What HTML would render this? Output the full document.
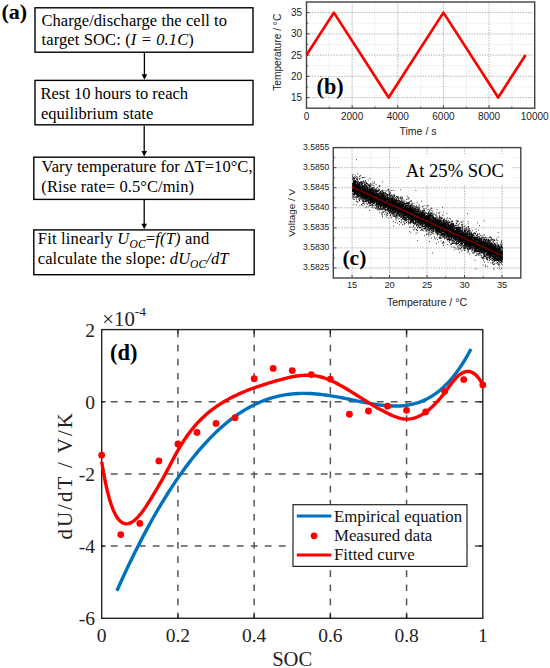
<!DOCTYPE html>
<html><head><meta charset="utf-8"><style>
html,body{margin:0;padding:0;background:#fff;}
svg{display:block;}
</style></head><body>
<svg width="550" height="668" viewBox="0 0 550 668">
<rect width="550" height="668" fill="#fff"/>
<text x="1.5" y="19" font-family="'Liberation Serif', serif" font-weight="bold" font-size="22">(a)</text>
<rect x="35" y="7.8" width="218.00" height="44.40" fill="none" stroke="#000" stroke-width="1.4"/>
<rect x="35" y="80.4" width="218.00" height="44.40" fill="none" stroke="#000" stroke-width="1.4"/>
<rect x="33.8" y="157.2" width="220.40" height="42.20" fill="none" stroke="#000" stroke-width="1.4"/>
<rect x="33.8" y="229.9" width="220.40" height="44.80" fill="none" stroke="#000" stroke-width="1.4"/>
<line x1="144.4" y1="52.5" x2="144.4" y2="75.2" stroke="#000" stroke-width="1.3"/>
<path d="M141.6,74.2 L147.20000000000002,74.2 L144.4,79.7 Z" fill="#000"/>
<line x1="144.2" y1="125.5" x2="144.2" y2="152.0" stroke="#000" stroke-width="1.3"/>
<path d="M141.39999999999998,151.0 L147.0,151.0 L144.2,156.5 Z" fill="#000"/>
<line x1="144.2" y1="200.1" x2="144.2" y2="224.7" stroke="#000" stroke-width="1.3"/>
<path d="M141.39999999999998,223.7 L147.0,223.7 L144.2,229.2 Z" fill="#000"/>
<text x="41.5" y="25.7" font-family="'Liberation Serif', serif" font-size="16.5" textLength="185.5" lengthAdjust="spacing">Charge/discharge the cell to</text>
<text x="41.5" y="44.7" font-family="'Liberation Serif', serif" font-size="16.5" textLength="152.3" lengthAdjust="spacing">target SOC: (<tspan font-style="italic">I = 0.1C</tspan>)</text>
<text x="40.5" y="99.0" font-family="'Liberation Serif', serif" font-size="16.5">Rest 10 hours to reach</text>
<text x="41" y="118.8" font-family="'Liberation Serif', serif" font-size="16.5">equilibrium</text>
<text x="123" y="118.8" font-family="'Liberation Serif', serif" font-size="16.5">state</text>
<text x="41.5" y="171.7" font-family="'Liberation Serif', serif" font-size="16.5" textLength="211" lengthAdjust="spacing">Vary temperature for ΔT=10°C,</text>
<text x="41.3" y="191.8" font-family="'Liberation Serif', serif" font-size="16.5" textLength="152.8" lengthAdjust="spacing">(Rise rate= 0.5°C/min)</text>
<text x="37.8" y="244.4" font-family="'Liberation Serif', serif" font-size="16.5" textLength="171.5" lengthAdjust="spacing">Fit linearly <tspan font-style="italic">U</tspan><tspan font-style="italic" font-size="11.5" dy="3.8">OC</tspan><tspan dy="-3.8">=</tspan><tspan font-style="italic">f(T)</tspan> and</text>
<text x="37.8" y="264.2" font-family="'Liberation Serif', serif" font-size="16.5" textLength="190.6" lengthAdjust="spacing">calculate the slope: <tspan font-style="italic">dU</tspan><tspan font-style="italic" font-size="11.5" dy="3.8">OC</tspan><tspan font-style="italic" dy="-3.8">/dT</tspan></text>
<line x1="329.32" y1="2.0" x2="329.32" y2="108.2" stroke="#e2e2e2" stroke-width="0.9" stroke-dasharray="1.4 1.3"/>
<line x1="352.14" y1="2.0" x2="352.14" y2="108.2" stroke="#a8a8a8" stroke-width="0.9" stroke-dasharray="1.4 1.3"/>
<line x1="374.96" y1="2.0" x2="374.96" y2="108.2" stroke="#e2e2e2" stroke-width="0.9" stroke-dasharray="1.4 1.3"/>
<line x1="397.78" y1="2.0" x2="397.78" y2="108.2" stroke="#a8a8a8" stroke-width="0.9" stroke-dasharray="1.4 1.3"/>
<line x1="420.60" y1="2.0" x2="420.60" y2="108.2" stroke="#e2e2e2" stroke-width="0.9" stroke-dasharray="1.4 1.3"/>
<line x1="443.42" y1="2.0" x2="443.42" y2="108.2" stroke="#a8a8a8" stroke-width="0.9" stroke-dasharray="1.4 1.3"/>
<line x1="466.24" y1="2.0" x2="466.24" y2="108.2" stroke="#e2e2e2" stroke-width="0.9" stroke-dasharray="1.4 1.3"/>
<line x1="489.06" y1="2.0" x2="489.06" y2="108.2" stroke="#a8a8a8" stroke-width="0.9" stroke-dasharray="1.4 1.3"/>
<line x1="511.88" y1="2.0" x2="511.88" y2="108.2" stroke="#e2e2e2" stroke-width="0.9" stroke-dasharray="1.4 1.3"/>
<line x1="306.5" y1="97.58" x2="534.7" y2="97.58" stroke="#a8a8a8" stroke-width="0.9" stroke-dasharray="1.4 1.3"/>
<line x1="306.5" y1="86.96" x2="534.7" y2="86.96" stroke="#e2e2e2" stroke-width="0.9" stroke-dasharray="1.4 1.3"/>
<line x1="306.5" y1="76.34" x2="534.7" y2="76.34" stroke="#a8a8a8" stroke-width="0.9" stroke-dasharray="1.4 1.3"/>
<line x1="306.5" y1="65.72" x2="534.7" y2="65.72" stroke="#e2e2e2" stroke-width="0.9" stroke-dasharray="1.4 1.3"/>
<line x1="306.5" y1="55.10" x2="534.7" y2="55.10" stroke="#a8a8a8" stroke-width="0.9" stroke-dasharray="1.4 1.3"/>
<line x1="306.5" y1="44.48" x2="534.7" y2="44.48" stroke="#e2e2e2" stroke-width="0.9" stroke-dasharray="1.4 1.3"/>
<line x1="306.5" y1="33.86" x2="534.7" y2="33.86" stroke="#a8a8a8" stroke-width="0.9" stroke-dasharray="1.4 1.3"/>
<line x1="306.5" y1="23.24" x2="534.7" y2="23.24" stroke="#e2e2e2" stroke-width="0.9" stroke-dasharray="1.4 1.3"/>
<line x1="306.5" y1="12.62" x2="534.7" y2="12.62" stroke="#a8a8a8" stroke-width="0.9" stroke-dasharray="1.4 1.3"/>
<line x1="329.32" y1="108.2" x2="329.32" y2="106.60000000000001" stroke="#444" stroke-width="1"/>
<line x1="352.14" y1="108.2" x2="352.14" y2="105.2" stroke="#444" stroke-width="1"/>
<line x1="374.96" y1="108.2" x2="374.96" y2="106.60000000000001" stroke="#444" stroke-width="1"/>
<line x1="397.78" y1="108.2" x2="397.78" y2="105.2" stroke="#444" stroke-width="1"/>
<line x1="420.60" y1="108.2" x2="420.60" y2="106.60000000000001" stroke="#444" stroke-width="1"/>
<line x1="443.42" y1="108.2" x2="443.42" y2="105.2" stroke="#444" stroke-width="1"/>
<line x1="466.24" y1="108.2" x2="466.24" y2="106.60000000000001" stroke="#444" stroke-width="1"/>
<line x1="489.06" y1="108.2" x2="489.06" y2="105.2" stroke="#444" stroke-width="1"/>
<line x1="511.88" y1="108.2" x2="511.88" y2="106.60000000000001" stroke="#444" stroke-width="1"/>
<line x1="306.5" y1="97.58" x2="309.5" y2="97.58" stroke="#444" stroke-width="1"/>
<line x1="306.5" y1="86.96" x2="308.1" y2="86.96" stroke="#444" stroke-width="1"/>
<line x1="306.5" y1="76.34" x2="309.5" y2="76.34" stroke="#444" stroke-width="1"/>
<line x1="306.5" y1="65.72" x2="308.1" y2="65.72" stroke="#444" stroke-width="1"/>
<line x1="306.5" y1="55.10" x2="309.5" y2="55.10" stroke="#444" stroke-width="1"/>
<line x1="306.5" y1="44.48" x2="308.1" y2="44.48" stroke="#444" stroke-width="1"/>
<line x1="306.5" y1="33.86" x2="309.5" y2="33.86" stroke="#444" stroke-width="1"/>
<line x1="306.5" y1="23.24" x2="308.1" y2="23.24" stroke="#444" stroke-width="1"/>
<line x1="306.5" y1="12.62" x2="309.5" y2="12.62" stroke="#444" stroke-width="1"/>
<rect x="306.5" y="2.0" width="228.20" height="106.20" fill="none" stroke="#444" stroke-width="1.4"/>
<polyline points="306.50,55.10 333.88,12.62 388.65,97.58 443.42,12.62 498.19,97.58 525.57,55.10" fill="none" stroke="#f00" stroke-width="2.7" stroke-linejoin="round"/>
<text x="306.50" y="119.5" font-family="'Liberation Sans', sans-serif" font-size="10" text-anchor="middle" fill="#222">0</text>
<text x="352.14" y="119.5" font-family="'Liberation Sans', sans-serif" font-size="10" text-anchor="middle" fill="#222">2000</text>
<text x="397.78" y="119.5" font-family="'Liberation Sans', sans-serif" font-size="10" text-anchor="middle" fill="#222">4000</text>
<text x="443.42" y="119.5" font-family="'Liberation Sans', sans-serif" font-size="10" text-anchor="middle" fill="#222">6000</text>
<text x="489.06" y="119.5" font-family="'Liberation Sans', sans-serif" font-size="10" text-anchor="middle" fill="#222">8000</text>
<text x="534.70" y="119.5" font-family="'Liberation Sans', sans-serif" font-size="10" text-anchor="middle" fill="#222">10000</text>
<text x="302" y="101.18" font-family="'Liberation Sans', sans-serif" font-size="10" text-anchor="end" fill="#222">15</text>
<text x="302" y="79.94" font-family="'Liberation Sans', sans-serif" font-size="10" text-anchor="end" fill="#222">20</text>
<text x="302" y="58.70" font-family="'Liberation Sans', sans-serif" font-size="10" text-anchor="end" fill="#222">25</text>
<text x="302" y="37.46" font-family="'Liberation Sans', sans-serif" font-size="10" text-anchor="end" fill="#222">30</text>
<text x="302" y="16.22" font-family="'Liberation Sans', sans-serif" font-size="10" text-anchor="end" fill="#222">35</text>
<text x="418" y="135" font-family="'Liberation Sans', sans-serif" font-size="10.5" text-anchor="middle" fill="#222">Time / s</text>
<text transform="translate(280.8,52.3) rotate(-90)" x="0" y="0" font-family="'Liberation Sans', sans-serif" font-size="10.2" text-anchor="middle" fill="#222">Temperature / °C</text>
<text x="316.5" y="94" font-family="'Liberation Serif', serif" font-weight="bold" font-size="22.2">(b)</text>
<line x1="352.05" y1="147.6" x2="352.05" y2="278.0" stroke="#a8a8a8" stroke-width="0.9" stroke-dasharray="1.4 1.3"/>
<line x1="370.80" y1="147.6" x2="370.80" y2="278.0" stroke="#e2e2e2" stroke-width="0.9" stroke-dasharray="1.4 1.3"/>
<line x1="389.55" y1="147.6" x2="389.55" y2="278.0" stroke="#a8a8a8" stroke-width="0.9" stroke-dasharray="1.4 1.3"/>
<line x1="408.30" y1="147.6" x2="408.30" y2="278.0" stroke="#e2e2e2" stroke-width="0.9" stroke-dasharray="1.4 1.3"/>
<line x1="427.05" y1="147.6" x2="427.05" y2="278.0" stroke="#a8a8a8" stroke-width="0.9" stroke-dasharray="1.4 1.3"/>
<line x1="445.80" y1="147.6" x2="445.80" y2="278.0" stroke="#e2e2e2" stroke-width="0.9" stroke-dasharray="1.4 1.3"/>
<line x1="464.55" y1="147.6" x2="464.55" y2="278.0" stroke="#a8a8a8" stroke-width="0.9" stroke-dasharray="1.4 1.3"/>
<line x1="483.30" y1="147.6" x2="483.30" y2="278.0" stroke="#e2e2e2" stroke-width="0.9" stroke-dasharray="1.4 1.3"/>
<line x1="502.05" y1="147.6" x2="502.05" y2="278.0" stroke="#a8a8a8" stroke-width="0.9" stroke-dasharray="1.4 1.3"/>
<line x1="333.3" y1="267.97" x2="520.8" y2="267.97" stroke="#a8a8a8" stroke-width="0.9" stroke-dasharray="1.4 1.3"/>
<line x1="333.3" y1="257.94" x2="520.8" y2="257.94" stroke="#e2e2e2" stroke-width="0.9" stroke-dasharray="1.4 1.3"/>
<line x1="333.3" y1="247.91" x2="520.8" y2="247.91" stroke="#a8a8a8" stroke-width="0.9" stroke-dasharray="1.4 1.3"/>
<line x1="333.3" y1="237.88" x2="520.8" y2="237.88" stroke="#e2e2e2" stroke-width="0.9" stroke-dasharray="1.4 1.3"/>
<line x1="333.3" y1="227.85" x2="520.8" y2="227.85" stroke="#a8a8a8" stroke-width="0.9" stroke-dasharray="1.4 1.3"/>
<line x1="333.3" y1="217.82" x2="520.8" y2="217.82" stroke="#e2e2e2" stroke-width="0.9" stroke-dasharray="1.4 1.3"/>
<line x1="333.3" y1="207.78" x2="520.8" y2="207.78" stroke="#a8a8a8" stroke-width="0.9" stroke-dasharray="1.4 1.3"/>
<line x1="333.3" y1="197.75" x2="520.8" y2="197.75" stroke="#e2e2e2" stroke-width="0.9" stroke-dasharray="1.4 1.3"/>
<line x1="333.3" y1="187.72" x2="520.8" y2="187.72" stroke="#a8a8a8" stroke-width="0.9" stroke-dasharray="1.4 1.3"/>
<line x1="333.3" y1="177.69" x2="520.8" y2="177.69" stroke="#e2e2e2" stroke-width="0.9" stroke-dasharray="1.4 1.3"/>
<line x1="333.3" y1="167.66" x2="520.8" y2="167.66" stroke="#a8a8a8" stroke-width="0.9" stroke-dasharray="1.4 1.3"/>
<line x1="333.3" y1="157.63" x2="520.8" y2="157.63" stroke="#e2e2e2" stroke-width="0.9" stroke-dasharray="1.4 1.3"/>
<line x1="352.05" y1="278.0" x2="352.05" y2="275.0" stroke="#444" stroke-width="1"/>
<line x1="370.80" y1="278.0" x2="370.80" y2="276.4" stroke="#444" stroke-width="1"/>
<line x1="389.55" y1="278.0" x2="389.55" y2="275.0" stroke="#444" stroke-width="1"/>
<line x1="408.30" y1="278.0" x2="408.30" y2="276.4" stroke="#444" stroke-width="1"/>
<line x1="427.05" y1="278.0" x2="427.05" y2="275.0" stroke="#444" stroke-width="1"/>
<line x1="445.80" y1="278.0" x2="445.80" y2="276.4" stroke="#444" stroke-width="1"/>
<line x1="464.55" y1="278.0" x2="464.55" y2="275.0" stroke="#444" stroke-width="1"/>
<line x1="483.30" y1="278.0" x2="483.30" y2="276.4" stroke="#444" stroke-width="1"/>
<line x1="502.05" y1="278.0" x2="502.05" y2="275.0" stroke="#444" stroke-width="1"/>
<line x1="333.3" y1="267.97" x2="336.3" y2="267.97" stroke="#444" stroke-width="1"/>
<line x1="333.3" y1="257.94" x2="334.90000000000003" y2="257.94" stroke="#444" stroke-width="1"/>
<line x1="333.3" y1="247.91" x2="336.3" y2="247.91" stroke="#444" stroke-width="1"/>
<line x1="333.3" y1="237.88" x2="334.90000000000003" y2="237.88" stroke="#444" stroke-width="1"/>
<line x1="333.3" y1="227.85" x2="336.3" y2="227.85" stroke="#444" stroke-width="1"/>
<line x1="333.3" y1="217.82" x2="334.90000000000003" y2="217.82" stroke="#444" stroke-width="1"/>
<line x1="333.3" y1="207.78" x2="336.3" y2="207.78" stroke="#444" stroke-width="1"/>
<line x1="333.3" y1="197.75" x2="334.90000000000003" y2="197.75" stroke="#444" stroke-width="1"/>
<line x1="333.3" y1="187.72" x2="336.3" y2="187.72" stroke="#444" stroke-width="1"/>
<line x1="333.3" y1="177.69" x2="334.90000000000003" y2="177.69" stroke="#444" stroke-width="1"/>
<line x1="333.3" y1="167.66" x2="336.3" y2="167.66" stroke="#444" stroke-width="1"/>
<line x1="333.3" y1="157.63" x2="334.90000000000003" y2="157.63" stroke="#444" stroke-width="1"/>
<rect x="399.5" y="154" width="112.5" height="30.5" fill="#fff"/>
<clipPath id="cc"><rect x="334.0" y="148.29999999999998" width="186.10" height="129.00"/></clipPath>
<path clip-path="url(#cc)" d="M445.8 228.5h.8M486.6 246.7h.8M468.4 231.1h.8M385.8 206.4h.8M397.1 205.5h.8M483.1 243.3h.8M352.8 186.7h.8M475.2 244.2h.8M471.6 246.4h.8M422.2 221.7h.8M397.5 204.1h.8M393.8 198.7h.8M390.3 207.4h.8M418.8 215.0h.8M427.7 220.0h.8M435.1 219.8h.8M501.4 253.8h.8M470.9 239.0h.8M445.4 225.0h.8M500.4 260.3h.8M384.3 201.3h.8M376.1 206.3h.8M443.9 238.4h.8M358.6 193.8h.8M357.4 196.7h.8M429.3 219.6h.8M422.0 213.9h.8M489.6 251.2h.8M446.4 230.6h.8M429.2 223.2h.8M426.6 206.2h.8M389.2 203.1h.8M353.8 185.8h.8M380.9 202.2h.8M455.9 238.1h.8M382.1 203.0h.8M407.5 214.7h.8M352.6 178.4h.8M476.6 236.6h.8M375.2 198.5h.8M392.2 198.5h.8M484.1 252.9h.8M428.5 225.1h.8M479.1 242.5h.8M448.0 228.3h.8M463.3 238.4h.8M365.8 183.1h.8M433.2 223.5h.8M428.2 220.2h.8M482.8 249.3h.8M406.2 203.5h.8M441.8 223.6h.8M360.9 188.8h.8M410.2 221.3h.8M400.5 207.2h.8M374.6 199.3h.8M474.5 240.9h.8M409.0 208.4h.8M498.9 257.5h.8M440.5 226.2h.8M442.8 224.0h.8M447.7 229.7h.8M453.5 234.8h.8M374.7 189.9h.8M418.1 220.2h.8M388.0 209.3h.8M412.4 209.6h.8M366.6 192.9h.8M497.2 259.0h.8M384.3 201.5h.8M452.8 239.1h.8M397.1 223.3h.8M483.2 240.9h.8M451.4 226.5h.8M371.8 202.9h.8M478.8 248.2h.8M493.8 250.6h.8M487.6 250.6h.8M437.5 230.0h.8M373.9 199.2h.8M380.9 201.1h.8M491.2 253.1h.8M434.9 223.6h.8M379.1 200.3h.8M484.7 251.1h.8M448.3 230.7h.8M437.5 233.9h.8M408.5 205.6h.8M413.7 229.3h.8M388.0 203.6h.8M357.8 187.7h.8M483.5 244.9h.8M422.2 217.6h.8M434.2 218.3h.8M400.4 214.3h.8M464.7 238.7h.8M355.8 187.8h.8M407.9 214.7h.8M356.6 191.7h.8M370.5 189.0h.8M497.1 256.6h.8M450.7 234.2h.8M416.3 205.4h.8M430.6 223.7h.8M483.0 245.9h.8M403.7 211.4h.8M440.6 225.5h.8M454.6 233.0h.8M405.4 208.9h.8M429.9 215.8h.8M466.8 243.4h.8M488.4 241.2h.8M374.7 199.3h.8M492.1 247.6h.8M352.8 186.4h.8M465.0 239.9h.8M473.6 251.8h.8M372.6 184.0h.8M414.9 219.2h.8M474.3 246.5h.8M354.2 182.7h.8M446.3 229.6h.8M471.0 232.1h.8M429.0 216.8h.8M460.9 233.2h.8M386.0 201.1h.8M381.8 201.6h.8M406.5 218.0h.8M379.0 198.3h.8M404.0 209.8h.8M494.3 254.1h.8M438.0 224.9h.8M403.1 217.2h.8M392.8 201.1h.8M494.9 246.0h.8M418.7 223.5h.8M499.1 253.4h.8M429.4 210.8h.8M430.2 220.6h.8M486.5 253.3h.8M463.5 242.5h.8M439.1 222.6h.8M416.0 207.3h.8M483.8 252.3h.8M413.8 214.9h.8M490.5 253.8h.8M362.4 192.9h.8M416.5 214.8h.8M430.0 222.7h.8M494.7 255.3h.8M389.7 194.0h.8M473.0 242.9h.8M453.5 234.1h.8M459.6 230.7h.8M446.5 230.0h.8M497.8 254.5h.8M402.0 205.1h.8M411.8 219.1h.8M382.5 197.2h.8M359.7 185.4h.8M384.0 198.3h.8M489.4 250.5h.8M478.1 244.5h.8M368.9 202.7h.8M442.6 228.9h.8M423.9 218.3h.8M441.3 222.4h.8M450.9 231.4h.8M398.0 209.7h.8M496.3 256.8h.8M421.9 219.0h.8M446.3 229.3h.8M447.3 224.6h.8M379.6 199.4h.8M361.3 193.5h.8M413.8 215.6h.8M466.7 241.6h.8M474.3 243.9h.8M461.5 247.4h.8M369.0 202.2h.8M489.1 255.2h.8M472.4 239.6h.8M483.7 247.4h.8M430.5 221.2h.8M489.4 244.1h.8M359.0 195.0h.8M356.6 183.5h.8M355.1 186.4h.8M390.0 207.6h.8M389.3 196.8h.8M380.2 206.5h.8M437.1 231.1h.8M357.9 190.5h.8M440.6 225.4h.8M377.0 199.1h.8M453.7 243.5h.8M355.2 189.7h.8M398.6 208.5h.8M492.8 239.1h.8M432.8 217.2h.8M473.8 241.9h.8M450.8 237.2h.8M443.7 227.1h.8M380.7 205.5h.8M438.2 225.3h.8M358.0 187.8h.8M472.3 243.7h.8M496.1 251.5h.8M480.2 247.0h.8M359.7 193.0h.8M402.8 202.8h.8M399.8 205.9h.8M369.0 196.0h.8M446.0 233.5h.8M471.7 240.7h.8M399.1 205.7h.8M481.5 242.0h.8M471.6 234.5h.8M371.4 193.5h.8M467.1 244.8h.8M484.4 237.8h.8M381.6 194.9h.8M438.1 222.3h.8M447.9 226.5h.8M443.5 235.7h.8M366.5 195.2h.8M451.2 234.6h.8M446.8 224.6h.8M475.6 229.4h.8M472.6 243.5h.8M401.1 202.1h.8M460.4 245.8h.8M482.1 248.2h.8M486.0 239.2h.8M376.3 204.2h.8M356.1 186.5h.8M449.7 232.6h.8M384.3 199.2h.8M436.6 226.8h.8M493.8 255.6h.8M408.9 211.9h.8M390.0 210.5h.8M420.5 215.7h.8M450.6 233.5h.8M367.2 189.4h.8M409.1 215.1h.8M372.1 199.2h.8M451.4 230.4h.8M476.6 238.0h.8M408.6 222.6h.8M407.8 211.8h.8M433.0 220.9h.8M384.3 208.4h.8M389.2 208.0h.8M401.5 206.4h.8M420.7 222.2h.8M364.3 195.5h.8M465.0 230.4h.8M438.9 231.1h.8M397.0 211.5h.8M363.7 203.2h.8M466.5 244.4h.8M371.7 201.7h.8M372.0 187.9h.8M371.7 190.1h.8M364.2 198.4h.8M488.0 239.7h.8M392.4 201.7h.8M398.0 208.8h.8M477.0 240.2h.8M445.0 227.6h.8M380.1 203.3h.8M417.3 225.1h.8M484.6 251.8h.8M408.4 212.7h.8M458.7 237.3h.8M366.6 197.0h.8M461.1 232.2h.8M468.5 245.2h.8M475.9 239.3h.8M453.2 235.4h.8M407.7 211.8h.8M361.7 196.6h.8M429.9 222.5h.8M465.7 242.6h.8M380.7 208.3h.8M392.0 205.2h.8M432.5 223.9h.8M464.3 234.3h.8M486.5 247.1h.8M370.9 200.3h.8M379.7 202.4h.8M472.0 243.8h.8M448.7 236.4h.8M460.2 230.2h.8M501.6 248.1h.8M492.9 247.7h.8M478.5 243.3h.8M468.6 237.4h.8M411.3 211.7h.8M448.2 239.1h.8M379.7 203.7h.8M466.0 233.4h.8M465.7 233.3h.8M460.2 241.1h.8M418.8 218.9h.8M408.8 214.7h.8M415.0 218.3h.8M357.1 193.6h.8M478.7 254.0h.8M433.4 223.4h.8M410.2 211.1h.8M434.3 225.5h.8M460.3 228.3h.8M409.3 210.3h.8M476.6 247.2h.8M490.0 247.2h.8M410.2 220.6h.8M372.7 191.3h.8M466.1 237.8h.8M501.0 255.9h.8M374.2 194.3h.8M459.0 228.9h.8M475.8 245.7h.8M490.1 254.8h.8M370.6 185.3h.8M365.8 193.1h.8M500.2 247.6h.8M369.6 198.1h.8M378.6 197.2h.8M438.3 229.4h.8M419.0 214.5h.8M464.6 239.7h.8M380.6 203.2h.8M489.2 242.2h.8M384.6 200.2h.8M467.4 249.3h.8M362.2 192.7h.8M423.1 223.8h.8M356.9 194.9h.8M399.1 211.2h.8M398.9 210.6h.8M460.0 236.1h.8M420.3 221.9h.8M360.6 199.7h.8M501.4 257.8h.8M485.4 243.7h.8M489.5 256.3h.8M389.0 200.9h.8M411.2 211.8h.8M386.1 204.6h.8M370.8 194.0h.8M357.0 192.7h.8M427.6 223.4h.8M370.5 200.2h.8M378.5 196.8h.8M481.1 239.4h.8M424.7 223.4h.8M379.6 193.8h.8M452.5 243.1h.8M391.9 209.4h.8M431.1 227.9h.8M394.5 198.1h.8M429.5 225.2h.8M446.3 226.3h.8M432.5 233.5h.8M411.4 213.5h.8M470.7 238.5h.8M483.1 247.0h.8M379.0 212.3h.8M372.5 195.4h.8M369.0 190.8h.8M499.0 247.8h.8M493.3 249.6h.8M386.7 210.8h.8M497.5 254.5h.8M383.2 196.8h.8M428.0 225.6h.8M426.7 218.3h.8M489.3 248.2h.8M358.1 189.3h.8M399.4 204.9h.8M442.0 231.5h.8M362.0 177.7h.8M387.5 202.4h.8M421.8 217.2h.8M484.2 250.9h.8M466.2 238.8h.8M476.4 245.1h.8M466.2 246.1h.8M458.2 242.8h.8M479.5 243.8h.8M454.3 234.1h.8M462.4 250.0h.8M397.3 217.9h.8M377.2 199.9h.8M465.5 239.2h.8M376.9 195.4h.8M490.0 256.0h.8M441.5 225.0h.8M401.5 211.0h.8M492.5 253.6h.8M375.3 198.2h.8M429.2 217.5h.8M365.8 190.5h.8M496.9 248.9h.8M438.4 229.7h.8M472.6 243.4h.8M394.3 211.9h.8M472.3 244.6h.8M457.5 237.1h.8M448.6 233.3h.8M494.6 248.7h.8M417.1 214.6h.8M414.3 211.7h.8M455.9 233.8h.8M477.3 239.1h.8M402.3 209.4h.8M452.5 228.2h.8M383.4 198.8h.8M434.8 221.2h.8M467.4 240.0h.8M361.8 197.4h.8M461.2 243.8h.8M354.4 178.6h.8M495.8 250.8h.8M422.4 216.9h.8M413.4 215.8h.8M460.1 238.6h.8M430.5 209.0h.8M461.7 242.5h.8M364.8 193.0h.8M436.5 225.8h.8M435.8 230.7h.8M491.9 257.0h.8M358.0 193.0h.8M420.0 219.6h.8M446.7 232.6h.8M434.7 220.8h.8M363.2 197.7h.8M441.0 225.7h.8M385.4 195.1h.8M381.4 196.0h.8M483.9 252.7h.8M381.7 214.7h.8M420.2 214.0h.8M464.6 236.0h.8M458.1 239.1h.8M435.1 218.7h.8M473.1 244.2h.8M421.9 218.4h.8M445.1 234.5h.8M474.9 241.6h.8M453.8 235.5h.8M448.3 233.4h.8M413.0 209.6h.8M435.8 224.2h.8M411.5 221.3h.8M463.7 234.7h.8M409.1 209.0h.8M422.0 222.9h.8M465.4 240.6h.8M427.6 221.2h.8M402.8 211.3h.8M476.1 243.1h.8M409.2 209.9h.8M478.8 247.2h.8M469.8 230.8h.8M419.1 221.0h.8M459.0 238.4h.8M357.2 179.8h.8M410.5 211.3h.8M481.1 245.8h.8M439.0 227.6h.8M435.7 230.4h.8M451.8 227.0h.8M453.7 232.6h.8M439.6 231.0h.8M415.1 213.8h.8M379.6 192.9h.8M395.9 203.7h.8M396.0 196.4h.8M416.7 210.9h.8M501.9 253.3h.8M404.9 211.3h.8M419.2 215.0h.8M407.8 206.6h.8M439.3 222.7h.8M494.2 246.9h.8M485.4 246.8h.8M408.6 209.1h.8M392.1 199.4h.8M484.7 248.4h.8M426.1 227.0h.8M454.9 225.6h.8M363.0 193.2h.8M482.0 248.5h.8M399.0 207.3h.8M426.2 222.0h.8M381.8 208.7h.8M415.1 216.6h.8M476.3 250.6h.8M476.2 242.7h.8M423.1 219.9h.8M467.2 234.1h.8M420.8 218.9h.8M408.1 210.7h.8M433.9 225.8h.8M382.3 202.6h.8M399.5 215.4h.8M458.0 230.6h.8M467.6 239.0h.8M360.6 193.6h.8M462.0 236.2h.8M474.7 245.0h.8M418.8 221.0h.8M361.4 190.0h.8M454.5 227.9h.8M389.0 205.1h.8M448.6 237.9h.8M408.5 215.7h.8M447.6 222.0h.8M390.8 208.5h.8M423.5 213.9h.8M430.8 210.7h.8M446.7 226.7h.8M382.5 201.4h.8M496.4 260.5h.8M395.4 208.7h.8M398.0 197.7h.8M390.5 205.1h.8M362.2 188.8h.8M415.5 217.6h.8M467.8 240.5h.8M458.5 234.1h.8M381.4 198.1h.8M372.6 185.6h.8M400.3 209.0h.8M467.3 240.5h.8M425.3 223.6h.8M490.5 239.6h.8M450.5 239.7h.8M445.2 226.3h.8M467.2 248.5h.8M464.6 231.6h.8M403.6 206.4h.8M390.6 206.0h.8M417.7 222.5h.8M425.4 220.3h.8M373.3 196.5h.8M418.2 211.8h.8M448.0 234.4h.8M372.4 196.7h.8M372.8 196.6h.8M378.1 200.2h.8M394.5 209.4h.8M496.3 261.1h.8M355.9 196.6h.8M379.6 202.8h.8M376.8 199.3h.8M423.2 214.6h.8M354.3 176.8h.8M420.8 210.1h.8M376.5 196.2h.8M392.5 196.4h.8M470.9 241.8h.8M379.7 202.1h.8M444.6 228.4h.8M413.0 219.9h.8M414.7 217.5h.8M474.6 244.2h.8M376.2 190.9h.8M490.6 253.1h.8M486.1 244.4h.8M452.3 234.7h.8M359.5 196.2h.8M451.5 231.3h.8M442.1 227.3h.8M467.9 245.4h.8M384.1 205.7h.8M495.1 256.1h.8M485.0 243.1h.8M369.2 192.5h.8M399.3 207.4h.8M356.9 186.8h.8M476.7 246.2h.8M489.3 247.4h.8M500.5 257.7h.8M443.8 235.3h.8M451.9 236.0h.8M453.8 232.4h.8M437.6 225.6h.8M494.9 247.2h.8M443.2 236.7h.8M402.4 211.0h.8M429.0 220.2h.8M354.8 192.8h.8M460.7 235.4h.8M456.1 236.5h.8M415.2 221.2h.8M479.8 239.9h.8M465.4 245.4h.8M402.6 205.2h.8M363.7 194.2h.8M371.9 200.5h.8M379.7 203.8h.8M397.6 211.3h.8M419.2 221.7h.8M491.2 249.3h.8M393.8 215.0h.8M486.8 242.6h.8M454.1 229.6h.8M480.1 238.8h.8M412.5 219.3h.8M352.5 198.3h.8M470.1 243.9h.8M388.9 204.5h.8M373.4 195.2h.8M472.0 244.2h.8M455.0 234.4h.8M383.9 200.7h.8M392.2 212.7h.8M492.9 242.6h.8M392.3 210.7h.8M457.4 233.8h.8M371.5 190.6h.8M474.3 246.6h.8M369.7 194.9h.8M429.5 214.4h.8M357.3 190.6h.8M434.6 219.6h.8M479.0 243.6h.8M364.7 191.6h.8M393.2 202.2h.8M466.8 240.4h.8M443.3 229.6h.8M399.0 203.7h.8M446.4 228.8h.8M420.3 215.7h.8M481.4 249.2h.8M396.0 206.9h.8M465.7 233.0h.8M447.4 226.1h.8M463.1 236.0h.8M408.8 215.3h.8M460.8 239.5h.8M456.8 232.7h.8M410.2 206.6h.8M356.0 188.5h.8M496.5 246.6h.8M459.1 237.3h.8M382.8 195.1h.8M461.7 241.8h.8M393.9 205.1h.8M422.4 224.2h.8M481.0 242.7h.8M419.3 214.8h.8M395.3 211.2h.8M397.9 211.4h.8M363.6 194.3h.8M385.0 209.1h.8M392.7 209.9h.8M378.0 207.0h.8M361.5 187.4h.8M421.9 212.1h.8M384.2 203.7h.8M462.9 238.9h.8M490.4 249.1h.8M393.0 208.1h.8M437.9 227.4h.8M428.1 217.6h.8M363.3 190.9h.8M370.8 195.8h.8M484.8 250.3h.8M423.2 212.3h.8M472.7 245.0h.8M362.0 190.8h.8M441.3 232.6h.8M481.8 249.1h.8M482.1 245.9h.8M352.9 189.1h.8M430.3 220.1h.8M407.4 211.8h.8M466.1 245.6h.8M363.0 203.0h.8M391.8 200.2h.8M473.9 245.4h.8M422.5 212.0h.8M420.0 217.9h.8M497.3 257.0h.8M400.0 206.1h.8M358.3 191.0h.8M410.9 213.7h.8M375.1 201.8h.8M364.3 189.4h.8M437.2 220.5h.8M495.1 254.8h.8M439.0 218.0h.8M449.1 234.0h.8M400.6 207.9h.8M437.7 233.9h.8M464.9 247.7h.8M440.4 217.2h.8M472.5 235.1h.8M434.6 219.1h.8M381.8 196.3h.8M439.5 225.7h.8M425.7 218.5h.8M376.9 197.9h.8M444.9 227.9h.8M474.6 247.3h.8M372.3 196.9h.8M433.8 229.7h.8M462.1 238.9h.8M412.5 212.7h.8M392.6 209.1h.8M407.9 213.7h.8M433.3 226.1h.8M455.0 233.9h.8M435.9 220.8h.8M368.1 193.1h.8M474.7 241.1h.8M490.6 257.2h.8M367.2 195.6h.8M389.5 200.1h.8M378.1 202.9h.8M479.4 247.2h.8M488.6 254.0h.8M358.7 183.5h.8M401.9 211.9h.8M380.9 203.6h.8M422.5 216.1h.8M490.3 244.8h.8M362.6 189.3h.8M377.7 193.9h.8M425.1 219.3h.8M430.7 223.4h.8M463.9 240.1h.8M417.7 219.3h.8M373.2 199.4h.8M405.1 209.4h.8M499.4 254.8h.8M464.7 238.0h.8M369.5 191.9h.8M473.3 242.6h.8M398.7 214.8h.8M469.3 244.3h.8M354.0 178.4h.8M482.7 265.0h.8M376.4 197.5h.8M420.4 223.9h.8M451.3 238.5h.8M428.2 226.9h.8M376.9 194.0h.8M372.9 197.9h.8M394.7 201.6h.8M359.9 190.9h.8M384.5 211.4h.8M371.6 193.1h.8M421.8 215.9h.8M405.5 210.8h.8M440.1 232.1h.8M394.2 208.4h.8M357.1 194.9h.8M401.7 210.9h.8M465.3 238.3h.8M390.4 197.3h.8M412.7 207.9h.8M465.3 235.4h.8M413.1 210.2h.8M485.1 246.7h.8M489.8 236.6h.8M398.6 200.9h.8M462.4 224.7h.8M390.0 202.4h.8M373.0 194.5h.8M417.7 211.9h.8M442.4 227.3h.8M492.4 249.6h.8M373.9 201.7h.8M458.9 231.3h.8M423.4 218.9h.8M371.8 192.1h.8M497.9 254.7h.8M456.4 243.2h.8M371.4 193.3h.8M487.9 243.4h.8M367.5 200.1h.8M365.9 197.9h.8M401.8 211.1h.8M492.7 252.5h.8M357.0 197.4h.8M489.8 241.5h.8M443.8 224.0h.8M362.1 194.5h.8M437.3 234.6h.8M420.9 216.7h.8M436.6 216.1h.8M462.6 233.5h.8M453.8 227.9h.8M501.6 259.9h.8M375.6 196.5h.8M474.0 249.9h.8M413.7 205.6h.8M469.5 230.2h.8M485.8 258.2h.8M500.8 263.9h.8M392.0 202.9h.8M420.0 217.3h.8M493.5 253.1h.8M493.9 248.8h.8M408.0 202.8h.8M493.1 249.7h.8M412.9 223.5h.8M408.3 213.4h.8M465.5 245.1h.8M422.7 223.1h.8M419.3 216.1h.8M410.0 214.2h.8M417.0 221.8h.8M373.0 196.7h.8M361.2 195.1h.8M465.1 236.1h.8M436.7 226.8h.8M452.8 231.2h.8M472.4 243.3h.8M386.6 199.1h.8M387.1 203.6h.8M393.7 206.1h.8M397.6 210.5h.8M466.2 238.5h.8M408.2 221.2h.8M400.5 196.3h.8M447.5 233.9h.8M380.0 199.3h.8M368.0 196.6h.8M456.6 237.1h.8M465.5 236.9h.8M396.5 209.8h.8M447.5 232.7h.8M357.2 195.9h.8M412.7 219.2h.8M438.7 232.3h.8M390.1 195.7h.8M404.3 217.3h.8M443.5 234.0h.8M440.5 226.5h.8M375.2 190.7h.8M458.0 243.6h.8M364.1 199.9h.8M497.5 252.9h.8M382.4 199.2h.8M390.1 211.2h.8M382.1 209.4h.8M500.8 241.5h.8M395.0 203.1h.8M442.8 228.7h.8M500.6 251.4h.8M494.6 252.7h.8M358.4 190.1h.8M430.2 219.8h.8M442.2 228.8h.8M457.4 234.1h.8M402.4 214.4h.8M401.2 212.4h.8M352.7 185.0h.8M357.3 190.6h.8M434.6 228.4h.8M363.4 189.1h.8M382.4 209.8h.8M402.0 209.9h.8M362.6 195.5h.8M356.7 184.8h.8M491.1 238.6h.8M417.3 220.8h.8M382.8 208.5h.8M458.3 239.4h.8M353.5 192.2h.8M388.8 209.9h.8M496.2 258.6h.8M486.7 259.4h.8M447.4 244.5h.8M366.0 186.3h.8M399.8 205.3h.8M356.2 178.8h.8M384.9 196.8h.8M355.9 191.7h.8M371.0 197.4h.8M447.0 236.1h.8M367.1 188.0h.8M375.4 192.9h.8M487.5 251.2h.8M402.4 211.6h.8M402.0 209.7h.8M365.0 192.0h.8M471.4 237.6h.8M453.5 233.1h.8M434.1 222.7h.8M444.7 236.7h.8M367.1 195.4h.8M391.1 213.5h.8M439.6 218.5h.8M494.9 245.7h.8M474.6 239.7h.8M448.2 225.7h.8M429.9 213.0h.8M354.3 183.6h.8M485.7 255.8h.8M362.1 192.6h.8M371.4 207.2h.8M456.0 233.1h.8M473.9 248.8h.8M470.0 241.1h.8M419.9 216.2h.8M378.6 203.7h.8M357.3 190.9h.8M479.8 244.1h.8M498.7 254.9h.8M388.7 204.7h.8M482.0 258.1h.8M412.4 216.8h.8M398.8 204.6h.8M427.8 220.5h.8M353.3 194.8h.8M418.5 218.8h.8M382.0 199.5h.8M458.9 240.7h.8M427.4 218.3h.8M482.4 250.6h.8M486.5 250.2h.8M399.6 209.3h.8M394.1 195.6h.8M492.9 253.1h.8M427.6 224.4h.8M366.5 190.3h.8M358.9 192.5h.8M500.6 254.1h.8M438.9 237.7h.8M360.2 189.4h.8M428.7 222.3h.8M427.7 227.9h.8M417.4 218.1h.8M494.7 253.5h.8M494.4 253.1h.8M370.8 202.0h.8M374.8 205.3h.8M413.2 217.8h.8M477.2 251.7h.8M445.6 227.5h.8M461.5 233.0h.8M438.5 229.7h.8M383.6 209.3h.8M474.7 245.1h.8M354.2 193.2h.8M456.8 234.2h.8M381.2 199.6h.8M422.7 221.5h.8M498.3 253.7h.8M432.9 219.1h.8M360.6 182.8h.8M416.4 219.0h.8M451.1 228.9h.8M360.6 192.1h.8M389.9 209.5h.8M354.8 182.2h.8M433.1 222.3h.8M409.3 212.6h.8M427.6 220.0h.8M396.4 208.2h.8M450.6 237.2h.8M378.0 190.4h.8M488.0 245.0h.8M496.1 251.7h.8M426.0 216.3h.8M421.9 212.9h.8M481.0 247.1h.8M395.5 204.2h.8M472.5 243.8h.8M395.1 203.7h.8M460.0 237.7h.8M402.2 198.3h.8M442.4 230.2h.8M490.9 248.2h.8M360.2 188.6h.8M473.1 244.1h.8M433.3 219.8h.8M408.9 213.5h.8M404.6 213.1h.8M362.5 191.9h.8M390.8 208.5h.8M445.5 224.1h.8M366.7 190.8h.8M452.5 228.3h.8M496.4 259.6h.8M499.2 253.1h.8M485.4 251.8h.8M473.0 242.0h.8M378.7 193.2h.8M497.6 252.4h.8M382.5 201.9h.8M482.4 241.4h.8M483.7 242.5h.8M445.3 220.9h.8M430.2 231.8h.8M382.1 199.3h.8M430.0 224.8h.8M395.6 211.3h.8M370.9 195.2h.8M371.3 201.5h.8M472.2 252.8h.8M490.4 254.8h.8M373.3 198.1h.8M354.0 179.0h.8M391.6 208.7h.8M372.2 202.0h.8M380.3 209.6h.8M439.5 228.8h.8M415.4 217.2h.8M416.4 215.9h.8M382.9 208.2h.8M451.7 236.4h.8M395.5 217.9h.8M411.9 213.7h.8M421.6 226.5h.8M487.7 262.4h.8M389.0 198.4h.8M459.8 234.0h.8M398.5 206.7h.8M486.2 246.8h.8M411.2 219.1h.8M427.8 216.6h.8M483.6 252.4h.8M453.0 224.1h.8M366.2 192.5h.8M372.6 205.4h.8M500.7 250.9h.8M356.4 179.6h.8M397.2 209.0h.8M495.9 247.8h.8M354.3 189.2h.8M376.3 201.2h.8M384.1 214.2h.8M365.0 187.1h.8M422.8 221.6h.8M440.9 225.9h.8M399.8 214.4h.8M368.3 202.5h.8M473.7 237.4h.8M472.7 235.2h.8M436.4 227.6h.8M372.7 202.6h.8M433.3 223.3h.8M446.5 226.5h.8M416.3 218.7h.8M481.6 247.3h.8M410.6 219.7h.8M428.7 215.4h.8M369.2 197.9h.8M436.6 226.5h.8M467.0 231.6h.8M461.7 238.4h.8M390.6 212.2h.8M500.8 259.6h.8M460.0 238.2h.8M415.6 207.6h.8M414.3 214.5h.8M468.9 241.6h.8M378.4 195.1h.8M448.0 224.7h.8M459.9 240.1h.8M429.5 215.6h.8M483.0 242.8h.8M422.3 217.1h.8M421.8 230.4h.8M394.8 205.7h.8M490.0 243.4h.8M399.5 210.1h.8M456.3 223.6h.8M413.5 214.8h.8M492.4 256.2h.8M494.2 249.2h.8M356.6 187.7h.8M501.2 251.3h.8M442.8 229.6h.8M363.1 185.8h.8M426.6 223.9h.8M359.5 189.8h.8M434.4 229.1h.8M379.9 203.7h.8M407.2 211.3h.8M397.8 211.1h.8M442.4 230.5h.8M475.4 244.5h.8M492.5 250.1h.8M401.4 205.9h.8M437.5 222.4h.8M352.9 182.5h.8M407.9 211.6h.8M496.2 255.6h.8M369.9 202.9h.8M482.5 248.4h.8M449.9 235.7h.8M396.1 216.0h.8M468.8 232.4h.8M395.4 215.8h.8M486.3 246.7h.8M364.5 190.0h.8M369.9 196.3h.8M464.6 225.9h.8M419.4 217.7h.8M374.2 200.9h.8M429.1 213.7h.8M396.6 211.3h.8M434.4 231.7h.8M463.6 243.0h.8M480.6 248.9h.8M360.9 190.9h.8M440.9 226.0h.8M499.6 261.9h.8M421.0 216.9h.8M467.5 226.7h.8M366.6 197.2h.8M483.1 247.6h.8M439.4 223.6h.8M485.3 242.1h.8M470.1 244.3h.8M482.4 251.4h.8M360.6 195.9h.8M459.4 230.8h.8M381.6 196.1h.8M391.9 215.8h.8M400.8 219.8h.8M440.7 233.6h.8M446.2 237.4h.8M491.8 248.9h.8M354.0 186.8h.8M381.1 190.7h.8M406.4 208.0h.8M474.8 242.6h.8M434.5 219.0h.8M428.8 226.5h.8M466.1 246.0h.8M450.3 231.8h.8M395.5 202.3h.8M365.1 200.9h.8M421.4 214.4h.8M484.1 243.2h.8M441.8 230.5h.8M360.0 189.9h.8M418.1 219.3h.8M409.7 213.0h.8M439.4 223.0h.8M440.1 231.2h.8M494.7 247.2h.8M402.8 206.0h.8M413.3 210.6h.8M444.1 238.8h.8M485.0 256.9h.8M458.0 232.1h.8M422.7 222.2h.8M474.2 246.3h.8M424.8 224.1h.8M496.6 259.7h.8M394.4 207.8h.8M371.2 199.3h.8M476.6 247.2h.8M396.6 205.1h.8M479.2 251.0h.8M443.5 223.3h.8M428.4 232.8h.8M365.1 180.7h.8M470.0 247.6h.8M361.9 188.7h.8M496.8 248.8h.8M483.6 247.2h.8M397.5 204.2h.8M371.2 196.3h.8M484.9 256.4h.8M424.0 218.3h.8M370.8 190.0h.8M426.8 223.9h.8M389.1 212.3h.8M413.2 218.0h.8M448.1 229.4h.8M489.4 248.4h.8M472.2 236.6h.8M376.2 195.3h.8M423.7 217.3h.8M425.8 230.6h.8M500.5 244.0h.8M365.1 192.8h.8M428.7 217.8h.8M489.2 251.5h.8M411.9 215.1h.8M391.3 197.1h.8M435.4 217.4h.8M400.1 201.5h.8M491.1 247.6h.8M364.8 183.1h.8M383.1 203.1h.8M364.6 190.2h.8M458.8 238.1h.8M396.0 200.8h.8M487.1 248.6h.8M486.1 243.5h.8M492.5 242.8h.8M390.5 214.8h.8M352.1 176.4h.8M410.2 212.0h.8M496.4 254.6h.8M466.6 248.8h.8M361.0 192.6h.8M457.4 246.5h.8M489.6 249.5h.8M497.2 254.2h.8M459.4 227.1h.8M481.5 247.8h.8M478.3 239.5h.8M405.8 205.8h.8M366.9 183.6h.8M461.2 238.1h.8M372.6 192.6h.8M409.7 220.8h.8M501.4 260.8h.8M436.0 226.7h.8M430.3 222.9h.8M494.2 258.0h.8M394.7 208.5h.8M502.0 252.1h.8M488.8 251.8h.8M406.6 212.7h.8M401.1 213.8h.8M371.0 188.8h.8M489.4 241.0h.8M379.9 198.7h.8M353.4 188.1h.8M485.6 239.8h.8M441.8 225.6h.8M452.8 236.4h.8M462.0 243.9h.8M358.4 192.8h.8M365.8 182.4h.8M427.0 224.2h.8M359.6 176.1h.8M427.7 221.6h.8M462.5 238.5h.8M450.7 225.5h.8M444.5 230.5h.8M359.0 188.3h.8M387.5 208.3h.8M486.7 254.7h.8M370.5 199.0h.8M432.0 222.4h.8M359.6 193.7h.8M492.9 261.1h.8M377.8 196.4h.8M413.6 215.9h.8M434.1 225.8h.8M459.8 239.3h.8M492.7 262.4h.8M462.5 229.6h.8M404.2 213.1h.8M363.4 189.5h.8M458.2 228.6h.8M497.9 248.1h.8M354.6 187.1h.8M468.3 240.0h.8M378.5 197.5h.8M421.0 214.0h.8M430.4 219.9h.8M444.2 231.3h.8M500.5 252.6h.8M455.2 232.2h.8M410.9 210.4h.8M459.3 235.0h.8M422.1 212.2h.8M414.0 214.3h.8M406.9 207.6h.8M426.1 220.6h.8M394.2 209.1h.8M388.4 208.2h.8M374.3 197.9h.8M418.1 214.5h.8M396.0 200.8h.8M477.6 244.8h.8M479.2 247.7h.8M403.6 213.0h.8M444.9 223.0h.8M487.4 248.3h.8M405.9 214.0h.8M435.3 221.3h.8M418.6 223.9h.8M449.6 231.0h.8M496.0 253.0h.8M372.8 197.1h.8M496.9 258.9h.8M451.9 227.8h.8M471.4 233.2h.8M447.3 237.0h.8M482.6 246.0h.8M401.0 206.1h.8M458.3 224.4h.8M391.7 207.1h.8M428.3 226.5h.8M454.3 233.7h.8M382.2 190.8h.8M361.2 190.8h.8M470.7 239.9h.8M473.4 233.7h.8M451.9 243.1h.8M400.3 204.1h.8M450.8 227.6h.8M364.6 188.9h.8M451.4 239.2h.8M438.5 223.9h.8M444.6 229.1h.8M419.1 216.5h.8M385.8 206.3h.8M460.9 239.0h.8M421.7 223.1h.8M463.9 237.8h.8M406.7 213.0h.8M365.2 184.6h.8M433.4 221.0h.8M445.5 228.5h.8M490.3 248.1h.8M485.2 240.8h.8M360.6 189.5h.8M467.8 234.5h.8M391.3 205.0h.8M456.6 231.3h.8M409.0 217.6h.8M400.4 205.1h.8M425.3 227.2h.8M431.6 216.9h.8M456.2 242.0h.8M447.7 241.1h.8M453.8 230.8h.8M409.7 214.1h.8M453.7 232.8h.8M403.9 208.5h.8M443.2 228.7h.8M421.0 222.8h.8M436.5 224.5h.8M354.7 186.4h.8M426.9 218.7h.8M385.0 192.2h.8M409.9 217.0h.8M363.1 191.7h.8M450.6 229.2h.8M486.1 250.4h.8M405.2 217.2h.8M367.8 196.9h.8M445.1 224.2h.8M371.1 197.0h.8M485.8 251.2h.8M370.4 198.9h.8M406.3 209.5h.8M426.2 224.2h.8M369.7 178.6h.8M399.9 208.2h.8M393.3 205.6h.8M459.0 223.7h.8M500.0 262.6h.8M406.5 209.3h.8M470.7 233.2h.8M373.1 189.8h.8M439.0 228.6h.8M417.0 220.0h.8M395.3 209.1h.8M475.3 241.8h.8M464.0 237.2h.8M372.1 194.4h.8M395.9 204.0h.8M475.0 248.4h.8M500.9 260.6h.8M443.8 234.9h.8M482.8 253.4h.8M499.7 254.9h.8M463.1 236.2h.8M448.8 218.7h.8M385.2 199.5h.8M407.6 212.3h.8M445.6 222.7h.8M491.0 254.1h.8M397.3 206.0h.8M411.3 209.2h.8M355.4 198.0h.8M456.6 232.7h.8M418.6 219.1h.8M471.7 247.8h.8M387.1 203.7h.8M451.0 235.1h.8M453.0 229.7h.8M421.7 219.5h.8M380.3 197.1h.8M412.5 222.5h.8M463.8 233.2h.8M380.4 204.1h.8M365.6 200.8h.8M421.5 225.5h.8M387.2 206.1h.8M472.1 236.3h.8M474.6 239.5h.8M493.8 257.6h.8M478.0 244.1h.8M449.2 231.9h.8M380.1 207.5h.8M475.5 248.3h.8M461.3 246.9h.8M464.1 242.5h.8M456.7 247.9h.8M476.6 247.8h.8M396.7 212.0h.8M452.9 237.0h.8M429.6 226.5h.8M402.7 204.4h.8M401.1 211.1h.8M375.4 196.4h.8M425.8 216.9h.8M407.4 207.8h.8M415.3 212.5h.8M479.8 248.1h.8M454.3 239.1h.8M454.1 237.4h.8M499.7 256.8h.8M384.7 201.8h.8M428.2 222.2h.8M365.9 187.9h.8M411.0 214.4h.8M494.6 243.3h.8M364.9 187.7h.8M465.7 241.3h.8M481.9 242.1h.8M428.4 236.0h.8M471.7 234.9h.8M418.2 215.2h.8M405.1 209.2h.8M427.9 205.6h.8M381.3 212.8h.8M398.2 209.3h.8M397.9 208.6h.8M500.3 249.2h.8M402.3 210.9h.8M386.4 206.8h.8M493.0 246.0h.8M372.8 201.4h.8M496.9 249.5h.8M480.0 244.8h.8M449.1 225.8h.8M416.2 222.2h.8M381.6 194.3h.8M368.0 192.8h.8M367.6 184.3h.8M404.4 214.1h.8M413.1 208.2h.8M490.6 246.8h.8M432.5 219.8h.8M500.6 258.5h.8M460.2 233.6h.8M374.0 193.7h.8M435.1 229.0h.8M376.0 197.9h.8M357.9 193.4h.8M493.6 244.5h.8M402.7 209.3h.8M380.5 195.3h.8M367.3 192.5h.8M449.9 231.1h.8M421.2 217.5h.8M353.8 189.7h.8M459.3 230.0h.8M390.6 203.7h.8M469.1 239.4h.8M425.3 227.3h.8M432.4 222.1h.8M420.6 221.6h.8M453.4 235.8h.8M500.6 249.7h.8M471.7 247.0h.8M362.4 192.6h.8M426.3 217.8h.8M387.2 197.3h.8M367.4 196.5h.8M381.3 198.7h.8M389.3 202.5h.8M496.0 258.3h.8M463.8 248.6h.8M480.0 254.9h.8M456.9 231.9h.8M399.4 218.3h.8M410.7 220.4h.8M418.2 220.3h.8M396.1 209.0h.8M415.3 217.6h.8M467.7 240.0h.8M363.4 181.3h.8M393.5 209.7h.8M423.9 219.1h.8M453.5 237.1h.8M448.9 234.3h.8M460.8 241.0h.8M367.8 195.3h.8M379.2 202.0h.8M398.4 206.4h.8M394.3 205.2h.8M465.4 243.2h.8M501.0 245.6h.8M454.5 239.5h.8M357.0 187.4h.8M396.7 196.7h.8M472.5 245.5h.8M490.7 243.8h.8M441.3 220.8h.8M404.4 209.2h.8M405.3 220.4h.8M447.1 223.4h.8M481.7 245.8h.8M403.2 213.0h.8M380.7 193.7h.8M352.5 190.7h.8M372.7 191.1h.8M479.7 248.0h.8M445.7 227.1h.8M500.6 260.2h.8M362.5 193.6h.8M407.0 216.5h.8M471.4 245.0h.8M451.2 231.4h.8M362.1 192.3h.8M412.3 213.5h.8M447.7 224.4h.8M455.2 234.7h.8M419.8 227.1h.8M380.3 201.3h.8M496.9 252.8h.8M422.0 213.9h.8M459.7 231.1h.8M432.3 218.9h.8M364.2 193.6h.8M387.6 200.0h.8M361.5 198.3h.8M380.7 193.7h.8M382.1 198.5h.8M414.3 212.9h.8M400.3 210.9h.8M406.4 211.5h.8M474.6 251.9h.8M355.3 185.6h.8M367.6 200.6h.8M473.2 237.6h.8M432.1 215.1h.8M417.9 207.1h.8M392.1 205.5h.8M433.4 224.6h.8M385.3 201.2h.8M480.8 245.6h.8M475.7 244.0h.8M400.3 214.4h.8M355.7 194.0h.8M485.2 250.6h.8M396.9 208.8h.8M450.6 237.8h.8M480.8 251.5h.8M471.8 243.1h.8M481.4 242.5h.8M425.4 221.4h.8M478.4 241.4h.8M421.2 213.8h.8M391.6 201.2h.8M424.2 222.0h.8M402.4 211.9h.8M467.1 248.7h.8M476.8 247.3h.8M373.2 194.3h.8M376.7 203.6h.8M409.6 206.6h.8M421.5 211.7h.8M495.5 254.3h.8M493.3 247.0h.8M497.1 260.7h.8M461.5 237.0h.8M453.6 235.2h.8M392.6 205.4h.8M407.9 213.4h.8M352.5 191.3h.8M477.0 234.4h.8M393.5 204.4h.8M363.9 191.0h.8M399.4 205.2h.8M400.5 208.2h.8M460.6 237.7h.8M352.9 190.0h.8M386.6 210.8h.8M486.5 241.1h.8M480.3 250.1h.8M446.4 238.3h.8M435.9 229.2h.8M385.4 210.1h.8M483.3 237.2h.8M466.2 237.3h.8M429.0 215.2h.8M376.2 190.8h.8M384.4 198.9h.8M408.9 210.1h.8M401.7 213.2h.8M361.2 191.5h.8M413.0 217.8h.8M419.4 217.5h.8M395.1 210.1h.8M409.7 207.1h.8M401.9 206.0h.8M408.6 213.3h.8M444.9 237.6h.8M426.6 217.7h.8M381.7 196.1h.8M471.3 241.8h.8M429.0 228.3h.8M420.8 216.2h.8M459.1 230.7h.8M464.9 247.9h.8M479.4 242.4h.8M473.7 251.5h.8M452.4 232.4h.8M460.2 227.8h.8M375.6 197.3h.8M456.9 232.5h.8M390.2 206.0h.8M390.7 204.6h.8M370.1 183.6h.8M411.6 207.6h.8M355.0 189.8h.8M450.6 233.9h.8M464.3 238.2h.8M468.4 229.4h.8M371.4 194.7h.8M448.2 225.4h.8M477.8 246.2h.8M357.4 195.6h.8M381.1 193.7h.8M392.2 205.7h.8M421.3 222.5h.8M377.9 202.1h.8M432.9 227.2h.8M403.6 213.5h.8M450.3 239.4h.8M431.7 217.5h.8M455.0 232.1h.8M389.0 199.0h.8M458.1 237.1h.8M462.2 235.6h.8M460.3 235.6h.8M362.3 185.9h.8M494.0 247.8h.8M438.6 224.7h.8M392.9 208.8h.8M417.2 222.6h.8M429.7 226.4h.8M429.7 225.6h.8M389.2 206.6h.8M391.8 211.2h.8M406.6 203.7h.8M469.2 239.2h.8M417.7 226.8h.8M357.8 194.9h.8M419.9 224.5h.8M382.3 199.6h.8M353.9 182.5h.8M498.6 258.8h.8M396.1 204.0h.8M432.7 225.2h.8M405.8 205.9h.8M360.1 183.9h.8M487.2 247.2h.8M492.4 247.6h.8M380.0 199.7h.8M414.7 217.4h.8M408.1 218.2h.8M377.1 196.8h.8M451.3 232.7h.8M469.3 242.5h.8M466.0 239.4h.8M453.3 234.2h.8M354.7 193.2h.8M386.5 205.3h.8M429.2 216.6h.8M457.5 236.3h.8M410.0 206.6h.8M419.4 223.4h.8M478.2 251.2h.8M355.6 187.9h.8M392.3 201.6h.8M395.5 210.0h.8M501.0 252.0h.8M386.2 198.0h.8M359.1 184.9h.8M414.5 216.0h.8M449.5 231.7h.8M375.1 205.5h.8M478.0 242.5h.8M381.5 199.0h.8M457.7 228.3h.8M376.3 204.2h.8M484.3 251.5h.8M382.2 205.6h.8M461.8 232.7h.8M477.9 250.8h.8M390.3 209.7h.8M366.0 183.2h.8M440.0 223.9h.8M426.9 227.6h.8M423.9 220.1h.8M469.3 236.4h.8M421.5 216.0h.8M426.6 231.4h.8M425.1 224.2h.8M420.2 214.1h.8M412.9 214.8h.8M376.2 194.0h.8M396.3 205.2h.8M391.8 207.4h.8M389.3 196.9h.8M469.5 243.1h.8M369.2 192.6h.8M382.9 204.1h.8M431.0 224.2h.8M398.9 209.6h.8M388.1 206.6h.8M408.1 211.4h.8M427.4 215.0h.8M453.2 224.1h.8M497.9 246.6h.8M479.9 246.3h.8M416.5 209.3h.8M419.8 215.9h.8M414.4 206.7h.8M387.9 209.4h.8M494.8 245.0h.8M362.3 203.9h.8M382.8 195.4h.8M451.3 234.6h.8M440.5 222.9h.8M393.8 207.4h.8M492.6 260.3h.8M413.5 219.7h.8M441.5 229.0h.8M365.7 193.0h.8M485.7 258.9h.8M367.5 199.8h.8M411.2 217.5h.8M484.9 248.7h.8M493.8 250.7h.8M487.6 252.9h.8M476.2 251.1h.8M387.0 201.5h.8M356.8 190.7h.8M419.8 213.6h.8M361.5 193.8h.8M496.1 249.7h.8M353.3 191.8h.8M400.9 208.0h.8M382.5 200.4h.8M354.1 185.7h.8M426.9 225.7h.8M363.5 192.7h.8M487.0 252.8h.8M455.2 234.9h.8M407.6 209.3h.8M478.3 230.2h.8M471.6 241.4h.8M401.0 205.8h.8M479.1 244.5h.8M491.5 245.2h.8M445.0 227.2h.8M404.8 206.0h.8M487.1 247.0h.8M493.5 240.0h.8M404.1 204.1h.8M365.0 201.1h.8M482.2 245.0h.8M451.8 232.1h.8M386.8 213.5h.8M437.1 230.0h.8M398.3 210.3h.8M489.9 253.5h.8M403.4 209.8h.8M381.5 209.1h.8M358.5 186.3h.8M403.4 206.7h.8M500.5 253.1h.8M384.8 205.9h.8M420.8 218.3h.8M497.9 255.9h.8M353.1 181.8h.8M396.3 204.7h.8M475.2 233.6h.8M366.4 183.6h.8M491.3 243.6h.8M477.2 246.9h.8M373.5 197.5h.8M440.9 232.6h.8M435.4 222.5h.8M456.1 234.8h.8M398.1 204.9h.8M409.7 206.0h.8M388.2 203.7h.8M395.8 205.1h.8M378.4 194.6h.8M487.7 249.2h.8M485.2 250.4h.8M406.1 209.9h.8M456.0 232.0h.8M425.6 216.8h.8M394.2 202.1h.8M404.5 214.1h.8M496.8 251.0h.8M403.3 204.4h.8M438.8 228.8h.8M493.8 250.0h.8M396.7 210.3h.8M473.4 241.6h.8M369.2 186.3h.8M462.0 236.4h.8M473.1 246.9h.8M477.7 242.7h.8M498.3 252.7h.8M458.7 230.3h.8M498.6 260.6h.8M393.8 210.4h.8M430.3 223.0h.8M384.2 209.1h.8M364.6 187.1h.8M417.9 226.8h.8M460.0 240.3h.8M468.8 241.5h.8M354.6 191.2h.8M493.4 247.7h.8M389.1 200.9h.8M395.9 202.5h.8M476.9 241.1h.8M486.2 258.0h.8M462.5 236.0h.8M402.0 218.6h.8M421.5 221.1h.8M477.2 246.0h.8M405.6 214.0h.8M472.8 239.8h.8M469.4 244.4h.8M422.4 210.7h.8M486.5 245.5h.8M409.7 207.6h.8M464.5 234.7h.8M448.0 226.5h.8M401.7 209.8h.8M431.8 213.9h.8M443.0 233.5h.8M432.6 221.5h.8M368.7 194.5h.8M500.8 256.0h.8M497.0 251.7h.8M357.7 193.1h.8M493.7 247.5h.8M431.8 226.1h.8M370.9 195.0h.8M475.1 239.6h.8M417.0 221.6h.8M459.0 244.5h.8M476.1 246.4h.8M432.8 224.9h.8M359.5 178.3h.8M475.4 244.4h.8M456.2 229.5h.8M488.6 245.2h.8M392.6 195.2h.8M469.8 240.2h.8M483.0 243.6h.8M405.3 212.2h.8M413.6 219.2h.8M402.1 214.6h.8M352.9 191.1h.8M386.8 195.9h.8M401.8 208.2h.8M368.3 195.1h.8M466.9 239.3h.8M416.1 218.9h.8M437.3 226.0h.8M394.7 206.6h.8M406.1 208.5h.8M465.1 234.2h.8M422.5 227.0h.8M441.5 226.7h.8M415.5 209.2h.8M435.6 230.0h.8M486.7 249.7h.8M392.2 204.4h.8M429.9 217.2h.8M455.1 231.1h.8M365.1 193.9h.8M496.4 250.5h.8M426.9 216.1h.8M388.9 201.8h.8M466.1 230.1h.8M474.4 240.8h.8M446.6 213.7h.8M489.5 253.5h.8M365.4 193.6h.8M431.2 224.1h.8M463.5 234.8h.8M489.6 248.1h.8M448.3 222.6h.8M442.4 215.0h.8M410.3 206.3h.8M437.8 229.8h.8M435.3 227.0h.8M487.8 245.7h.8M476.1 243.2h.8M462.6 234.4h.8M490.6 249.0h.8M362.0 194.4h.8M467.5 231.4h.8M421.6 213.2h.8M464.8 245.9h.8M396.5 210.1h.8M422.2 218.8h.8M475.7 240.2h.8M357.3 189.6h.8M395.7 213.4h.8M425.3 216.4h.8M479.8 246.3h.8M392.6 197.3h.8M475.5 241.9h.8M388.7 198.8h.8M397.5 203.6h.8M435.1 220.6h.8M450.1 234.1h.8M484.1 242.3h.8M484.0 246.2h.8M389.6 210.0h.8M463.9 239.9h.8M447.3 226.4h.8M410.0 211.1h.8M468.5 236.8h.8M486.7 253.8h.8M423.9 216.2h.8M489.5 250.0h.8M371.2 200.7h.8M377.0 194.2h.8M466.7 242.9h.8M397.9 213.5h.8M439.9 223.3h.8M426.6 216.6h.8M373.9 200.0h.8M465.2 233.5h.8M463.3 232.9h.8M373.8 199.3h.8M391.0 195.0h.8M472.1 242.0h.8M488.9 248.3h.8M482.6 258.0h.8M427.3 218.2h.8M407.2 215.0h.8M418.8 215.2h.8M378.5 207.1h.8M426.4 215.3h.8M386.7 195.6h.8M376.3 188.8h.8M409.1 227.1h.8M361.6 188.4h.8M422.6 217.4h.8M456.5 249.1h.8M449.8 235.0h.8M498.3 254.1h.8M484.9 240.7h.8M447.1 234.3h.8M486.7 247.4h.8M418.7 217.5h.8M471.9 239.8h.8M394.7 208.2h.8M431.1 218.6h.8M499.0 249.3h.8M441.9 234.4h.8M428.1 216.1h.8M470.1 244.4h.8M398.9 209.5h.8M476.7 238.4h.8M354.8 187.5h.8M387.8 200.3h.8M378.6 195.1h.8M390.7 201.5h.8M493.9 254.2h.8M355.6 192.9h.8M396.9 203.9h.8M438.2 222.5h.8M457.5 233.2h.8M468.1 240.7h.8M409.5 208.9h.8M385.1 201.9h.8M479.9 251.8h.8M370.4 193.7h.8M361.8 185.9h.8M386.8 198.9h.8M425.9 224.8h.8M493.4 254.9h.8M461.4 235.1h.8M436.6 227.5h.8M430.2 222.8h.8M456.1 229.7h.8M446.0 227.8h.8M402.5 201.0h.8M366.0 191.6h.8M382.2 192.2h.8M469.5 235.2h.8M447.2 217.9h.8M471.6 241.2h.8M358.7 190.1h.8M487.2 242.1h.8M409.4 215.3h.8M491.0 252.4h.8M441.2 226.2h.8M434.1 222.3h.8M474.8 249.4h.8M445.9 228.3h.8M453.2 234.3h.8M375.7 197.5h.8M442.7 227.2h.8M405.5 211.9h.8M363.4 186.6h.8M372.0 193.3h.8M424.0 220.3h.8M391.4 204.2h.8M466.8 234.0h.8M370.4 191.1h.8M354.1 181.4h.8M501.6 255.6h.8M399.0 207.3h.8M428.5 211.8h.8M383.6 201.1h.8M383.4 192.7h.8M412.4 210.0h.8M470.5 242.7h.8M357.9 195.8h.8M477.6 240.9h.8M500.6 257.8h.8M435.9 228.2h.8M406.1 219.4h.8M387.1 196.8h.8M379.5 198.5h.8M400.6 208.5h.8M479.8 243.0h.8M352.5 185.5h.8M469.9 239.9h.8M452.2 229.7h.8M354.9 189.0h.8M362.5 203.5h.8M462.3 233.3h.8M453.0 223.5h.8M399.1 207.8h.8M481.2 243.2h.8M383.6 207.5h.8M416.1 229.5h.8M369.3 187.2h.8M448.9 228.7h.8M365.1 200.2h.8M379.0 200.7h.8M467.0 236.0h.8M427.1 226.5h.8M451.3 229.2h.8M462.1 226.6h.8M443.0 221.4h.8M381.7 200.1h.8M456.8 232.8h.8M369.4 198.9h.8M392.5 196.2h.8M419.3 218.8h.8M369.2 199.0h.8M367.9 200.1h.8M449.9 221.9h.8M463.3 236.9h.8M407.7 210.1h.8M410.5 215.2h.8M383.2 193.6h.8M430.3 214.5h.8M439.1 229.2h.8M492.1 249.5h.8M358.1 184.9h.8M488.4 250.4h.8M500.6 260.0h.8M404.0 214.8h.8M460.9 236.2h.8M475.8 246.7h.8M449.7 237.3h.8M395.4 207.4h.8M445.5 224.7h.8M483.6 243.3h.8M368.1 194.9h.8M424.0 210.2h.8M355.4 191.7h.8M478.8 244.8h.8M468.8 246.4h.8M359.0 185.9h.8M463.9 228.4h.8M455.8 241.9h.8M371.0 199.1h.8M430.8 213.9h.8M455.5 230.3h.8M402.4 208.9h.8M427.6 216.9h.8M498.4 261.0h.8M447.4 234.0h.8M427.3 227.2h.8M361.9 194.9h.8M370.2 196.6h.8M479.7 242.3h.8M463.4 232.6h.8M477.3 239.1h.8M438.8 213.3h.8M438.5 228.3h.8M431.6 222.9h.8M462.3 234.5h.8M401.6 213.1h.8M426.6 221.9h.8M422.5 216.7h.8M451.3 236.1h.8M384.5 199.0h.8M355.8 182.3h.8M365.3 197.9h.8M378.9 209.7h.8M480.6 244.9h.8M459.6 240.6h.8M464.5 237.1h.8M418.7 219.1h.8M367.5 192.1h.8M421.8 213.0h.8M481.5 241.8h.8M428.4 223.1h.8M446.8 235.4h.8M408.2 224.0h.8M374.6 207.2h.8M446.0 233.3h.8M424.8 219.3h.8M403.9 213.5h.8M390.8 207.1h.8M456.4 241.9h.8M399.7 216.3h.8M438.4 234.3h.8M391.0 217.8h.8M465.1 247.8h.8M408.3 209.1h.8M423.8 223.8h.8M491.2 247.7h.8M459.8 234.8h.8M462.5 233.6h.8M403.0 204.3h.8M478.1 248.1h.8M409.9 217.8h.8M500.3 256.7h.8M486.4 251.9h.8M450.9 228.8h.8M476.8 244.4h.8M433.7 224.1h.8M462.0 235.1h.8M370.8 197.6h.8M500.3 249.4h.8M472.1 250.5h.8M373.4 195.5h.8M388.4 201.1h.8M438.3 230.0h.8M466.5 242.5h.8M374.4 192.8h.8M496.1 263.1h.8M403.9 219.8h.8M501.3 261.6h.8M464.9 233.7h.8M424.9 224.4h.8M406.5 205.5h.8M366.5 187.0h.8M365.2 193.9h.8M446.5 227.5h.8M468.1 243.9h.8M488.2 251.1h.8M406.8 215.3h.8M492.7 248.4h.8M396.6 213.4h.8M493.0 252.0h.8M489.9 249.7h.8M375.3 195.1h.8M481.2 256.2h.8M457.6 243.8h.8M457.4 239.3h.8M478.1 245.7h.8M432.5 223.1h.8M428.1 220.8h.8M407.1 202.5h.8M481.8 243.2h.8M487.2 246.0h.8M376.1 200.3h.8M467.9 236.2h.8M393.4 202.6h.8M379.6 185.3h.8M381.6 201.0h.8M438.0 223.3h.8M394.0 198.9h.8M388.4 207.4h.8M366.8 204.1h.8M400.8 205.3h.8M468.2 236.6h.8M355.3 189.6h.8M424.4 222.2h.8M442.5 215.1h.8M359.5 192.6h.8M396.1 213.0h.8M488.0 251.5h.8M501.2 242.5h.8M479.6 248.3h.8M377.5 200.5h.8M466.7 238.0h.8M419.7 220.0h.8M377.6 198.1h.8M424.2 220.2h.8M490.5 255.4h.8M483.6 246.8h.8M410.8 219.4h.8M361.6 186.9h.8M487.1 253.2h.8M500.0 255.8h.8M428.8 230.8h.8M385.8 204.6h.8M433.6 230.3h.8M456.5 227.6h.8M424.4 220.7h.8M404.9 208.7h.8M389.2 212.4h.8M396.6 213.3h.8M359.5 191.2h.8M390.3 212.4h.8M495.0 247.0h.8M353.3 189.5h.8M461.2 236.2h.8M470.4 239.7h.8M412.8 215.5h.8M441.3 224.2h.8M385.2 205.4h.8M452.3 231.1h.8M458.2 229.9h.8M462.2 236.4h.8M425.8 220.2h.8M497.6 255.2h.8M482.0 246.2h.8M437.9 223.1h.8M454.4 235.0h.8M393.3 213.9h.8M493.6 251.0h.8M448.8 232.0h.8M486.3 246.2h.8M395.3 206.7h.8M499.4 247.0h.8M367.9 200.0h.8M431.6 228.0h.8M368.6 191.5h.8M380.5 205.0h.8M466.7 237.9h.8M362.0 191.7h.8M409.5 222.6h.8M380.8 197.0h.8M479.6 238.9h.8M364.4 191.7h.8M402.5 216.8h.8M480.5 242.1h.8M455.1 239.1h.8M457.5 235.9h.8M500.7 253.1h.8M355.6 192.4h.8M451.8 240.7h.8M463.8 238.8h.8M464.3 238.6h.8M459.2 240.1h.8M362.9 195.7h.8M364.6 189.3h.8M468.0 240.5h.8M443.8 231.3h.8M391.5 207.9h.8M353.4 186.9h.8M432.1 223.2h.8M365.6 194.1h.8M464.3 245.0h.8M403.2 212.2h.8M473.2 245.4h.8M366.4 193.3h.8M426.1 215.5h.8M367.0 189.4h.8M469.1 237.6h.8M436.0 225.0h.8M387.3 204.7h.8M496.5 251.6h.8M454.3 236.1h.8M402.5 211.8h.8M480.3 249.7h.8M409.0 213.4h.8M493.4 252.1h.8M396.6 198.8h.8M499.7 252.0h.8M361.4 193.1h.8M462.2 233.8h.8M395.8 209.3h.8M415.6 211.4h.8M447.5 227.1h.8M358.9 176.7h.8M385.6 207.5h.8M367.7 194.6h.8M463.0 238.4h.8M385.2 200.9h.8M426.8 217.9h.8M401.3 214.2h.8M387.5 206.7h.8M492.3 249.8h.8M428.2 217.4h.8M449.6 237.0h.8M457.7 245.5h.8M475.2 238.1h.8M391.5 201.2h.8M363.8 187.4h.8M422.1 223.7h.8M377.6 199.7h.8M355.1 187.4h.8M490.0 248.1h.8M446.0 230.6h.8M414.2 215.7h.8M372.5 191.7h.8M466.2 241.3h.8M432.0 226.2h.8M378.2 201.0h.8M499.4 256.9h.8M494.7 251.7h.8M491.1 251.7h.8M476.0 245.8h.8M431.8 217.0h.8M397.1 197.4h.8M449.8 233.4h.8M374.8 191.6h.8M444.6 232.0h.8M362.0 191.6h.8M354.1 188.5h.8M459.4 238.8h.8M403.5 212.4h.8M456.6 234.5h.8M469.0 247.2h.8M477.3 246.2h.8M444.4 228.2h.8M479.1 243.9h.8M450.9 230.9h.8M491.1 239.9h.8M486.6 245.5h.8M358.5 190.7h.8M392.2 206.0h.8M410.4 213.8h.8M389.9 202.4h.8M378.6 200.6h.8M483.1 240.1h.8M355.8 193.9h.8M379.3 196.7h.8M466.1 236.9h.8M385.5 207.7h.8M390.8 201.9h.8M497.2 250.9h.8M466.4 242.4h.8M419.3 207.2h.8M372.5 193.2h.8M392.4 207.1h.8M499.2 256.5h.8M470.7 244.8h.8M362.5 190.7h.8M458.1 235.3h.8M408.5 219.4h.8M460.0 241.3h.8M396.4 210.6h.8M371.6 197.9h.8M355.0 190.1h.8M396.4 210.4h.8M481.1 243.2h.8M485.7 243.9h.8M454.5 233.6h.8M464.2 248.5h.8M381.2 201.2h.8M405.2 208.8h.8M486.9 249.2h.8M500.0 253.5h.8M418.5 217.0h.8M468.4 247.2h.8M492.1 262.7h.8M501.6 252.7h.8M396.4 209.8h.8M450.2 230.1h.8M410.5 215.3h.8M421.8 219.8h.8M421.3 212.5h.8M393.8 211.7h.8M354.9 188.5h.8M467.0 244.7h.8M456.4 234.5h.8M478.1 242.6h.8M375.0 194.6h.8M387.6 202.7h.8M441.5 234.3h.8M492.5 250.3h.8M422.8 215.4h.8M382.2 196.3h.8M441.3 218.1h.8M495.7 250.2h.8M482.3 251.3h.8M486.9 251.2h.8M413.6 214.9h.8M391.4 200.3h.8M482.6 252.1h.8M470.3 237.0h.8M479.8 242.5h.8M410.7 217.9h.8M395.0 204.0h.8M388.1 207.1h.8M482.6 246.9h.8M490.0 251.6h.8M407.1 211.2h.8M483.2 252.5h.8M409.3 210.9h.8M419.2 227.8h.8M437.0 227.8h.8M385.2 204.9h.8M392.2 198.3h.8M392.0 202.9h.8M391.1 204.0h.8M429.4 226.6h.8M367.1 193.8h.8M469.1 243.5h.8M378.3 188.9h.8M418.6 204.3h.8M448.3 230.8h.8M372.8 207.8h.8M413.4 210.4h.8M436.5 229.4h.8M434.6 217.5h.8M485.9 250.8h.8M469.8 236.0h.8M370.2 194.5h.8M477.0 238.9h.8M434.5 224.7h.8M453.8 247.2h.8M376.0 201.4h.8M422.8 226.6h.8M457.0 230.8h.8M471.7 239.4h.8M472.9 242.4h.8M384.6 199.9h.8M477.0 243.3h.8M437.3 228.7h.8M452.4 224.0h.8M479.8 244.4h.8M412.9 215.8h.8M490.0 256.9h.8M484.2 250.4h.8M473.2 242.5h.8M409.0 214.0h.8M431.3 225.5h.8M378.0 199.2h.8M466.0 244.3h.8M485.7 248.2h.8M376.2 205.2h.8M463.8 242.1h.8M456.2 238.1h.8M357.5 185.6h.8M489.6 247.8h.8M423.9 219.6h.8M392.4 210.8h.8M356.6 191.0h.8M469.3 237.1h.8M402.7 204.5h.8M429.1 229.1h.8M381.3 202.4h.8M443.1 228.3h.8M411.6 212.8h.8M473.0 242.4h.8M452.0 229.8h.8M460.3 243.2h.8M389.7 197.2h.8M361.6 196.7h.8M484.0 247.2h.8M492.4 248.9h.8M448.6 225.9h.8M490.3 246.2h.8M458.0 231.5h.8M442.9 222.8h.8M414.9 216.5h.8M405.4 208.0h.8M425.5 213.6h.8M385.4 205.8h.8M416.2 222.8h.8M428.2 226.5h.8M356.7 182.7h.8M411.1 208.4h.8M394.7 208.2h.8M447.2 229.4h.8M473.8 240.6h.8M444.2 224.4h.8M451.6 241.2h.8M444.1 231.7h.8M390.5 205.8h.8M408.5 211.4h.8M478.7 244.6h.8M494.0 246.4h.8M379.2 198.1h.8M353.6 199.6h.8M496.3 238.9h.8M481.0 242.2h.8M443.2 224.7h.8M474.6 242.1h.8M441.2 225.9h.8M487.8 239.7h.8M388.6 195.4h.8M418.7 217.1h.8M452.6 238.7h.8M384.4 201.1h.8M459.3 237.4h.8M391.4 201.1h.8M458.6 241.6h.8M472.7 243.1h.8M415.7 214.9h.8M500.6 257.1h.8M446.8 225.5h.8M465.5 244.1h.8M355.1 194.1h.8M369.0 196.4h.8M458.8 232.0h.8M493.5 253.1h.8M446.3 232.8h.8M489.0 245.9h.8M360.9 190.0h.8M485.8 250.6h.8M483.6 246.6h.8M446.4 231.3h.8M416.5 213.7h.8M457.8 234.7h.8M388.6 207.4h.8M452.2 235.0h.8M456.2 236.5h.8M433.0 222.3h.8M391.1 203.1h.8M352.4 191.0h.8M381.4 201.3h.8M477.1 242.8h.8M383.9 196.5h.8M363.2 191.0h.8M389.0 191.3h.8M429.9 222.5h.8M440.0 223.8h.8M483.6 248.7h.8M480.3 250.2h.8M497.4 253.0h.8M484.7 245.5h.8M419.6 216.4h.8M373.3 196.1h.8M495.4 254.1h.8M386.4 206.5h.8M445.4 231.1h.8M391.7 203.0h.8M474.6 238.6h.8M382.2 216.0h.8M415.2 213.1h.8M385.0 197.1h.8M481.1 240.2h.8M445.0 227.7h.8M446.7 227.2h.8M399.2 210.6h.8M378.5 199.5h.8M480.7 243.4h.8M466.7 244.5h.8M462.2 241.0h.8M501.6 254.5h.8M436.0 231.6h.8M378.8 199.0h.8M443.5 235.7h.8M395.1 205.8h.8M429.0 222.1h.8M420.9 221.1h.8M436.6 230.0h.8M490.3 252.6h.8M473.6 252.9h.8M414.3 217.3h.8M474.6 242.5h.8M481.1 240.5h.8M468.1 242.5h.8M434.8 225.6h.8M487.0 242.3h.8M425.8 212.8h.8M367.9 196.5h.8M392.9 221.6h.8M450.7 226.7h.8M408.9 210.6h.8M415.5 220.6h.8M412.4 219.0h.8M380.9 197.5h.8M366.1 182.7h.8M359.4 191.2h.8M452.9 225.9h.8M400.7 200.5h.8M420.6 224.1h.8M492.3 253.9h.8M446.0 223.0h.8M473.6 238.1h.8M466.4 236.8h.8M495.1 252.5h.8M362.1 188.7h.8M409.7 216.3h.8M494.5 240.6h.8M421.7 224.7h.8M494.2 260.3h.8M379.8 199.0h.8M361.1 184.5h.8M486.4 250.7h.8M413.7 215.5h.8M428.3 226.6h.8M492.5 251.6h.8M385.0 206.8h.8M497.3 258.1h.8M411.5 221.0h.8M389.2 206.5h.8M387.1 194.4h.8M429.8 222.9h.8M422.1 218.2h.8M485.0 237.5h.8M359.7 193.4h.8M358.6 194.6h.8M375.0 195.1h.8M442.9 234.3h.8M469.3 239.1h.8M424.0 214.6h.8M444.1 234.1h.8M448.4 233.5h.8M354.9 180.5h.8M389.0 208.8h.8M501.7 258.6h.8M401.7 208.6h.8M494.0 253.4h.8M425.9 224.7h.8M385.4 194.9h.8M352.4 189.9h.8M384.7 200.4h.8M400.3 211.0h.8M417.9 218.2h.8M419.1 224.1h.8M434.3 220.3h.8M423.2 221.5h.8M357.0 183.4h.8M392.1 210.7h.8M496.4 255.3h.8M356.2 159.7h.8M462.2 236.9h.8M423.5 222.7h.8M458.1 236.1h.8M401.9 215.8h.8M407.6 212.2h.8M429.6 234.7h.8M488.5 248.6h.8M401.3 203.3h.8M364.9 188.8h.8M357.8 185.7h.8M484.3 249.4h.8M399.1 206.3h.8M370.0 197.1h.8M441.5 228.4h.8M478.8 245.4h.8M442.0 243.7h.8M374.8 193.1h.8M412.9 212.7h.8M392.0 201.4h.8M354.5 192.6h.8M496.9 250.1h.8M420.9 216.3h.8M372.3 206.6h.8M484.8 255.9h.8M499.8 254.4h.8M474.5 246.1h.8M390.1 204.5h.8M380.6 203.1h.8M430.8 216.1h.8M439.6 235.9h.8M483.8 253.6h.8M497.1 257.9h.8M488.6 255.8h.8M403.4 213.2h.8M439.9 227.3h.8M370.6 201.7h.8M429.9 220.9h.8M362.7 185.8h.8M368.7 189.6h.8M370.3 186.1h.8M397.3 202.4h.8M398.5 208.4h.8M457.8 227.1h.8M363.5 188.9h.8M368.7 185.9h.8M450.5 232.9h.8M453.0 242.9h.8M458.6 241.1h.8M460.1 229.1h.8M451.5 229.9h.8M434.9 225.9h.8M463.3 233.2h.8M364.3 197.9h.8M383.8 204.8h.8M463.3 233.3h.8M380.9 199.9h.8M431.7 222.9h.8M391.1 198.3h.8M416.7 211.5h.8M477.2 247.9h.8M451.1 231.4h.8M418.8 225.4h.8M393.1 205.8h.8M472.8 240.4h.8M450.6 240.1h.8M418.0 209.9h.8M482.4 237.3h.8M455.9 232.2h.8M499.1 249.9h.8M451.7 225.6h.8M487.0 249.5h.8M434.6 219.9h.8M458.6 233.9h.8M478.4 251.8h.8M365.6 197.3h.8M423.2 222.1h.8M442.9 223.5h.8M360.7 190.4h.8M470.4 236.5h.8M459.4 238.2h.8M492.5 257.1h.8M407.9 202.9h.8M422.4 206.5h.8M488.8 247.7h.8M413.8 216.1h.8M477.2 238.7h.8M415.3 221.0h.8M402.7 211.1h.8M393.6 212.6h.8M384.1 199.3h.8M416.8 215.4h.8M376.3 199.9h.8M476.2 246.7h.8M498.2 260.8h.8M366.7 197.4h.8M360.3 175.4h.8M352.6 188.8h.8M491.9 245.0h.8M363.1 196.0h.8M454.1 234.0h.8M397.6 209.9h.8M381.8 201.7h.8M389.0 200.2h.8M455.5 243.7h.8M354.7 184.7h.8M481.8 243.0h.8M437.2 225.9h.8M387.4 202.7h.8M383.3 202.2h.8M450.3 228.6h.8M446.4 229.8h.8M399.8 212.7h.8M402.2 209.1h.8M421.6 214.3h.8M488.6 247.7h.8M432.8 223.7h.8M478.1 243.6h.8M448.2 233.2h.8M436.4 227.6h.8M425.5 229.2h.8M454.1 234.5h.8M425.8 228.7h.8M460.9 238.5h.8M379.4 203.6h.8M400.4 189.9h.8M483.0 246.1h.8M411.3 213.4h.8M478.5 242.6h.8M492.7 248.0h.8M438.8 226.8h.8M367.3 197.7h.8M465.6 230.8h.8M451.9 232.3h.8M395.7 210.4h.8M481.5 245.3h.8M424.5 214.5h.8M360.6 197.4h.8M362.2 185.5h.8M386.3 214.8h.8M443.5 219.5h.8M474.3 239.8h.8M366.9 194.2h.8M355.4 182.7h.8M445.4 223.7h.8M413.5 216.6h.8M418.3 216.1h.8M475.2 245.6h.8M489.9 245.7h.8M497.1 259.7h.8M468.9 241.2h.8M352.5 196.9h.8M374.6 194.5h.8M440.1 237.4h.8M495.3 257.3h.8M364.3 191.3h.8M429.3 223.9h.8M411.5 216.1h.8M413.1 219.3h.8M392.3 207.5h.8M392.7 213.5h.8M387.8 201.8h.8M367.5 190.3h.8M435.2 221.4h.8M418.9 217.7h.8M459.0 230.2h.8M448.0 228.7h.8M495.0 247.9h.8M403.0 208.4h.8M484.4 247.3h.8M409.8 216.8h.8M451.2 244.3h.8M472.8 239.2h.8M411.6 214.7h.8M419.0 208.4h.8M446.7 239.3h.8M368.7 190.6h.8M431.8 227.7h.8M366.3 193.4h.8M385.8 206.4h.8M445.5 228.0h.8M497.9 253.7h.8M502.0 251.4h.8M391.2 204.1h.8M374.0 191.3h.8M429.8 216.6h.8M418.3 214.8h.8M409.0 213.5h.8M467.3 233.9h.8M458.5 236.1h.8M436.3 223.6h.8M445.3 231.0h.8M439.3 229.9h.8M453.6 247.1h.8M491.2 247.4h.8M494.1 257.1h.8M499.0 250.7h.8M481.0 237.6h.8M367.8 200.1h.8M419.8 213.9h.8M469.3 241.0h.8M396.2 205.0h.8M443.1 234.0h.8M360.3 190.5h.8M382.6 200.1h.8M412.1 207.8h.8M362.6 181.9h.8M415.7 214.6h.8M386.6 204.3h.8M481.3 235.8h.8M399.9 209.2h.8M409.2 213.3h.8M472.4 241.4h.8M436.0 223.1h.8M359.6 187.1h.8M384.7 204.4h.8M443.7 229.3h.8M382.0 191.9h.8M389.3 196.6h.8M445.5 227.6h.8M426.2 219.5h.8M392.4 206.4h.8M435.9 220.5h.8M447.1 232.7h.8M358.0 189.0h.8M393.1 207.7h.8M398.2 210.8h.8M483.9 247.0h.8M359.7 190.4h.8M404.1 207.5h.8M381.2 200.5h.8M456.3 234.2h.8M473.7 244.7h.8M360.7 193.8h.8M481.5 246.7h.8M456.4 231.4h.8M384.6 196.7h.8M489.4 248.8h.8M396.0 208.2h.8M470.3 241.1h.8M363.3 183.2h.8M420.5 213.9h.8M427.9 225.9h.8M486.5 248.6h.8M477.5 246.7h.8M434.0 226.0h.8M359.8 198.1h.8M416.5 216.2h.8M408.3 218.8h.8M501.4 257.8h.8M454.2 226.6h.8M412.8 210.1h.8M406.8 215.8h.8M467.2 244.2h.8M366.4 197.6h.8M474.6 251.5h.8M452.7 237.4h.8M417.3 217.9h.8M458.6 240.4h.8M411.7 210.7h.8M373.5 196.9h.8M414.6 217.9h.8M359.8 182.3h.8M365.1 189.6h.8M417.9 216.6h.8M475.8 235.0h.8M382.6 194.8h.8M427.2 224.4h.8M498.9 252.5h.8M476.2 245.6h.8M487.3 255.3h.8M453.3 224.4h.8M440.4 220.4h.8M439.3 232.6h.8M442.2 225.8h.8M421.8 226.3h.8M406.1 206.6h.8M387.9 203.5h.8M361.8 192.6h.8M407.4 206.4h.8M467.5 239.6h.8M435.0 225.9h.8M376.6 206.9h.8M474.2 244.1h.8M358.3 185.7h.8M491.7 250.7h.8M449.8 227.8h.8M435.5 222.1h.8M413.9 211.5h.8M475.8 248.1h.8M353.1 178.6h.8M354.4 188.7h.8M430.1 214.4h.8M396.6 210.0h.8M412.3 215.6h.8M432.5 224.9h.8M358.6 184.5h.8M499.5 256.2h.8M453.7 231.4h.8M366.9 200.8h.8M462.8 231.9h.8M432.0 253.0h.8M455.1 234.5h.8M462.7 246.1h.8M500.8 252.5h.8M369.8 199.4h.8M501.5 246.2h.8M423.6 220.4h.8M382.2 190.2h.8M408.1 209.4h.8M406.7 209.7h.8M486.4 250.5h.8M430.7 223.3h.8M362.1 189.3h.8M459.3 244.9h.8M426.7 216.4h.8M474.2 248.1h.8M359.0 182.5h.8M481.8 258.8h.8M486.0 246.0h.8M353.3 183.9h.8M423.6 218.2h.8M370.3 193.7h.8M431.5 224.9h.8M365.4 192.2h.8M485.1 242.1h.8M379.6 201.4h.8M452.3 230.3h.8M450.1 228.3h.8M400.2 209.9h.8M384.2 200.4h.8M489.3 248.6h.8M358.0 191.9h.8M390.2 193.0h.8M401.1 211.3h.8M439.7 219.0h.8M407.4 207.2h.8M368.8 203.9h.8M437.6 224.8h.8M460.7 231.7h.8M457.8 231.4h.8M425.5 224.6h.8M398.1 206.7h.8M353.6 193.1h.8M432.0 228.2h.8M446.3 231.1h.8M418.2 216.2h.8M495.9 253.0h.8M382.4 199.0h.8M474.2 237.8h.8M459.9 241.7h.8M486.9 253.9h.8M490.7 252.5h.8M387.6 194.9h.8M490.3 256.3h.8M412.5 221.9h.8M453.9 233.8h.8M495.0 246.7h.8M441.4 234.1h.8M439.5 228.0h.8M362.7 198.0h.8M441.5 221.0h.8M388.2 200.2h.8M410.3 212.2h.8M408.7 213.0h.8M498.1 254.7h.8M447.7 230.0h.8M460.8 239.6h.8M378.0 202.8h.8M397.7 212.9h.8M483.7 247.0h.8M370.1 198.8h.8M495.0 248.2h.8M416.2 226.0h.8M410.5 211.0h.8M429.2 219.7h.8M418.5 211.6h.8M422.6 220.3h.8M415.6 223.0h.8M457.3 239.3h.8M393.5 200.5h.8M377.0 199.7h.8M417.2 218.6h.8M365.3 195.7h.8M419.2 217.9h.8M426.2 221.8h.8M469.7 248.0h.8M368.4 197.1h.8M411.6 209.4h.8M469.1 233.6h.8M402.8 210.6h.8M477.5 246.7h.8M459.8 229.8h.8M358.3 190.6h.8M409.8 218.8h.8M467.0 240.0h.8M431.0 219.7h.8M453.0 225.7h.8M500.6 257.1h.8M453.3 230.7h.8M434.0 225.9h.8M479.0 239.6h.8M416.6 215.2h.8M353.6 186.4h.8M392.9 210.2h.8M441.3 229.2h.8M494.3 253.5h.8M443.1 245.4h.8M394.6 202.3h.8M501.0 255.1h.8M412.1 215.3h.8M386.2 204.2h.8M435.0 239.0h.8M403.7 209.4h.8M368.8 200.7h.8M459.0 235.2h.8M455.8 233.8h.8M497.9 253.5h.8M372.6 203.2h.8M488.6 250.0h.8M471.6 247.6h.8M390.0 202.6h.8M423.9 213.6h.8M446.6 226.0h.8M399.3 221.4h.8M368.2 196.8h.8M477.6 247.0h.8M376.8 196.5h.8M425.7 223.7h.8M417.7 219.4h.8M487.5 260.6h.8M435.9 229.2h.8M415.7 219.7h.8M498.6 256.4h.8M404.9 205.4h.8M461.0 243.1h.8M387.1 209.2h.8M465.6 236.0h.8M464.7 243.0h.8M476.3 244.5h.8M424.8 219.3h.8M385.4 202.1h.8M446.8 233.9h.8M488.6 245.0h.8M398.5 201.1h.8M355.1 193.0h.8M379.8 200.9h.8M492.0 246.5h.8M353.0 188.3h.8M360.1 195.3h.8M366.8 195.6h.8M485.8 244.2h.8M409.5 217.9h.8M455.8 233.2h.8M457.9 233.5h.8M417.2 219.7h.8M461.9 234.5h.8M421.2 229.7h.8M433.3 219.4h.8M398.1 203.6h.8M352.3 194.0h.8M441.0 223.4h.8M391.9 202.4h.8M393.3 201.2h.8M483.9 251.2h.8M406.3 207.5h.8M367.4 192.2h.8M446.6 235.6h.8M432.8 217.9h.8M360.7 194.5h.8M404.4 215.6h.8M443.7 227.0h.8M394.0 216.4h.8M500.0 255.0h.8M471.9 242.9h.8M427.7 220.2h.8M489.4 245.9h.8M357.3 189.4h.8M385.7 217.0h.8M489.3 256.9h.8M428.4 225.7h.8M377.6 194.6h.8M437.6 223.1h.8M461.6 236.4h.8M442.6 223.1h.8M358.9 182.3h.8M357.6 185.8h.8M413.1 221.7h.8M354.5 185.9h.8M364.7 193.3h.8M448.4 232.2h.8M417.8 215.3h.8M364.9 194.3h.8M483.5 239.4h.8M407.3 210.9h.8M484.5 247.4h.8M443.4 225.0h.8M445.2 225.7h.8M415.7 233.7h.8M452.8 230.0h.8M388.6 203.7h.8M390.7 203.9h.8M483.3 257.0h.8M382.6 207.7h.8M410.0 208.5h.8M463.8 239.5h.8M401.6 201.0h.8M406.9 203.6h.8M488.4 255.1h.8M383.0 199.6h.8M388.2 189.9h.8M485.1 251.4h.8M393.3 203.9h.8M401.6 210.6h.8M484.3 248.5h.8M400.2 210.2h.8M501.6 255.3h.8M475.2 239.6h.8M479.1 225.7h.8M385.9 200.0h.8M384.6 205.0h.8M464.9 236.0h.8M476.1 242.1h.8M385.7 205.9h.8M382.9 200.3h.8M388.6 207.0h.8M372.7 200.2h.8M415.2 210.3h.8M427.5 229.8h.8M446.3 227.3h.8M360.4 187.3h.8M380.9 195.8h.8M369.6 189.8h.8M392.6 201.1h.8M379.9 205.6h.8M492.5 248.6h.8M408.1 210.3h.8M372.9 199.8h.8M452.0 229.9h.8M498.0 250.1h.8M471.2 244.7h.8M449.3 240.6h.8M408.8 210.9h.8M412.5 218.0h.8M397.4 215.6h.8M473.0 243.9h.8M472.6 253.1h.8M425.5 222.0h.8M481.3 239.0h.8M449.9 244.9h.8M454.9 231.7h.8M392.4 209.6h.8M388.3 205.3h.8M386.2 206.7h.8M488.9 246.5h.8M472.1 241.8h.8M486.9 252.2h.8M475.5 269.0h.8M472.8 244.1h.8M417.5 211.4h.8M466.9 245.0h.8M377.0 196.3h.8M450.4 230.2h.8M358.5 199.1h.8M496.9 247.9h.8M484.0 247.4h.8M376.8 187.7h.8M467.4 231.4h.8M475.6 244.5h.8M358.4 190.4h.8M437.0 230.4h.8M415.1 222.1h.8M444.9 225.6h.8M485.0 248.8h.8M460.5 238.3h.8M383.7 202.1h.8M435.3 221.7h.8M436.3 221.0h.8M353.8 187.6h.8M371.8 196.8h.8M406.0 211.0h.8M378.8 189.3h.8M387.6 212.9h.8M453.5 238.7h.8M496.2 250.6h.8M420.8 217.6h.8M449.0 225.4h.8M466.3 232.9h.8M453.0 223.7h.8M450.6 235.7h.8M352.2 184.0h.8M482.5 247.6h.8M376.2 193.3h.8M379.1 198.3h.8M428.5 217.6h.8M440.1 230.6h.8M465.4 237.9h.8M396.0 209.3h.8M493.8 252.9h.8M446.3 232.1h.8M478.7 249.6h.8M423.6 214.3h.8M362.7 190.3h.8M353.9 182.5h.8M448.1 235.4h.8M416.0 225.3h.8M418.1 220.1h.8M400.9 209.9h.8M378.8 195.3h.8M423.1 214.3h.8M390.3 198.5h.8M486.0 240.8h.8M378.9 195.6h.8M497.2 247.3h.8M481.1 249.4h.8M409.6 209.9h.8M468.0 242.2h.8M439.2 230.4h.8M421.9 216.0h.8M473.8 241.5h.8M476.7 239.8h.8M382.3 204.0h.8M488.0 243.4h.8M356.9 187.3h.8M352.9 188.0h.8M424.6 223.6h.8M397.3 212.6h.8M415.5 190.4h.8M423.9 213.0h.8M422.3 225.6h.8M488.2 246.1h.8M489.8 251.0h.8M404.0 213.3h.8M395.2 208.8h.8M450.1 232.1h.8M381.8 196.1h.8M412.1 211.6h.8M459.7 236.1h.8M352.9 184.9h.8M467.8 248.2h.8M462.1 228.3h.8M410.1 218.1h.8M389.2 211.2h.8M433.1 218.5h.8M396.4 214.2h.8M475.2 239.6h.8M440.6 222.9h.8M398.1 206.7h.8M473.2 237.7h.8M443.2 224.1h.8M371.8 201.6h.8M414.2 216.1h.8M425.5 220.4h.8M493.8 252.0h.8M400.1 206.6h.8M419.3 212.8h.8M498.6 263.9h.8M416.0 214.1h.8M476.1 244.6h.8M366.6 189.6h.8M411.1 204.0h.8M379.6 199.0h.8M484.6 244.7h.8M434.9 229.0h.8M384.8 197.5h.8M365.9 191.5h.8M415.2 214.5h.8M366.5 189.1h.8M424.8 225.5h.8M461.4 234.2h.8M398.6 205.9h.8M377.2 190.8h.8M406.3 220.2h.8M377.0 198.6h.8M478.6 234.4h.8M366.5 195.3h.8M463.2 239.7h.8M402.1 201.3h.8M461.3 224.9h.8M467.7 221.6h.8M372.3 199.5h.8M465.5 241.5h.8M493.9 253.6h.8M437.1 229.7h.8M448.8 234.9h.8M400.4 208.1h.8M378.2 198.6h.8M463.7 235.6h.8M475.1 243.0h.8M383.0 206.7h.8M369.1 191.1h.8M404.9 209.8h.8M446.0 232.5h.8M406.8 213.2h.8M496.7 251.4h.8M470.8 240.8h.8M489.5 250.3h.8M442.0 207.2h.8M465.4 233.6h.8M494.7 253.6h.8M357.4 189.4h.8M438.3 231.5h.8M380.1 200.5h.8M471.3 239.1h.8M386.9 198.7h.8M463.3 236.9h.8M401.9 210.1h.8M449.8 234.9h.8M453.9 232.4h.8M488.4 254.3h.8M482.9 246.1h.8M417.7 216.8h.8M455.4 238.4h.8M379.4 197.8h.8M366.8 194.6h.8M459.2 233.0h.8M488.1 251.3h.8M464.0 235.8h.8M429.6 214.9h.8M446.5 229.2h.8M461.6 233.2h.8M437.4 228.9h.8M406.5 213.4h.8M479.7 242.7h.8M407.4 212.9h.8M487.6 254.2h.8M472.0 241.1h.8M471.0 251.0h.8M477.1 248.1h.8M500.1 254.2h.8M500.5 252.9h.8M427.3 229.1h.8M408.6 214.7h.8M462.0 225.1h.8M497.2 249.5h.8M446.6 229.3h.8M355.9 201.6h.8M357.8 193.8h.8M421.7 216.2h.8M470.2 239.8h.8M485.2 245.6h.8M408.3 208.1h.8M429.6 221.9h.8M429.0 241.5h.8M366.2 201.8h.8M352.2 175.1h.8M430.6 224.2h.8M427.7 224.5h.8M481.6 239.0h.8M379.3 196.5h.8M479.9 240.8h.8M392.7 208.4h.8M432.9 222.5h.8M458.1 232.0h.8M373.8 202.2h.8M494.0 252.8h.8M495.7 253.7h.8M497.5 254.8h.8M352.4 190.3h.8M448.6 236.9h.8M452.7 230.9h.8M484.0 246.1h.8M382.3 195.2h.8M370.7 195.7h.8M473.5 245.6h.8M391.3 211.7h.8M362.0 191.0h.8M365.8 194.6h.8M448.8 221.6h.8M432.4 212.8h.8M464.2 230.7h.8M473.1 246.5h.8M352.5 193.6h.8M492.0 252.0h.8M484.0 251.4h.8M492.0 244.2h.8M467.4 239.1h.8M409.6 215.1h.8M389.3 204.0h.8M488.9 243.6h.8M415.1 220.2h.8M425.2 218.1h.8M456.8 241.0h.8M455.3 235.1h.8M456.1 237.6h.8M445.6 228.2h.8M428.3 221.0h.8M467.1 233.9h.8M411.4 210.8h.8M391.4 207.7h.8M488.4 255.5h.8M478.9 248.8h.8M459.7 238.2h.8M377.3 199.5h.8M358.9 193.6h.8M490.4 245.1h.8M493.5 247.2h.8M392.9 206.9h.8M446.5 232.4h.8M354.8 189.3h.8M411.1 214.1h.8M457.6 235.3h.8M406.2 219.3h.8M473.1 244.3h.8M489.0 258.4h.8M372.6 196.1h.8M455.3 230.9h.8M408.5 217.7h.8M378.2 198.1h.8M404.4 213.7h.8M424.3 223.2h.8M486.4 239.1h.8M466.9 235.2h.8M352.8 185.0h.8M360.5 192.8h.8M501.1 253.1h.8M435.5 226.0h.8M443.6 226.6h.8M405.0 215.3h.8M476.8 244.3h.8M435.6 227.0h.8M440.9 234.2h.8M389.5 196.0h.8M468.6 236.3h.8M384.2 205.3h.8M372.6 203.2h.8M441.7 231.3h.8M476.9 248.0h.8M396.0 209.9h.8M397.4 214.8h.8M374.5 201.1h.8M442.5 228.0h.8M467.7 237.8h.8M370.9 204.9h.8M432.3 223.6h.8M433.0 225.0h.8M368.1 199.1h.8M431.6 224.8h.8M392.8 208.8h.8M381.9 197.3h.8M499.9 251.2h.8M365.6 194.5h.8M403.6 213.5h.8M444.8 220.9h.8M412.8 205.9h.8M354.7 186.3h.8M482.0 247.1h.8M387.9 198.6h.8M413.9 208.3h.8M488.3 251.7h.8M497.5 244.9h.8M489.3 250.4h.8M413.7 209.9h.8M463.7 240.4h.8M479.3 244.8h.8M381.6 202.6h.8M497.5 253.3h.8M367.3 189.0h.8M450.7 236.3h.8M387.9 204.7h.8M384.3 199.1h.8M372.6 198.5h.8M493.4 241.9h.8M371.3 202.7h.8M488.9 237.5h.8M376.9 201.4h.8M401.4 204.9h.8M383.8 193.7h.8M500.2 252.2h.8M366.0 200.0h.8M481.2 247.6h.8M397.1 207.2h.8M494.9 249.6h.8M464.6 233.7h.8M391.6 199.7h.8M428.5 214.9h.8M376.2 202.5h.8M413.1 210.1h.8M356.0 205.1h.8M454.3 233.0h.8M441.0 232.7h.8M392.8 214.0h.8M354.0 183.4h.8M492.9 251.5h.8M370.8 190.8h.8M401.2 216.9h.8M355.9 194.5h.8M409.5 213.7h.8M412.3 217.6h.8M432.1 223.2h.8M400.6 212.1h.8M389.5 205.7h.8M469.9 246.3h.8M393.9 199.9h.8M401.9 211.2h.8M425.7 226.2h.8M393.1 202.5h.8M461.0 234.5h.8M364.6 191.6h.8M400.5 208.0h.8M415.2 217.7h.8M390.8 205.2h.8M478.0 255.1h.8M405.2 218.6h.8M415.1 221.6h.8M422.4 217.7h.8M476.6 238.0h.8M384.9 202.7h.8M476.4 245.1h.8M494.3 246.6h.8M392.0 206.9h.8M377.4 195.4h.8M470.4 239.0h.8M399.0 214.7h.8M386.2 201.0h.8M363.8 191.3h.8M444.1 234.5h.8M492.6 256.1h.8M484.2 253.5h.8M440.4 220.7h.8M417.8 206.9h.8M498.5 250.5h.8M451.1 224.7h.8M495.5 259.0h.8M455.3 227.4h.8M456.6 225.3h.8M457.2 227.3h.8M370.9 200.0h.8M389.9 199.0h.8M361.9 192.0h.8M491.9 245.7h.8M501.2 258.2h.8M442.8 228.4h.8M375.4 200.3h.8M370.7 193.2h.8M419.0 218.0h.8M410.7 208.4h.8M381.4 196.4h.8M365.4 191.0h.8M449.2 231.5h.8M470.9 242.7h.8M361.5 191.2h.8M398.5 204.5h.8M397.1 206.9h.8M433.4 222.7h.8M442.7 242.5h.8M413.6 215.4h.8M481.9 249.5h.8M410.7 222.7h.8M397.6 205.0h.8M467.1 236.8h.8M478.3 249.3h.8M483.7 237.9h.8M377.4 204.1h.8M381.6 195.6h.8M421.4 217.4h.8M497.2 251.8h.8M445.1 224.0h.8M445.6 225.3h.8M401.1 209.2h.8M500.6 259.9h.8M379.4 205.3h.8M435.9 224.4h.8M453.3 225.6h.8M473.5 238.3h.8M474.1 242.9h.8M410.0 211.8h.8M392.7 202.2h.8M499.0 245.9h.8M435.0 228.5h.8M394.4 202.8h.8M372.8 195.1h.8M472.5 245.7h.8M479.3 250.0h.8M437.5 219.9h.8M409.6 211.7h.8M451.0 233.2h.8M499.1 253.7h.8M438.8 221.9h.8M470.1 240.4h.8M484.4 239.7h.8M465.6 240.1h.8M425.0 224.0h.8M378.8 199.7h.8M456.5 239.2h.8M476.8 245.6h.8M496.5 247.1h.8M374.9 189.1h.8M369.1 191.7h.8M447.5 229.6h.8M476.1 248.0h.8M363.5 197.0h.8M444.2 227.2h.8M392.0 204.4h.8M501.9 258.2h.8M406.3 213.8h.8M364.3 185.0h.8M469.5 235.8h.8M397.2 207.3h.8M414.9 214.6h.8M371.6 189.7h.8M401.7 207.9h.8M372.0 194.9h.8M390.7 212.1h.8M438.9 234.7h.8M396.9 216.6h.8M452.2 243.5h.8M487.2 248.8h.8M438.5 224.9h.8M356.4 193.1h.8M496.0 250.6h.8M381.7 198.3h.8M404.0 211.0h.8M431.0 230.1h.8M444.9 222.4h.8M403.4 203.8h.8M418.1 219.9h.8M446.1 220.6h.8M420.6 218.0h.8M394.6 210.1h.8M413.7 217.0h.8M409.8 222.2h.8M395.8 208.6h.8M442.2 235.8h.8M428.9 216.6h.8M413.8 213.6h.8M458.5 242.3h.8M473.9 239.9h.8M449.4 239.7h.8M403.2 209.6h.8M492.5 248.9h.8M367.7 193.7h.8M472.9 247.6h.8M415.2 216.3h.8M411.6 215.0h.8M478.5 244.5h.8M450.3 224.7h.8M498.1 245.6h.8M483.8 239.5h.8M369.5 197.9h.8M427.5 225.0h.8M467.2 239.5h.8M364.4 183.0h.8M433.4 234.0h.8M501.0 258.0h.8M387.9 194.7h.8M369.6 200.9h.8M395.5 210.3h.8M403.7 213.9h.8M394.9 204.2h.8M416.9 216.9h.8M477.1 245.6h.8M429.7 229.7h.8M440.4 224.4h.8M368.4 194.4h.8M361.8 194.6h.8M494.7 252.0h.8M404.1 212.8h.8M494.1 259.0h.8M402.4 217.4h.8M448.0 235.7h.8M451.3 236.5h.8M365.5 207.8h.8M362.7 194.7h.8M418.3 211.9h.8M371.1 197.2h.8M396.4 202.3h.8M381.4 214.2h.8M399.0 208.9h.8M420.4 211.5h.8M398.7 200.7h.8M402.4 212.3h.8M424.9 224.2h.8M454.5 231.9h.8M358.4 195.7h.8M501.7 257.1h.8M416.7 224.5h.8M490.5 249.9h.8M353.1 187.4h.8M360.7 183.0h.8M366.9 192.0h.8M489.0 252.7h.8M413.9 215.6h.8M479.0 251.2h.8M456.2 234.4h.8M365.2 194.0h.8M406.3 209.7h.8M401.8 205.2h.8M420.0 227.7h.8M465.1 237.1h.8M364.6 189.1h.8M491.0 254.3h.8M423.5 210.5h.8M406.9 215.5h.8M456.7 222.9h.8M393.5 202.1h.8M458.9 231.1h.8M414.4 214.2h.8M423.8 214.9h.8M380.4 204.9h.8M382.5 204.8h.8M481.3 255.5h.8M438.5 223.8h.8M415.4 219.3h.8M468.3 236.5h.8M488.9 246.6h.8M375.9 204.3h.8M501.7 252.0h.8M354.2 186.6h.8M444.1 228.1h.8M391.6 202.8h.8M389.9 204.3h.8M426.2 220.8h.8M442.7 223.3h.8M417.6 221.7h.8M459.1 241.7h.8M494.6 255.8h.8M377.4 193.5h.8M387.7 204.8h.8M443.5 219.5h.8M413.6 229.9h.8M399.4 212.0h.8M427.7 223.7h.8M456.6 233.4h.8M488.4 242.8h.8M493.2 252.4h.8M475.0 238.4h.8M404.0 206.7h.8M484.6 240.1h.8M458.5 248.0h.8M378.2 196.1h.8M495.0 250.9h.8M389.2 207.9h.8M454.4 236.0h.8M456.2 233.2h.8M488.3 249.1h.8M452.0 233.8h.8M499.5 260.0h.8M361.0 189.6h.8M357.7 192.7h.8M381.4 199.9h.8M438.3 229.2h.8M415.6 215.0h.8M364.4 189.0h.8M382.4 199.6h.8M438.9 223.5h.8M412.4 221.2h.8M466.6 237.1h.8M422.1 217.6h.8M483.7 250.2h.8M465.9 239.8h.8M426.2 234.4h.8M405.7 211.1h.8M384.1 203.6h.8M395.9 217.9h.8M405.3 208.9h.8M406.2 214.8h.8M378.9 197.9h.8M423.0 220.6h.8M368.8 192.3h.8M482.3 246.1h.8M434.6 226.1h.8M366.3 191.1h.8M401.2 205.4h.8M390.3 215.4h.8M375.5 197.5h.8M424.1 222.8h.8M379.5 204.9h.8M374.8 191.1h.8M457.4 230.5h.8M416.5 221.4h.8M452.9 238.4h.8M422.5 215.2h.8M427.6 224.5h.8M398.7 209.8h.8M416.0 225.7h.8M424.2 220.6h.8M403.4 205.0h.8M476.0 245.9h.8M389.0 204.4h.8M385.1 193.7h.8M403.7 206.3h.8M469.8 234.0h.8M479.2 242.1h.8M436.8 217.9h.8M406.2 219.7h.8M449.4 235.4h.8M476.0 251.6h.8M388.5 192.9h.8M452.2 231.9h.8M458.5 236.3h.8M410.6 217.4h.8M373.8 201.8h.8M443.2 242.1h.8M383.6 190.6h.8M407.3 212.6h.8M433.7 224.0h.8M496.5 259.8h.8M374.0 197.3h.8M363.1 190.2h.8M432.9 224.3h.8M493.5 248.7h.8M359.0 194.2h.8M448.4 229.5h.8M356.1 184.5h.8M434.7 222.1h.8M369.9 193.3h.8M450.9 232.7h.8M406.2 220.0h.8M450.2 229.2h.8M390.8 206.6h.8M363.3 177.6h.8M379.3 195.8h.8M393.1 213.5h.8M376.8 201.0h.8M381.8 196.8h.8M433.7 219.7h.8M417.7 218.8h.8M475.8 243.3h.8M426.7 218.5h.8M433.0 224.3h.8M458.6 239.4h.8M480.1 243.4h.8M439.8 226.3h.8M357.6 189.0h.8M420.9 213.1h.8M356.9 187.7h.8M442.8 236.9h.8M361.8 190.6h.8M433.0 214.6h.8M374.5 200.7h.8M480.4 246.9h.8M366.2 197.3h.8M451.0 230.5h.8M457.6 228.7h.8M393.3 203.7h.8M441.0 224.0h.8M401.5 213.3h.8M390.9 208.8h.8M391.0 211.9h.8M354.4 187.8h.8M453.0 238.5h.8M362.8 194.9h.8M381.6 202.5h.8M365.1 196.2h.8M472.7 238.1h.8M431.5 215.6h.8M422.2 229.3h.8M439.5 230.9h.8M473.3 241.2h.8M445.7 234.8h.8M429.0 224.8h.8M399.0 207.4h.8M429.6 215.7h.8M500.1 249.0h.8M437.5 227.5h.8M423.6 219.1h.8M485.3 249.6h.8M360.2 191.5h.8M361.5 196.9h.8M470.5 249.6h.8M493.4 253.4h.8M359.7 185.7h.8M355.7 191.4h.8M353.5 196.6h.8M438.6 227.5h.8M372.7 199.4h.8M436.3 224.1h.8M451.6 237.8h.8M354.4 183.6h.8M482.6 247.6h.8M389.9 201.5h.8M435.1 220.7h.8M405.1 220.6h.8M403.5 211.5h.8M412.6 207.3h.8M352.6 188.8h.8M416.4 211.3h.8M391.8 203.1h.8M405.7 213.9h.8M376.5 201.3h.8M402.3 204.9h.8M457.0 228.7h.8M499.6 247.5h.8M381.6 205.8h.8M482.1 242.4h.8M444.3 235.7h.8M367.2 194.5h.8M354.3 189.0h.8M484.7 244.6h.8M387.2 201.5h.8M368.0 188.2h.8M450.4 234.9h.8M458.0 231.4h.8M486.3 246.5h.8M427.1 221.3h.8M398.8 214.1h.8M399.8 198.9h.8M382.8 199.5h.8M447.3 226.7h.8M493.4 251.8h.8M364.8 184.4h.8M410.0 211.6h.8M404.8 208.9h.8M364.1 189.1h.8M441.3 218.6h.8M499.5 257.4h.8M393.6 196.3h.8M461.1 251.1h.8M487.1 244.1h.8M392.6 209.4h.8M489.9 240.3h.8M464.3 242.6h.8M448.9 226.1h.8M381.2 205.0h.8M393.7 211.4h.8M367.3 190.0h.8M486.4 244.2h.8M473.4 245.8h.8M365.0 181.3h.8M431.7 224.9h.8M384.0 194.0h.8M466.9 244.3h.8M438.0 230.9h.8M493.9 251.4h.8M461.1 241.7h.8M367.2 191.7h.8M408.0 222.8h.8M438.5 225.6h.8M488.8 252.2h.8M407.7 217.0h.8M380.2 198.8h.8M394.5 207.4h.8M389.3 206.1h.8M375.2 193.6h.8M403.6 209.1h.8M389.4 202.2h.8M428.6 215.6h.8M486.2 248.6h.8M495.2 248.4h.8M376.0 199.9h.8M437.5 223.1h.8M453.1 230.6h.8M374.9 200.0h.8M431.8 230.7h.8M382.1 200.5h.8M406.7 216.4h.8M400.6 206.5h.8M474.3 243.5h.8M387.2 204.4h.8M433.1 221.7h.8M439.9 223.6h.8M401.5 202.9h.8M491.5 253.6h.8M401.9 207.1h.8M401.0 205.9h.8M455.9 239.0h.8M425.2 219.8h.8M460.8 241.1h.8M375.0 198.5h.8M374.3 195.1h.8M462.5 245.6h.8M410.3 217.8h.8M480.6 249.6h.8M387.1 202.5h.8M388.1 206.9h.8M481.5 244.4h.8M406.3 215.9h.8M368.5 196.9h.8M385.1 199.1h.8M467.5 238.2h.8M391.9 204.4h.8M435.4 225.2h.8M477.2 239.4h.8M443.6 222.2h.8M465.0 240.4h.8M498.6 257.4h.8M396.9 212.4h.8M483.5 238.7h.8M434.7 229.0h.8M382.3 207.1h.8M371.8 194.7h.8M401.2 198.1h.8M372.7 202.3h.8M467.8 240.5h.8M435.7 232.0h.8M358.7 193.3h.8M483.8 239.4h.8M441.5 227.0h.8M418.5 218.6h.8M373.2 196.3h.8M422.5 217.8h.8M489.6 250.4h.8M439.7 232.7h.8M420.9 224.1h.8M443.3 241.9h.8M434.6 228.4h.8M445.6 224.0h.8M381.9 204.0h.8M374.4 190.9h.8M353.9 184.5h.8M476.8 245.0h.8M352.5 177.5h.8M390.5 209.0h.8M439.9 228.2h.8M427.0 225.3h.8M487.3 244.6h.8M384.0 203.3h.8M369.1 199.3h.8M376.1 199.5h.8M426.7 213.5h.8M395.7 220.1h.8M420.4 224.2h.8M455.2 238.7h.8M400.3 211.2h.8M451.8 227.7h.8M355.0 184.8h.8M434.0 222.1h.8M488.1 248.2h.8M492.2 239.6h.8M437.8 231.6h.8M499.5 281.3h.8M387.4 203.2h.8M396.7 206.4h.8M419.3 218.8h.8M428.4 225.9h.8M475.0 249.4h.8M419.2 218.9h.8M359.3 193.6h.8M457.0 237.2h.8M385.5 207.4h.8M484.4 241.1h.8M383.8 199.3h.8M396.4 198.4h.8M372.6 198.8h.8M397.4 207.4h.8M442.2 229.3h.8M392.1 205.2h.8M359.3 191.5h.8M440.0 227.9h.8M462.3 246.8h.8M368.4 195.7h.8M415.7 212.7h.8M362.3 200.9h.8M354.6 189.8h.8M408.2 209.9h.8M395.0 222.5h.8M483.3 247.4h.8M354.1 185.7h.8M449.0 222.9h.8M462.1 231.1h.8M414.6 217.7h.8M427.2 224.2h.8M389.1 199.0h.8M389.9 203.2h.8M360.0 193.2h.8M487.9 250.2h.8M356.4 187.4h.8M372.6 197.3h.8M460.7 237.8h.8M420.7 219.5h.8M428.8 229.2h.8M396.2 198.8h.8M376.2 192.1h.8M471.9 234.5h.8M370.6 196.1h.8M396.4 206.6h.8M464.8 235.8h.8M396.8 203.5h.8M494.8 244.3h.8M378.3 197.3h.8M431.2 227.9h.8M432.8 224.2h.8M427.1 222.6h.8M468.2 231.9h.8M359.0 187.5h.8M433.9 224.5h.8M470.5 234.4h.8M359.7 190.7h.8M434.0 227.9h.8M418.1 218.0h.8M412.7 216.4h.8M432.7 223.6h.8M445.8 225.8h.8M457.6 235.8h.8M486.8 248.9h.8M450.5 227.1h.8M501.9 254.1h.8M451.8 228.0h.8M392.4 204.4h.8M374.1 203.2h.8M362.7 200.5h.8M392.3 213.3h.8M369.9 189.7h.8M454.6 231.8h.8M455.5 236.5h.8M443.9 233.6h.8M409.5 211.5h.8M421.6 219.4h.8M391.0 203.2h.8M489.8 254.0h.8M354.4 193.3h.8M400.1 201.4h.8M438.0 230.8h.8M379.1 199.4h.8M480.2 239.1h.8M424.1 228.6h.8M407.6 209.0h.8M361.5 190.9h.8M394.2 206.9h.8M440.5 234.6h.8M394.2 211.9h.8M358.8 200.6h.8M439.0 238.4h.8M397.6 209.1h.8M479.0 240.7h.8M455.8 229.1h.8M460.3 235.0h.8M485.6 245.8h.8M473.6 239.1h.8M401.4 202.0h.8M437.4 223.6h.8M390.9 198.7h.8M382.3 202.1h.8M382.9 203.1h.8M368.7 194.1h.8M387.9 201.4h.8M385.8 199.8h.8M452.9 223.8h.8M389.8 200.2h.8M359.0 189.8h.8M415.3 206.4h.8M382.2 199.1h.8M455.5 232.5h.8M385.3 199.8h.8M435.6 226.7h.8M378.5 204.2h.8M424.4 219.4h.8M482.1 247.9h.8M397.5 211.8h.8M431.1 222.5h.8M417.8 218.0h.8M362.6 194.5h.8M355.2 196.8h.8M478.4 245.5h.8M403.1 201.9h.8M455.0 235.5h.8M414.0 210.1h.8M477.8 244.5h.8M381.3 195.3h.8M424.6 223.3h.8M434.3 226.7h.8M471.1 238.9h.8M356.5 195.7h.8M406.4 211.5h.8M423.3 218.1h.8M440.4 219.3h.8M373.3 199.9h.8M433.6 222.2h.8M456.1 237.6h.8M462.0 239.8h.8M385.7 215.1h.8M418.2 221.6h.8M396.7 201.9h.8M410.2 211.0h.8M406.5 211.1h.8M493.8 240.0h.8M354.1 185.2h.8M494.2 257.8h.8M357.0 190.1h.8M363.7 192.5h.8M383.0 193.4h.8M395.1 210.9h.8M480.7 243.7h.8M478.2 240.0h.8M492.2 254.9h.8M410.5 213.2h.8M354.4 197.6h.8M445.9 229.4h.8M486.9 259.1h.8M368.2 196.1h.8M476.2 235.5h.8M352.3 185.1h.8M461.9 236.9h.8M426.0 220.0h.8M488.3 238.9h.8M483.3 244.3h.8M359.0 185.1h.8M426.8 223.2h.8M388.4 205.6h.8M418.0 222.0h.8M362.0 192.3h.8M406.1 215.0h.8M413.3 213.4h.8M352.6 184.1h.8M423.2 220.0h.8M486.2 250.9h.8M361.2 204.8h.8M493.8 254.5h.8M425.4 219.0h.8M383.6 198.2h.8M497.4 268.1h.8M423.1 230.8h.8M417.6 216.1h.8M408.5 217.6h.8M484.3 248.4h.8M371.5 198.1h.8M383.6 198.5h.8M394.5 215.2h.8M361.4 193.9h.8M478.7 240.3h.8M425.3 219.4h.8M442.3 228.5h.8M484.9 245.5h.8M426.3 219.5h.8M393.5 210.1h.8M431.7 220.1h.8M427.1 218.0h.8M396.9 208.0h.8M386.8 198.3h.8M405.7 217.0h.8M462.3 233.7h.8M376.8 199.2h.8M501.5 259.7h.8M387.3 205.9h.8M392.9 200.0h.8M370.5 198.0h.8M410.8 215.4h.8M407.8 215.5h.8M454.3 237.4h.8M486.5 243.8h.8M389.2 193.4h.8M473.5 236.1h.8M398.3 205.6h.8M413.1 211.2h.8M371.3 197.3h.8M486.0 250.5h.8M408.0 218.1h.8M457.2 228.1h.8M356.0 190.3h.8M456.6 238.1h.8M386.0 205.5h.8M419.8 217.0h.8M453.1 235.7h.8M377.7 198.5h.8M431.1 222.3h.8M477.4 237.9h.8M376.6 204.0h.8M422.2 217.6h.8M379.7 202.8h.8M373.5 198.8h.8M425.5 212.8h.8M420.5 215.2h.8M448.6 232.9h.8M480.7 243.4h.8M458.0 235.5h.8M402.5 204.7h.8M425.0 222.6h.8M453.1 234.0h.8M477.9 245.4h.8M454.5 236.1h.8M427.4 222.1h.8M372.1 199.0h.8M482.3 245.9h.8M394.3 201.5h.8M412.8 217.6h.8M484.7 249.4h.8M383.2 199.4h.8M489.1 253.2h.8M386.4 198.5h.8M365.1 189.5h.8M429.1 233.0h.8M471.3 244.6h.8M412.4 219.6h.8M478.5 240.8h.8M411.5 209.6h.8M474.3 248.5h.8M369.0 197.9h.8M394.6 205.7h.8M370.4 197.0h.8M463.0 234.2h.8M422.5 214.4h.8M450.4 229.0h.8M387.8 198.0h.8M462.3 232.8h.8M501.0 255.3h.8M363.9 194.4h.8M399.9 212.3h.8M482.5 242.6h.8M479.8 241.1h.8M482.9 241.9h.8M386.0 204.0h.8M436.5 227.4h.8M365.0 191.5h.8M416.7 210.5h.8M438.5 224.7h.8M390.8 203.5h.8M415.4 219.7h.8M407.0 209.9h.8M364.7 190.1h.8M362.3 196.1h.8M469.2 232.1h.8M352.5 191.4h.8M500.0 250.1h.8M486.6 249.4h.8M500.1 248.3h.8M469.9 244.5h.8M352.4 195.4h.8M369.4 191.5h.8M399.9 209.6h.8M379.3 200.9h.8M361.1 186.8h.8M489.6 246.4h.8M488.6 248.5h.8M467.1 238.4h.8M390.0 196.1h.8M479.9 246.1h.8M474.9 241.2h.8M400.6 207.0h.8M371.2 191.0h.8M372.4 205.3h.8M413.4 214.3h.8M476.9 239.8h.8M363.5 191.1h.8M416.5 218.9h.8M405.2 214.3h.8M485.9 244.2h.8M375.0 198.8h.8M450.4 239.5h.8M400.5 205.8h.8M449.0 230.1h.8M475.4 241.5h.8M475.7 238.5h.8M478.9 238.6h.8M395.9 196.5h.8M393.4 206.6h.8M370.4 205.3h.8M390.4 203.0h.8M370.0 195.7h.8M469.7 234.4h.8M359.1 184.0h.8M380.8 197.8h.8M470.6 234.6h.8M467.3 239.9h.8M498.1 253.9h.8M409.6 217.2h.8M358.8 191.4h.8M473.3 241.3h.8M395.0 201.5h.8M468.0 243.4h.8M355.0 184.4h.8M357.3 178.2h.8M441.8 234.3h.8M454.7 235.0h.8M436.3 225.3h.8M431.9 218.6h.8M441.6 218.4h.8M371.7 190.0h.8M361.6 191.4h.8M404.5 214.9h.8M434.2 237.9h.8M389.4 204.1h.8M378.9 198.0h.8M419.0 221.7h.8M413.5 207.7h.8M392.4 208.7h.8M491.1 247.2h.8M493.5 250.5h.8M359.1 195.3h.8M424.1 219.5h.8M387.7 203.1h.8M402.5 210.8h.8M356.3 185.0h.8M364.1 194.6h.8M357.1 177.1h.8M370.9 190.1h.8M449.4 235.8h.8M363.8 204.1h.8M484.9 241.7h.8M472.4 240.7h.8M392.4 205.0h.8M455.8 238.9h.8M494.8 259.0h.8M369.5 203.7h.8M436.1 213.1h.8M421.9 211.2h.8M398.6 210.8h.8M395.2 197.7h.8M365.0 201.6h.8M449.1 227.9h.8M381.7 197.1h.8M415.5 220.0h.8M491.3 252.7h.8M404.3 215.7h.8M399.5 208.4h.8M491.9 244.6h.8M439.6 222.2h.8M437.6 224.0h.8M385.4 196.8h.8M448.2 239.4h.8M408.9 203.3h.8M433.6 224.4h.8M411.7 220.4h.8M364.2 194.3h.8M483.7 250.2h.8M455.8 233.9h.8M495.8 251.1h.8M398.0 219.1h.8M394.3 200.2h.8M372.4 188.0h.8M397.9 212.8h.8M400.8 202.2h.8M379.6 193.5h.8M391.7 200.2h.8M396.2 199.3h.8M480.7 252.4h.8M419.0 214.1h.8M475.0 248.0h.8M359.5 179.0h.8M380.3 204.5h.8M495.0 259.9h.8M359.6 185.0h.8M362.5 188.7h.8M429.7 222.3h.8M395.5 206.1h.8M381.2 197.3h.8M443.4 220.4h.8M443.4 232.1h.8M380.3 202.5h.8M432.9 226.7h.8M420.3 218.5h.8M479.0 244.9h.8M362.3 197.8h.8M387.0 201.4h.8M436.8 231.7h.8M357.1 190.7h.8M478.9 246.1h.8M497.3 254.5h.8M401.3 202.3h.8M468.3 232.2h.8M389.4 198.8h.8M494.3 244.4h.8M383.8 202.8h.8M352.9 180.6h.8M362.3 191.8h.8M420.8 217.3h.8M357.8 188.2h.8M499.1 260.6h.8M446.7 233.1h.8M437.4 226.7h.8M446.0 228.1h.8M414.8 216.2h.8M484.9 251.8h.8M459.0 241.4h.8M416.6 216.4h.8M394.7 212.1h.8M373.7 202.5h.8M399.3 209.0h.8M405.0 210.3h.8M364.1 196.4h.8M490.8 258.9h.8M390.7 203.2h.8M433.1 220.0h.8M362.0 193.4h.8M434.9 226.6h.8M449.0 242.4h.8M364.0 188.0h.8M498.4 257.5h.8M376.5 194.7h.8M391.5 207.8h.8M462.5 238.1h.8M402.6 210.9h.8M483.6 255.7h.8M387.8 190.0h.8M399.1 216.0h.8M455.9 233.9h.8M481.1 249.8h.8M484.6 248.7h.8M395.3 200.1h.8M431.7 232.3h.8M413.7 215.8h.8M453.5 230.9h.8M386.2 201.9h.8M477.9 242.6h.8M459.0 239.5h.8M378.3 206.8h.8M399.2 214.8h.8M402.5 212.0h.8M491.6 247.2h.8M420.5 217.8h.8M444.5 221.5h.8M491.7 250.3h.8M411.5 213.2h.8M494.0 250.9h.8M395.9 215.3h.8M354.0 185.0h.8M367.4 199.3h.8M455.9 244.8h.8M409.2 201.8h.8M477.1 250.1h.8M432.0 222.9h.8M454.9 232.6h.8M404.9 210.5h.8M440.1 227.2h.8M456.8 237.5h.8M408.6 203.2h.8M425.7 230.3h.8M478.6 249.7h.8M491.4 243.5h.8M404.6 208.3h.8M362.1 195.2h.8M478.4 249.0h.8M419.1 218.8h.8M497.4 240.7h.8M466.5 236.9h.8M407.3 217.1h.8M479.6 244.1h.8M434.2 227.5h.8M459.1 228.7h.8M484.8 246.2h.8M439.1 220.7h.8M494.2 251.1h.8M411.8 204.4h.8M408.9 210.9h.8M448.1 229.5h.8M412.8 219.6h.8M458.2 240.3h.8M431.7 229.5h.8M463.4 240.2h.8M475.9 231.6h.8M437.2 225.9h.8M489.2 253.3h.8M469.2 235.8h.8M480.6 248.3h.8M355.0 186.3h.8M354.4 188.4h.8M447.2 233.9h.8M402.0 203.1h.8M483.0 246.4h.8M410.8 208.6h.8M463.6 239.6h.8M389.0 210.7h.8M446.5 236.1h.8M487.1 251.2h.8M481.4 247.0h.8M407.0 211.8h.8M424.3 217.5h.8M432.4 229.6h.8M403.7 209.5h.8M424.6 226.0h.8M496.7 256.4h.8M484.0 234.9h.8M399.2 202.4h.8M454.6 235.6h.8M494.3 243.4h.8M406.4 204.9h.8M479.3 240.9h.8M471.7 234.6h.8M485.1 249.0h.8M364.7 193.3h.8M490.5 254.4h.8M499.2 251.4h.8M388.3 209.5h.8M447.0 232.8h.8M365.6 190.9h.8M442.4 230.7h.8M458.3 233.9h.8M463.9 229.3h.8M480.6 250.5h.8M396.1 200.3h.8M369.4 198.2h.8M474.6 247.5h.8M355.9 187.6h.8M387.0 198.0h.8M387.6 206.6h.8M468.3 243.6h.8M418.4 219.4h.8M477.7 247.9h.8M452.2 231.8h.8M478.5 248.2h.8M470.0 242.1h.8M484.1 245.6h.8M393.5 207.9h.8M405.4 205.8h.8M446.3 233.3h.8M439.5 230.6h.8M468.7 230.5h.8M473.3 235.1h.8M397.8 207.5h.8M370.2 191.2h.8M463.2 236.1h.8M455.1 236.5h.8M393.6 190.4h.8M360.6 189.4h.8M355.5 182.3h.8M389.3 212.8h.8M393.1 201.8h.8M383.2 200.3h.8M359.6 193.7h.8M377.6 200.7h.8M404.5 212.9h.8M365.9 199.6h.8M383.0 203.9h.8M417.8 213.2h.8M479.3 252.4h.8M482.8 248.5h.8M412.8 226.1h.8M370.9 192.9h.8M392.4 203.5h.8M453.3 233.5h.8M413.1 214.7h.8M437.6 231.4h.8M462.6 234.7h.8M450.9 236.5h.8M481.0 241.5h.8M364.9 191.8h.8M396.6 209.1h.8M357.2 182.1h.8M430.2 224.6h.8M444.3 224.2h.8M390.1 203.8h.8M360.4 190.7h.8M421.6 213.9h.8M377.2 196.3h.8M381.2 200.3h.8M409.2 213.7h.8M493.8 250.7h.8M406.1 211.2h.8M458.4 237.2h.8M407.9 197.7h.8M412.8 227.2h.8M373.1 197.1h.8M379.7 200.8h.8M467.6 233.9h.8M416.4 214.2h.8M394.8 201.0h.8M500.1 246.3h.8M483.8 247.7h.8M391.7 209.1h.8M417.2 212.8h.8M437.1 228.7h.8M377.0 199.5h.8M416.1 209.3h.8M394.7 203.7h.8M473.6 237.2h.8M366.2 199.9h.8M500.8 254.8h.8M387.4 197.7h.8M401.7 215.8h.8M363.4 191.1h.8M489.0 251.2h.8M476.3 254.8h.8M362.2 183.9h.8M431.3 226.6h.8M410.6 214.4h.8M443.0 220.4h.8M402.4 218.6h.8M495.5 250.3h.8M384.7 204.0h.8M475.1 243.0h.8M392.2 209.2h.8M449.5 224.9h.8M416.2 216.4h.8M430.9 221.2h.8M430.4 220.1h.8M445.9 230.3h.8M362.2 192.9h.8M361.0 192.3h.8M497.7 248.6h.8M390.0 202.1h.8M405.6 211.8h.8M388.0 208.6h.8M448.9 230.4h.8M499.6 251.8h.8M412.5 214.7h.8M400.2 202.0h.8M404.5 220.1h.8M356.1 176.8h.8M365.5 194.0h.8M359.3 195.7h.8M400.6 217.5h.8M499.7 250.3h.8M373.2 193.8h.8M434.4 225.6h.8M383.1 201.4h.8M357.6 188.6h.8M477.6 246.4h.8M371.1 190.1h.8M372.3 193.2h.8M474.6 243.5h.8M388.6 211.5h.8M381.9 193.9h.8M493.5 253.9h.8M381.2 205.2h.8M476.8 237.7h.8M398.1 205.5h.8M436.9 235.4h.8M398.7 216.2h.8M402.9 212.1h.8M491.9 256.9h.8M488.2 249.9h.8M378.3 186.3h.8M460.7 222.2h.8M373.0 196.7h.8M397.0 203.6h.8M362.7 187.5h.8M449.2 231.9h.8M461.0 243.8h.8M464.0 239.6h.8M468.2 240.9h.8M411.3 211.8h.8M378.6 195.6h.8M352.7 191.1h.8M418.1 209.0h.8M492.0 250.6h.8M419.4 216.6h.8M444.4 231.2h.8M489.6 246.4h.8M481.4 241.2h.8M463.0 240.3h.8M440.9 224.7h.8M386.8 204.9h.8M464.4 244.2h.8M414.7 217.1h.8M458.0 232.4h.8M385.6 199.5h.8M493.2 246.2h.8M376.7 201.4h.8M470.7 242.6h.8M485.6 247.6h.8M374.9 194.3h.8M481.8 248.5h.8M448.7 235.7h.8M442.6 235.8h.8M390.2 198.6h.8M401.3 204.2h.8M387.3 206.2h.8M418.3 210.0h.8M449.2 231.6h.8M461.4 234.7h.8M457.9 229.2h.8M404.1 213.0h.8M402.5 213.7h.8M466.6 247.6h.8M498.1 252.2h.8M385.3 199.9h.8M414.0 211.0h.8M393.5 202.9h.8M498.2 253.2h.8M354.5 182.4h.8M485.9 253.0h.8M467.2 213.8h.8M401.8 207.1h.8M454.1 234.1h.8M407.5 203.9h.8M447.6 228.4h.8M415.9 209.5h.8M489.3 245.3h.8M420.7 219.1h.8M473.9 233.2h.8M438.5 221.0h.8M407.9 212.3h.8M497.1 253.7h.8M381.4 205.3h.8M488.3 249.9h.8M499.2 255.3h.8M479.4 244.1h.8M443.6 230.8h.8M445.4 226.8h.8M491.3 250.9h.8M417.0 224.2h.8M475.7 245.9h.8M468.2 228.1h.8M480.9 251.9h.8M418.2 215.7h.8M449.9 227.2h.8M365.9 198.6h.8M362.9 201.5h.8M368.2 195.0h.8M462.4 222.8h.8M405.3 214.1h.8M488.3 247.8h.8M363.9 194.3h.8M377.9 194.5h.8M477.5 237.2h.8M414.8 216.3h.8M385.1 196.2h.8M469.2 245.7h.8M387.2 201.9h.8M498.1 259.8h.8M393.3 226.0h.8M480.8 248.7h.8M424.0 218.6h.8M492.3 256.4h.8M396.5 206.0h.8M490.8 249.7h.8M397.5 210.3h.8M419.3 221.5h.8M446.9 236.0h.8M435.2 226.8h.8M452.7 230.9h.8M456.4 235.2h.8M392.2 204.4h.8M353.4 181.3h.8M460.6 238.0h.8M442.1 226.6h.8M436.6 221.5h.8M426.4 218.3h.8M491.3 248.6h.8M396.6 206.8h.8M488.9 240.1h.8M377.2 198.7h.8M456.2 236.3h.8M493.3 248.5h.8M375.2 189.5h.8M467.6 232.8h.8M393.0 205.4h.8M360.9 186.8h.8M416.7 214.0h.8M456.9 234.4h.8M394.6 203.1h.8M494.6 249.0h.8M352.4 186.3h.8M392.2 196.8h.8M403.3 212.1h.8M407.7 205.5h.8M397.0 197.2h.8M355.3 178.0h.8M383.5 199.9h.8M391.3 205.6h.8M452.9 240.7h.8M408.6 213.0h.8M460.4 240.9h.8M418.4 224.7h.8M403.2 217.6h.8M375.9 193.7h.8M386.3 199.5h.8M487.3 257.5h.8M420.3 218.3h.8M399.1 206.7h.8M384.8 192.7h.8M483.5 242.3h.8M457.7 241.5h.8M456.2 229.0h.8M472.7 241.0h.8M388.2 206.7h.8M461.7 244.7h.8M362.8 193.3h.8M451.8 232.9h.8M400.4 209.5h.8M451.3 235.1h.8M386.0 203.4h.8M405.1 206.8h.8M452.6 237.2h.8M493.0 252.3h.8M403.2 208.0h.8M377.4 198.5h.8M370.7 191.2h.8M452.8 225.4h.8M486.2 249.9h.8M354.6 186.9h.8M403.8 224.7h.8M377.4 200.1h.8M495.2 249.1h.8M371.9 201.3h.8M362.3 185.1h.8M467.3 248.6h.8M501.9 248.8h.8M468.1 237.0h.8M369.2 199.6h.8M413.2 217.1h.8M430.1 223.8h.8M486.9 253.4h.8M465.1 245.2h.8M361.1 193.5h.8M420.0 213.3h.8M468.8 238.3h.8M433.5 217.6h.8M452.1 235.5h.8M497.2 254.9h.8M498.8 255.6h.8M477.6 243.6h.8M437.8 223.8h.8M398.2 199.4h.8M376.0 194.4h.8M377.2 197.5h.8M448.1 224.2h.8M468.0 243.6h.8M480.9 252.1h.8M489.2 246.3h.8M395.2 205.8h.8M402.2 209.2h.8M381.5 195.8h.8M433.6 227.1h.8M494.0 252.3h.8M465.7 230.9h.8M417.6 213.7h.8M375.9 193.0h.8M478.5 244.1h.8M486.5 247.1h.8M467.3 251.2h.8M395.9 201.0h.8M410.6 221.2h.8M439.6 227.1h.8M489.7 237.6h.8M388.5 205.1h.8M415.0 223.3h.8M361.1 183.2h.8M352.5 189.8h.8M388.6 204.3h.8M473.4 243.2h.8M453.4 229.7h.8M423.6 215.8h.8M413.5 215.6h.8M391.8 199.7h.8M467.0 243.8h.8M425.2 217.1h.8M362.6 194.7h.8M446.1 226.5h.8M501.0 258.2h.8M363.0 194.0h.8M501.6 248.2h.8M367.0 199.1h.8M398.2 213.7h.8M498.5 251.1h.8M497.9 254.9h.8M379.7 201.6h.8M460.1 237.0h.8M443.9 218.7h.8M411.8 219.2h.8M469.6 242.0h.8M447.2 229.6h.8M385.8 206.9h.8M425.6 217.8h.8M458.5 233.2h.8M445.3 233.9h.8M433.5 218.8h.8M462.7 243.0h.8M372.3 196.8h.8M358.5 188.2h.8M357.0 173.8h.8M445.1 237.9h.8M417.2 215.3h.8M477.4 251.6h.8M497.8 256.4h.8M368.8 189.3h.8M408.9 211.9h.8M415.0 222.6h.8M434.0 222.5h.8M488.5 253.6h.8M442.0 227.7h.8M397.8 215.0h.8M451.5 228.9h.8M401.4 221.1h.8M435.3 225.8h.8M366.8 187.5h.8M436.6 223.1h.8M423.8 221.4h.8M448.9 232.3h.8M437.1 227.8h.8M438.0 213.1h.8M462.6 237.7h.8M372.1 196.1h.8M464.8 242.0h.8M445.6 232.0h.8M455.3 231.2h.8M412.0 217.3h.8M364.8 196.6h.8M490.4 252.8h.8M476.1 245.4h.8M498.5 253.1h.8M421.1 220.8h.8M484.8 248.5h.8M482.8 250.3h.8M434.5 218.7h.8M487.1 248.3h.8M474.2 244.3h.8M367.5 192.6h.8M372.1 196.3h.8M413.2 222.4h.8M432.0 224.3h.8M449.9 223.7h.8M436.7 223.2h.8M483.5 241.4h.8M472.2 245.1h.8M367.4 201.1h.8M402.9 213.6h.8M485.2 241.3h.8M465.3 243.5h.8M354.4 191.8h.8M446.1 224.6h.8M371.0 196.8h.8M427.6 222.4h.8M501.2 253.3h.8M363.3 190.2h.8M475.6 244.9h.8M424.6 218.9h.8M498.9 257.5h.8M481.0 246.1h.8M361.8 188.2h.8M448.5 236.2h.8M481.1 247.0h.8M393.9 211.6h.8M457.8 231.7h.8M390.2 201.4h.8M382.8 196.5h.8M401.9 204.7h.8M396.0 202.1h.8M496.4 249.5h.8M387.3 206.8h.8M415.7 211.5h.8M424.9 224.6h.8M455.7 223.1h.8M497.5 252.1h.8M444.1 226.2h.8M481.1 251.9h.8M371.8 190.8h.8M451.3 226.6h.8M377.9 206.3h.8M482.7 249.4h.8M441.4 230.0h.8M372.5 199.4h.8M479.6 238.6h.8M430.8 212.5h.8M424.9 225.4h.8M364.2 187.4h.8M488.1 250.4h.8M429.1 215.6h.8M481.7 258.0h.8M363.3 194.2h.8M454.0 227.7h.8M408.4 216.3h.8M432.5 218.0h.8M445.7 232.2h.8M475.9 238.1h.8M490.5 247.5h.8M377.1 200.4h.8M481.0 249.6h.8M369.6 195.8h.8M353.7 182.1h.8M397.2 207.6h.8M394.8 209.7h.8M467.7 223.8h.8M436.1 233.0h.8M410.3 206.3h.8M470.6 238.6h.8M492.4 256.2h.8M448.2 231.0h.8M450.0 233.8h.8M481.3 253.2h.8M396.0 204.8h.8M501.4 260.8h.8M378.5 202.7h.8M358.8 184.1h.8M475.5 248.8h.8M378.2 196.0h.8M402.4 204.3h.8M429.0 217.4h.8M368.7 192.3h.8M415.6 217.1h.8M405.1 218.0h.8M364.9 192.1h.8M442.5 226.2h.8M419.7 220.4h.8M376.0 202.7h.8M470.3 236.8h.8M413.6 220.2h.8M355.9 186.6h.8M484.0 249.6h.8M413.4 223.2h.8M365.8 185.5h.8M395.4 203.8h.8M390.3 201.9h.8M358.6 196.8h.8M401.7 210.3h.8M377.4 197.2h.8M384.1 205.2h.8M453.2 225.3h.8M375.8 207.6h.8M355.3 185.1h.8M378.8 208.4h.8M396.4 214.8h.8M376.8 204.5h.8M441.6 225.3h.8M484.0 250.8h.8M476.6 247.3h.8M422.6 211.9h.8M469.9 248.1h.8M470.6 245.6h.8M447.3 235.4h.8M472.5 243.7h.8M408.8 214.9h.8M464.2 250.0h.8M430.5 226.1h.8M462.8 232.0h.8M462.9 240.1h.8M361.9 192.0h.8M477.1 247.9h.8M357.5 193.0h.8M416.2 216.9h.8M440.7 234.3h.8M475.6 245.1h.8M360.7 199.2h.8M452.8 231.7h.8M403.8 218.5h.8M358.2 186.9h.8M401.9 205.2h.8M448.1 239.1h.8M364.5 189.7h.8M479.3 247.5h.8M358.5 184.7h.8M387.9 206.3h.8M401.5 211.3h.8M361.7 193.2h.8M490.9 244.8h.8M497.0 263.0h.8M487.8 245.8h.8M381.9 200.6h.8M477.0 246.9h.8M402.7 211.7h.8M395.4 202.7h.8M455.5 230.8h.8M364.9 185.1h.8M352.9 190.9h.8M491.7 260.4h.8M405.1 214.4h.8M471.3 242.9h.8M415.9 218.7h.8M366.0 187.9h.8M423.2 209.0h.8M377.7 197.3h.8M364.2 198.1h.8M354.9 183.7h.8M412.2 218.0h.8M390.8 205.0h.8M402.5 206.4h.8M496.3 251.6h.8M476.4 244.6h.8M457.9 234.5h.8M388.7 200.5h.8M464.5 235.9h.8M456.7 225.3h.8M431.2 238.1h.8M387.9 207.6h.8M383.2 204.5h.8M415.0 216.4h.8M393.5 205.3h.8M484.8 244.0h.8M421.9 226.3h.8M453.7 235.0h.8M486.6 245.9h.8M445.2 230.3h.8M376.2 200.4h.8M400.0 208.0h.8M490.4 242.8h.8M359.0 200.7h.8M385.3 195.0h.8M444.8 228.5h.8M480.2 250.2h.8M475.1 240.6h.8M461.7 237.4h.8M457.4 229.8h.8M408.1 217.0h.8M361.3 187.0h.8M447.4 235.4h.8M362.9 190.9h.8M471.8 238.9h.8M371.7 196.8h.8M355.7 186.0h.8M501.9 258.9h.8M377.2 193.8h.8M439.3 229.8h.8M361.3 195.1h.8M499.2 255.3h.8M354.5 188.8h.8M455.2 228.3h.8M478.6 241.5h.8M396.5 208.4h.8M353.2 185.1h.8M357.6 186.6h.8M361.2 197.9h.8M465.2 240.5h.8M431.3 228.5h.8M486.5 249.6h.8M446.9 228.1h.8M441.2 222.8h.8M382.3 194.2h.8M385.6 199.0h.8M498.8 258.0h.8M494.9 250.1h.8M417.7 220.0h.8M471.3 239.4h.8M460.1 241.9h.8M393.7 200.0h.8M382.0 199.2h.8M464.4 240.2h.8M496.4 260.0h.8M499.6 253.6h.8M405.6 214.5h.8M361.9 190.7h.8M399.9 212.8h.8M362.5 194.8h.8M500.2 252.2h.8M398.1 201.4h.8M479.2 251.7h.8M389.0 205.3h.8M496.0 251.4h.8M425.4 221.7h.8M477.1 246.7h.8M441.9 218.1h.8M467.0 244.0h.8M363.0 180.9h.8M365.2 195.8h.8M405.6 212.4h.8M483.7 258.6h.8M488.4 245.5h.8M458.6 237.2h.8M441.9 233.1h.8M359.4 182.8h.8M491.3 252.4h.8M451.0 235.6h.8M444.4 233.7h.8M478.4 240.0h.8M387.5 203.5h.8M445.0 231.4h.8M454.5 240.6h.8M465.5 243.6h.8M366.3 192.2h.8M461.3 237.5h.8M487.5 259.0h.8M446.3 234.7h.8M377.5 198.0h.8M489.9 237.5h.8M367.4 198.0h.8M386.6 213.9h.8M480.3 242.4h.8M440.4 230.1h.8M402.4 216.8h.8M472.6 245.5h.8M449.2 232.9h.8M369.8 200.2h.8M386.9 209.6h.8M473.6 243.6h.8M473.7 242.6h.8M363.2 201.1h.8M430.3 218.4h.8M459.0 242.4h.8M400.9 203.0h.8M361.5 190.1h.8M414.6 216.9h.8M492.3 249.9h.8M461.6 240.4h.8M384.1 202.4h.8M478.8 237.4h.8M452.2 236.0h.8M395.6 203.4h.8M392.3 210.2h.8M378.6 199.5h.8M412.8 216.5h.8M406.1 217.9h.8M394.9 205.4h.8M483.1 257.7h.8M466.2 245.1h.8M426.0 223.2h.8M496.5 249.2h.8M453.1 230.2h.8M494.8 257.1h.8M475.8 244.6h.8M447.2 230.0h.8M456.1 242.5h.8M468.3 238.5h.8M465.6 232.9h.8M483.1 241.4h.8M403.0 213.6h.8M406.6 214.3h.8M389.1 208.9h.8M490.3 253.0h.8M487.6 250.6h.8M418.4 214.5h.8M412.2 214.5h.8M371.9 201.0h.8M498.3 250.4h.8M452.8 229.3h.8M496.6 249.2h.8M446.9 232.0h.8M429.1 223.2h.8M464.4 246.7h.8M485.1 247.6h.8M478.8 242.1h.8M403.9 201.8h.8M428.1 221.2h.8M493.8 253.6h.8M428.0 222.8h.8M472.4 239.5h.8M430.8 219.6h.8M476.9 248.7h.8M362.3 191.2h.8M352.2 184.3h.8M365.7 203.3h.8M417.4 210.7h.8M407.2 213.6h.8M495.9 249.0h.8M501.6 256.0h.8M372.2 197.8h.8M477.2 245.0h.8M428.4 220.9h.8M478.2 240.9h.8M407.4 214.0h.8M468.0 245.8h.8M352.7 191.1h.8M422.2 224.2h.8M402.0 206.5h.8M389.8 214.8h.8M397.1 200.7h.8M414.9 215.5h.8M426.4 221.8h.8M430.8 217.1h.8M462.2 239.5h.8M476.1 245.5h.8M496.3 249.6h.8M452.4 229.7h.8M390.6 209.8h.8M438.9 215.2h.8M417.8 214.7h.8M387.3 209.5h.8M401.9 197.3h.8M386.4 205.3h.8M432.9 223.3h.8M362.0 187.8h.8M433.5 213.2h.8M413.8 211.1h.8M353.0 178.1h.8M393.4 203.0h.8M497.7 257.1h.8M439.0 219.8h.8M361.8 177.7h.8M438.7 222.3h.8M457.6 221.1h.8M372.3 200.6h.8M412.5 218.3h.8M384.1 202.8h.8M433.4 222.6h.8M475.4 237.3h.8M388.0 203.3h.8M373.0 187.7h.8M372.9 192.6h.8M444.2 232.5h.8M362.5 194.9h.8M431.0 222.9h.8M473.6 245.3h.8M467.0 240.2h.8M452.6 229.4h.8M353.7 186.7h.8M416.8 212.1h.8M388.6 207.2h.8M429.3 226.6h.8M374.8 204.3h.8M372.3 205.0h.8M494.8 254.6h.8M484.1 247.2h.8M366.7 194.8h.8M476.2 243.9h.8M361.9 181.8h.8M402.9 215.6h.8M501.1 268.3h.8M493.1 254.0h.8M422.2 223.5h.8M457.3 228.7h.8M409.5 213.5h.8M479.4 239.3h.8M399.5 214.2h.8M383.0 192.2h.8M373.7 186.1h.8M446.7 234.5h.8M435.7 225.4h.8M487.5 249.6h.8M374.1 194.4h.8M472.7 248.5h.8M493.6 249.6h.8M464.1 234.8h.8M369.3 197.8h.8M375.1 208.5h.8M365.2 196.3h.8M402.1 211.8h.8M465.9 235.4h.8M373.8 200.0h.8M419.4 223.4h.8M358.7 187.1h.8M453.8 231.8h.8M366.8 190.3h.8M471.0 241.2h.8M444.0 224.0h.8M380.6 197.6h.8M456.8 243.5h.8M404.4 210.0h.8M430.6 219.2h.8M435.5 225.0h.8M392.8 198.6h.8M414.6 217.8h.8M470.0 237.6h.8M481.7 252.2h.8M479.3 245.2h.8M437.3 228.6h.8M482.9 251.7h.8M373.1 202.9h.8M499.6 253.4h.8M358.8 188.0h.8M486.9 251.8h.8M470.8 247.3h.8M410.6 218.0h.8M470.6 237.6h.8M495.7 258.5h.8M376.7 192.8h.8M449.5 239.6h.8M352.7 186.0h.8M451.7 229.4h.8M361.3 185.3h.8M452.2 234.9h.8M356.1 192.5h.8M412.6 221.5h.8M482.1 242.1h.8M398.0 208.6h.8M497.4 255.7h.8M422.7 221.3h.8M379.3 198.3h.8M492.5 251.1h.8M375.4 192.0h.8M441.2 238.1h.8M493.5 247.6h.8M493.1 254.1h.8M435.4 225.5h.8M383.9 203.1h.8M427.1 221.7h.8M395.9 203.4h.8M399.2 207.5h.8M399.7 215.7h.8M382.3 201.1h.8M357.9 190.1h.8M464.7 236.7h.8M354.0 187.7h.8M438.0 226.7h.8M407.1 207.2h.8M449.6 236.8h.8M439.1 216.3h.8M423.9 222.5h.8M468.7 245.3h.8M437.9 222.4h.8M486.8 243.4h.8M439.8 221.1h.8M483.5 240.1h.8M481.7 243.9h.8M458.1 235.1h.8M401.4 207.7h.8M425.0 220.3h.8M363.9 195.0h.8M460.8 229.0h.8M449.0 222.5h.8M474.8 243.0h.8M364.7 193.8h.8M371.3 198.1h.8M449.0 239.4h.8M461.9 240.4h.8M363.1 194.5h.8M356.7 189.1h.8M400.8 214.0h.8M403.0 219.4h.8M359.9 187.4h.8M366.7 185.3h.8M382.6 211.2h.8M354.2 188.6h.8M374.2 192.9h.8M355.9 194.3h.8M407.5 219.2h.8M464.3 238.1h.8M451.3 233.4h.8M442.7 231.4h.8M422.2 211.1h.8M380.2 192.6h.8M359.3 187.1h.8M379.9 199.9h.8M494.1 253.4h.8M474.1 238.5h.8M437.5 227.1h.8M444.0 221.8h.8M463.8 232.0h.8M475.3 246.2h.8M388.3 199.8h.8M472.4 234.3h.8M449.3 228.2h.8M393.8 210.5h.8M395.2 207.8h.8M377.8 200.2h.8M434.2 223.8h.8M497.3 253.1h.8M470.5 242.7h.8M377.0 194.1h.8M370.0 192.7h.8M394.3 208.8h.8M376.7 205.1h.8M373.4 194.7h.8M461.8 236.9h.8M399.2 206.3h.8M436.9 228.8h.8M399.3 206.9h.8M499.7 258.6h.8M440.9 222.1h.8M373.0 190.9h.8M468.6 244.5h.8M395.5 219.1h.8M420.3 220.2h.8M395.1 208.9h.8M425.5 219.3h.8M398.2 207.6h.8M400.1 206.3h.8M375.7 184.4h.8M496.1 255.2h.8M383.2 202.6h.8M394.5 203.9h.8M413.6 223.7h.8M369.7 190.9h.8M386.4 205.3h.8M413.2 221.5h.8M439.6 230.7h.8M432.5 221.0h.8M407.3 207.8h.8M453.5 227.0h.8M463.9 235.6h.8M391.8 208.2h.8M388.0 200.3h.8M445.9 229.8h.8M413.8 203.5h.8M476.6 253.4h.8M353.5 179.4h.8M433.3 220.0h.8M404.3 208.5h.8M383.9 201.5h.8M482.2 248.8h.8M384.6 206.0h.8M470.3 248.1h.8M480.2 235.3h.8M497.2 248.4h.8M369.5 191.2h.8M375.5 197.9h.8M364.7 201.5h.8M400.1 203.2h.8M488.1 248.1h.8M448.6 225.0h.8M375.3 201.9h.8M367.9 192.4h.8M464.5 239.0h.8M445.5 229.1h.8M352.4 190.4h.8M440.2 225.0h.8M380.5 208.2h.8M396.1 215.6h.8M367.2 187.5h.8M500.8 243.9h.8M420.6 222.0h.8M444.6 223.2h.8M382.7 205.1h.8M408.3 214.7h.8M449.1 222.3h.8M464.1 236.7h.8M488.1 241.3h.8M389.2 202.0h.8M388.0 198.0h.8M412.5 214.8h.8M398.3 200.6h.8M475.0 234.0h.8M407.7 208.6h.8M408.1 214.7h.8M427.4 222.6h.8M436.6 229.6h.8M405.0 207.7h.8M353.4 184.4h.8M462.4 240.1h.8M369.3 189.8h.8M480.2 247.7h.8M389.1 194.5h.8M390.4 199.9h.8M432.3 215.4h.8M488.2 252.0h.8M409.1 217.2h.8M424.1 228.1h.8M414.3 211.6h.8M368.9 185.2h.8M395.3 199.6h.8M489.6 248.5h.8M493.0 247.1h.8M390.3 209.9h.8M490.1 252.2h.8M354.4 186.5h.8M459.8 232.0h.8M355.9 194.2h.8M416.0 213.8h.8M414.0 218.6h.8M417.3 214.2h.8M493.2 251.9h.8M404.9 211.9h.8M354.8 185.4h.8M368.6 188.3h.8M464.4 238.8h.8M371.3 189.2h.8M360.9 195.1h.8M381.4 198.3h.8M498.7 258.7h.8M418.7 215.7h.8M374.3 200.8h.8M450.8 231.3h.8M408.7 209.2h.8M435.0 228.8h.8M501.4 263.0h.8M456.9 235.1h.8M432.3 225.7h.8M501.8 253.6h.8M427.9 225.3h.8M420.0 213.3h.8M479.6 246.0h.8M495.8 248.3h.8M460.0 239.9h.8M406.8 209.2h.8M412.4 208.3h.8M353.4 190.1h.8M388.0 204.1h.8M468.6 236.6h.8M425.4 217.3h.8M480.5 243.3h.8M452.6 232.8h.8M437.0 232.6h.8M472.9 241.6h.8M426.7 226.6h.8M452.1 231.7h.8M425.5 231.1h.8M404.9 203.6h.8M466.8 229.7h.8M362.7 189.1h.8M498.6 257.4h.8M496.2 253.7h.8M476.6 239.0h.8M422.2 215.2h.8M419.5 220.5h.8M412.4 208.2h.8M420.9 214.4h.8M385.3 199.0h.8M471.9 242.8h.8M484.2 246.8h.8M427.2 224.1h.8M480.0 244.0h.8M395.8 209.5h.8M481.0 239.7h.8M498.0 252.9h.8M452.6 231.3h.8M496.5 250.8h.8M461.0 234.6h.8M456.1 240.7h.8M423.0 212.7h.8M361.0 190.0h.8M370.8 197.6h.8M476.2 247.8h.8M379.3 202.1h.8M455.0 236.4h.8M376.1 197.3h.8M465.3 242.3h.8M495.4 251.4h.8M444.8 228.1h.8M357.9 192.3h.8M462.6 226.4h.8M423.4 219.6h.8M481.9 244.2h.8M374.4 196.1h.8M394.1 206.4h.8M489.9 246.2h.8M477.6 237.2h.8M488.4 249.1h.8M430.1 226.2h.8M453.2 230.1h.8M492.0 260.7h.8M451.0 230.9h.8M365.2 193.3h.8M375.3 195.5h.8M352.4 193.8h.8M368.8 196.1h.8M356.1 193.2h.8M409.8 215.4h.8M444.5 226.0h.8M481.2 246.5h.8M413.4 217.4h.8M376.2 191.9h.8M488.4 248.8h.8M489.6 259.1h.8M498.7 258.5h.8M355.6 186.2h.8M440.7 225.0h.8M446.6 228.7h.8M432.2 222.0h.8M380.2 203.7h.8M490.2 250.2h.8M432.5 229.1h.8M357.6 193.1h.8M404.0 214.7h.8M461.1 240.5h.8M382.5 202.2h.8M468.5 241.0h.8M383.5 204.9h.8M417.0 240.7h.8M395.9 208.9h.8M371.2 188.1h.8M484.6 242.6h.8M403.1 215.8h.8M464.8 234.1h.8M485.7 254.5h.8M394.5 199.3h.8M352.9 185.6h.8M430.8 227.5h.8M387.4 213.3h.8M483.1 248.6h.8M376.8 204.5h.8M460.3 231.1h.8M355.9 194.5h.8M392.7 206.5h.8M381.6 198.0h.8M479.9 245.3h.8M441.9 226.7h.8M451.0 233.3h.8M364.4 189.1h.8M398.3 212.5h.8M485.9 245.4h.8M444.0 234.7h.8M465.7 238.0h.8M427.3 226.7h.8M382.8 202.0h.8M489.1 246.8h.8M391.6 199.2h.8M377.6 207.1h.8M449.4 235.1h.8M365.0 197.5h.8M466.7 233.6h.8M458.9 239.9h.8M409.5 209.9h.8M429.3 224.7h.8M425.1 227.2h.8M363.3 191.5h.8M364.0 197.8h.8M404.9 207.7h.8M353.0 183.5h.8M379.9 193.4h.8M406.9 216.9h.8M446.1 222.5h.8M429.4 217.8h.8M378.1 207.4h.8M466.0 228.5h.8M471.2 233.5h.8M451.5 237.4h.8M455.2 232.6h.8M390.1 210.7h.8M477.8 245.1h.8M439.8 226.2h.8M378.7 196.2h.8M454.7 237.8h.8M446.2 230.1h.8M437.4 230.4h.8M422.7 217.5h.8M467.1 236.4h.8M461.6 236.7h.8M440.4 221.9h.8M362.1 188.0h.8M386.8 201.1h.8M498.9 248.6h.8M412.4 220.5h.8M447.0 230.6h.8M371.8 204.4h.8M437.8 226.3h.8M443.4 231.0h.8M466.4 235.3h.8M497.4 255.6h.8M420.5 221.3h.8M399.0 208.9h.8M376.0 198.6h.8M402.2 207.5h.8M418.6 221.6h.8M496.7 260.3h.8M428.7 229.6h.8M453.3 227.8h.8M462.1 243.3h.8M354.1 190.1h.8M387.0 208.2h.8M433.1 219.9h.8M360.6 193.6h.8M374.6 191.5h.8M464.9 242.0h.8M453.2 231.8h.8M372.8 192.9h.8M369.7 190.5h.8M478.5 250.5h.8M422.9 221.1h.8M399.5 209.0h.8M459.9 245.0h.8M452.4 229.5h.8M501.2 253.3h.8M367.6 191.6h.8M467.3 246.3h.8M421.1 217.7h.8M389.3 201.9h.8M426.8 216.2h.8M355.1 190.8h.8M370.7 192.3h.8M368.4 185.1h.8M455.9 236.5h.8M458.3 237.5h.8M388.6 205.2h.8M398.1 215.1h.8M467.9 241.7h.8M410.2 205.8h.8M404.3 215.3h.8M493.9 252.7h.8M433.7 218.6h.8M432.8 221.2h.8M443.6 227.7h.8M358.2 191.4h.8M411.9 214.9h.8M470.3 241.0h.8M449.7 228.3h.8M485.6 240.2h.8M398.6 203.8h.8M423.4 228.4h.8M387.3 199.1h.8M379.9 202.2h.8M365.7 193.1h.8M381.9 202.6h.8M376.6 195.1h.8M417.9 217.6h.8M413.7 212.2h.8M466.7 243.2h.8M468.8 239.4h.8M433.2 218.2h.8M450.5 226.7h.8M422.3 220.8h.8M398.6 207.5h.8M427.6 223.2h.8M446.7 230.8h.8M495.3 252.4h.8M474.5 237.2h.8M362.0 188.7h.8M448.1 223.9h.8M365.7 185.8h.8M445.4 235.6h.8M479.4 243.7h.8M456.9 237.0h.8M370.0 202.8h.8M415.6 221.1h.8M381.3 202.7h.8M451.2 224.3h.8M458.6 235.2h.8M462.6 238.3h.8M405.5 211.5h.8M441.7 231.5h.8M383.3 200.4h.8M491.5 251.1h.8M492.8 259.0h.8M356.6 191.5h.8M436.6 209.7h.8M459.8 233.2h.8M386.7 203.2h.8M357.0 186.0h.8M352.4 191.7h.8M458.1 249.2h.8M353.9 183.6h.8M410.0 221.0h.8M471.8 245.2h.8M359.9 192.4h.8M458.1 236.7h.8M416.7 202.7h.8M410.5 212.3h.8M424.6 215.3h.8M404.8 209.4h.8M481.3 241.2h.8M452.5 227.9h.8M410.2 216.3h.8M370.1 193.9h.8M427.7 223.3h.8M501.9 252.3h.8M485.8 249.7h.8M362.2 192.4h.8M405.5 203.3h.8M422.5 219.9h.8M412.9 222.1h.8M368.8 194.0h.8M380.0 198.3h.8M432.3 226.0h.8M460.2 236.0h.8M459.5 231.2h.8M452.9 235.4h.8M453.1 234.0h.8M353.3 190.8h.8M384.8 200.3h.8M402.5 210.6h.8M390.5 208.8h.8M410.3 214.2h.8M412.0 205.7h.8M403.0 218.2h.8M353.6 194.1h.8M481.8 244.6h.8M495.6 259.0h.8M444.4 219.9h.8M393.0 212.6h.8M419.6 223.9h.8M488.9 251.9h.8M442.0 222.9h.8M456.6 230.9h.8M457.1 232.2h.8M499.2 252.8h.8M450.3 225.7h.8M368.3 202.8h.8M427.9 220.2h.8M490.4 243.4h.8M371.5 200.8h.8M359.7 188.9h.8M359.6 184.6h.8M362.5 185.8h.8M376.6 198.7h.8M467.7 231.0h.8M442.0 225.6h.8M461.8 232.0h.8M435.5 230.1h.8M405.1 214.7h.8M470.0 244.4h.8M377.5 190.2h.8M406.0 222.5h.8M414.4 224.0h.8M454.1 229.8h.8M466.2 238.4h.8M437.1 239.6h.8M443.3 230.4h.8M394.2 196.0h.8M441.0 221.9h.8M478.6 253.7h.8M417.9 219.5h.8M464.8 233.4h.8M428.3 218.1h.8M429.0 226.3h.8M443.3 229.9h.8M373.0 203.4h.8M384.3 195.2h.8M378.4 200.9h.8M432.3 217.6h.8M452.4 229.0h.8M458.2 239.5h.8M383.3 201.8h.8M402.1 206.7h.8M373.9 194.8h.8M450.1 224.6h.8M415.1 210.4h.8M393.0 204.0h.8M385.8 199.0h.8M494.4 255.3h.8M424.3 222.7h.8M500.7 252.0h.8M400.2 207.3h.8M384.4 206.8h.8M459.4 236.3h.8M488.9 253.1h.8M376.6 200.6h.8M481.3 239.9h.8M440.2 231.5h.8M487.7 251.9h.8M494.0 249.1h.8M416.1 215.7h.8M493.2 264.3h.8M379.1 205.9h.8M418.6 217.4h.8M418.5 218.9h.8M388.8 207.4h.8M424.6 222.6h.8M464.9 239.8h.8M368.3 190.3h.8M424.2 211.0h.8M430.9 222.3h.8M381.5 193.3h.8M448.4 230.3h.8M390.0 211.0h.8M437.7 225.7h.8M437.8 220.0h.8M464.4 231.6h.8M492.3 255.0h.8M491.0 239.9h.8M427.4 224.6h.8M391.5 208.2h.8M388.4 205.8h.8M470.0 234.0h.8M466.1 237.0h.8M471.2 237.0h.8M477.1 254.3h.8M436.8 225.8h.8M486.7 248.8h.8M450.6 228.6h.8M446.8 232.2h.8M477.6 238.6h.8M449.9 234.7h.8M467.2 245.9h.8M491.5 258.2h.8M411.4 208.0h.8M464.7 234.7h.8M396.8 210.8h.8M425.0 215.0h.8M483.1 247.5h.8M498.1 254.1h.8M494.2 258.5h.8M465.7 241.3h.8M479.3 244.4h.8M484.7 246.4h.8M443.5 243.2h.8M388.6 198.8h.8M354.7 181.2h.8M466.2 242.7h.8M466.1 237.0h.8M461.7 244.0h.8M439.1 224.6h.8M450.7 227.9h.8M459.8 236.7h.8M431.8 222.4h.8M450.8 233.0h.8M385.7 197.2h.8M432.2 227.0h.8M446.3 232.0h.8M437.4 224.2h.8M390.6 204.5h.8M371.1 194.2h.8M450.2 232.6h.8M368.9 198.2h.8M471.2 238.1h.8M379.4 198.8h.8M467.8 227.4h.8M405.4 204.9h.8M487.2 250.2h.8M385.9 205.6h.8M375.7 199.6h.8M453.3 236.0h.8M468.1 249.0h.8M404.5 203.0h.8M422.8 217.1h.8M451.3 221.2h.8M396.3 209.5h.8M410.4 210.6h.8M437.0 224.2h.8M397.5 207.8h.8M373.9 192.1h.8M488.3 246.9h.8M370.4 195.4h.8M500.1 253.6h.8M478.7 255.0h.8M419.1 220.7h.8M481.2 249.1h.8M361.7 183.4h.8M436.4 222.5h.8M405.1 207.3h.8M397.2 204.4h.8M486.3 248.9h.8M357.8 181.6h.8M481.4 246.8h.8M363.9 189.5h.8M453.7 230.2h.8M394.9 200.8h.8M431.1 222.3h.8M490.8 248.4h.8M471.7 236.9h.8M366.9 186.3h.8M397.8 204.9h.8M425.3 212.3h.8M459.6 234.5h.8M352.9 177.3h.8M481.6 252.3h.8M478.3 240.0h.8M495.5 250.9h.8M382.4 200.0h.8M384.0 207.2h.8M477.0 238.8h.8M429.3 222.8h.8M388.8 208.1h.8M354.6 190.7h.8M384.5 202.6h.8M453.3 232.5h.8M462.0 241.1h.8M405.2 215.2h.8M489.7 247.7h.8M428.5 221.9h.8M429.7 213.0h.8M411.2 215.7h.8M412.5 210.8h.8M405.9 203.2h.8M475.7 244.1h.8M418.1 212.3h.8M386.8 201.1h.8M417.3 216.2h.8M490.9 242.7h.8M447.9 235.1h.8M367.8 196.6h.8M414.9 223.6h.8M422.0 219.2h.8M354.1 183.0h.8M496.3 253.8h.8M489.5 245.7h.8M367.3 197.1h.8M434.9 219.2h.8M398.9 208.6h.8M383.8 199.8h.8M393.2 197.9h.8M360.1 190.3h.8M455.3 231.2h.8M407.0 211.2h.8M457.0 231.4h.8M474.3 242.0h.8M438.0 231.5h.8M403.6 208.9h.8M373.1 194.0h.8M449.8 229.5h.8M453.3 234.0h.8M469.2 231.8h.8M372.7 199.4h.8M359.0 189.2h.8M483.9 246.0h.8M443.0 212.1h.8M366.2 198.6h.8M458.4 232.2h.8M360.5 187.4h.8M446.9 229.4h.8M435.3 232.1h.8M459.3 230.8h.8M366.2 192.0h.8M488.3 246.1h.8M493.1 245.7h.8M499.8 252.1h.8M466.9 234.7h.8M398.8 200.3h.8M498.8 264.6h.8M444.2 224.2h.8M459.8 237.9h.8M451.3 229.8h.8M383.0 199.8h.8M480.0 249.9h.8M449.1 235.2h.8M385.2 199.8h.8M408.7 213.4h.8M373.6 193.1h.8M417.0 218.1h.8M500.5 244.6h.8M409.6 214.2h.8M411.4 204.2h.8M472.5 245.3h.8M364.5 189.7h.8M370.0 189.7h.8M463.9 243.9h.8M371.6 200.1h.8M443.8 226.7h.8M474.6 237.4h.8M436.5 219.0h.8M364.1 189.6h.8M383.0 196.0h.8M433.1 229.1h.8M495.2 254.1h.8M450.1 224.9h.8M456.6 237.0h.8M441.4 228.6h.8M400.9 217.0h.8M443.2 229.2h.8M353.5 199.4h.8M414.2 213.4h.8M473.8 235.6h.8M382.7 199.2h.8M449.3 230.4h.8M460.1 237.9h.8M375.5 194.9h.8M480.7 250.6h.8M388.6 205.5h.8M496.5 242.8h.8M403.7 216.3h.8M443.8 231.2h.8M494.3 258.2h.8M475.0 237.3h.8M424.9 221.1h.8M381.2 205.9h.8M444.3 234.7h.8M440.2 221.9h.8M361.6 188.0h.8M409.4 209.3h.8M490.2 250.2h.8M430.9 218.6h.8M379.2 193.1h.8M448.6 227.8h.8M420.1 225.2h.8M489.1 258.5h.8M425.6 227.1h.8M356.0 187.3h.8M376.3 204.7h.8M378.4 203.8h.8M494.7 251.9h.8M405.9 215.5h.8M404.4 216.6h.8M498.5 249.3h.8M383.0 198.7h.8M445.4 225.8h.8M494.2 247.6h.8M488.5 242.6h.8M376.1 198.0h.8M422.7 220.0h.8M389.9 212.2h.8M457.0 236.0h.8M389.0 206.5h.8M378.6 194.1h.8M392.8 202.4h.8M371.7 189.0h.8M459.5 231.0h.8M394.0 200.6h.8M412.1 211.9h.8M393.4 205.1h.8M409.1 214.7h.8M397.8 207.9h.8M405.1 215.5h.8M458.4 233.7h.8M378.1 199.2h.8M455.1 243.4h.8M404.1 223.2h.8M366.1 196.7h.8M370.0 197.3h.8M487.1 250.1h.8M358.3 183.8h.8M393.5 208.8h.8M481.6 252.0h.8M364.0 190.6h.8M383.7 196.8h.8M392.4 197.8h.8M477.4 249.0h.8M369.4 196.0h.8M493.9 253.8h.8M370.0 188.2h.8M436.9 222.5h.8M468.0 226.5h.8M435.8 221.9h.8M428.2 223.4h.8M417.7 217.9h.8M390.0 204.4h.8M500.9 257.4h.8M412.6 215.8h.8M448.0 220.7h.8M439.4 225.8h.8M496.3 246.1h.8M388.7 199.7h.8M375.3 197.9h.8M486.9 258.8h.8M428.4 228.7h.8M448.2 233.3h.8M445.8 231.6h.8M469.4 246.7h.8M477.7 246.2h.8M457.3 234.6h.8M352.8 190.2h.8M477.6 245.1h.8M358.4 190.3h.8M480.7 249.1h.8M352.2 191.1h.8M468.2 240.7h.8M447.9 229.6h.8M355.9 193.6h.8M465.1 238.7h.8M439.0 231.2h.8M370.2 193.0h.8M483.6 254.6h.8M440.7 223.3h.8M421.4 221.5h.8M493.9 251.3h.8M382.5 204.5h.8M378.5 196.5h.8M485.9 248.1h.8M376.1 196.4h.8M474.7 252.1h.8M383.5 198.1h.8M474.1 250.6h.8M413.3 216.6h.8M444.7 227.0h.8M443.1 229.6h.8M411.3 211.9h.8M429.8 221.9h.8M449.5 231.2h.8M372.5 200.1h.8M489.4 245.3h.8M475.6 238.4h.8M383.3 202.7h.8M385.8 206.6h.8M411.2 213.2h.8M467.8 243.5h.8M429.6 221.9h.8M399.3 204.9h.8M467.3 236.8h.8M381.4 193.7h.8M458.3 221.2h.8M465.1 243.6h.8M367.3 187.8h.8M437.5 223.8h.8M441.1 219.1h.8M497.7 255.3h.8M396.9 211.8h.8M421.0 212.3h.8M492.4 251.9h.8M371.6 192.9h.8M486.6 243.7h.8M406.9 216.7h.8M403.6 212.3h.8M501.3 257.9h.8M410.6 211.5h.8M389.1 201.1h.8M383.2 203.6h.8M456.4 232.3h.8M447.4 238.9h.8M387.9 201.9h.8M426.3 219.5h.8M395.0 206.7h.8M477.6 251.1h.8M405.7 212.1h.8M444.4 234.2h.8M489.1 243.2h.8M387.9 204.8h.8M494.9 253.4h.8M424.9 220.9h.8M448.1 228.6h.8M392.9 205.4h.8M456.2 232.3h.8M460.6 241.0h.8M440.9 222.7h.8M481.4 248.5h.8M422.8 216.0h.8M354.3 189.9h.8M489.1 244.9h.8M437.2 226.4h.8M444.3 236.0h.8M441.8 233.4h.8M358.2 191.0h.8M395.2 200.6h.8M365.5 195.2h.8M449.5 231.4h.8M480.3 240.1h.8M451.1 235.0h.8M474.1 241.5h.8M401.9 208.6h.8M356.8 192.0h.8M413.5 214.2h.8M377.4 193.9h.8M397.8 203.3h.8M387.9 205.0h.8M379.1 186.3h.8M455.2 232.7h.8M441.7 229.4h.8M475.5 246.8h.8M499.7 259.1h.8M387.7 199.7h.8M492.8 264.5h.8M467.2 240.5h.8M436.5 231.9h.8M497.9 254.6h.8M428.9 222.4h.8M356.3 195.0h.8M370.8 200.1h.8M399.0 202.8h.8M456.5 237.4h.8M437.0 226.0h.8M454.5 235.4h.8M354.9 184.6h.8M389.2 198.6h.8M435.3 221.0h.8M450.2 229.5h.8M416.8 214.2h.8M384.8 207.4h.8M398.5 202.4h.8M466.2 241.8h.8M459.7 240.4h.8M389.1 205.8h.8M494.6 255.9h.8M358.6 188.3h.8M387.2 199.9h.8M417.8 211.4h.8M472.7 242.7h.8M436.8 228.6h.8M453.4 234.7h.8M494.7 257.7h.8M407.1 215.6h.8M379.3 190.5h.8M413.5 218.7h.8M436.6 227.8h.8M372.2 193.5h.8M357.8 188.6h.8M461.0 224.6h.8M500.4 258.9h.8M491.8 255.8h.8M408.5 207.0h.8M420.2 221.3h.8M476.4 244.4h.8M499.8 253.7h.8M405.5 219.9h.8M494.8 255.4h.8M456.9 238.0h.8M374.1 194.8h.8M419.6 219.4h.8M352.5 197.5h.8M413.2 211.5h.8M430.5 234.5h.8M471.8 243.7h.8M401.6 212.9h.8M449.5 234.4h.8M451.5 232.7h.8M430.7 218.8h.8M444.0 233.1h.8M421.0 221.4h.8M443.6 225.6h.8M421.2 216.4h.8M488.8 246.4h.8M369.0 193.4h.8M481.6 247.5h.8M463.8 240.4h.8M353.7 190.0h.8M459.9 232.3h.8M406.5 205.2h.8M428.1 212.9h.8M429.7 227.3h.8M462.3 238.6h.8M425.0 220.5h.8M447.4 231.5h.8M384.9 207.3h.8M362.7 182.1h.8M452.3 226.1h.8M500.3 255.7h.8M363.7 194.5h.8M488.7 249.6h.8M409.7 219.0h.8M450.0 233.5h.8M392.0 201.9h.8M455.7 227.0h.8M417.4 213.0h.8M471.3 235.8h.8M393.6 210.9h.8M402.0 224.6h.8M445.9 223.8h.8M367.9 193.5h.8M498.3 254.4h.8M443.2 221.2h.8M497.9 258.2h.8M378.8 203.7h.8M458.4 239.1h.8M382.3 193.6h.8M364.5 188.5h.8M418.5 225.6h.8M422.7 211.9h.8M435.8 225.3h.8M422.0 217.2h.8M381.4 204.0h.8M454.4 225.3h.8M392.0 203.4h.8M395.6 201.0h.8M469.2 245.2h.8M454.3 230.7h.8M461.1 238.5h.8M490.3 251.4h.8M479.9 249.3h.8M385.0 205.4h.8M498.5 259.4h.8M430.1 225.8h.8M435.8 225.5h.8M393.8 203.5h.8M410.2 220.8h.8M435.6 230.1h.8M357.1 192.2h.8M460.1 244.0h.8M404.4 212.4h.8M455.8 235.8h.8M461.9 238.2h.8M444.8 227.7h.8M363.3 187.9h.8M436.5 222.1h.8M405.2 210.1h.8M459.2 252.7h.8M458.7 239.5h.8M427.4 225.9h.8M461.8 234.3h.8M373.6 194.4h.8M474.5 233.1h.8M497.4 254.6h.8M487.1 253.4h.8M473.8 241.5h.8M412.8 217.0h.8M491.9 255.2h.8M436.4 219.4h.8M384.3 193.0h.8M433.4 222.6h.8M479.7 248.5h.8M453.8 232.5h.8M477.0 244.5h.8M357.3 195.9h.8M497.5 249.8h.8M490.4 248.8h.8M427.5 215.8h.8M490.5 253.0h.8M379.3 199.6h.8M406.8 212.7h.8M377.4 206.6h.8M452.5 221.5h.8M489.7 259.6h.8M491.8 256.2h.8M364.0 194.2h.8M467.3 247.0h.8M435.9 223.5h.8M385.2 205.5h.8M486.3 248.1h.8M431.4 222.3h.8M358.4 189.6h.8M408.4 212.4h.8M454.4 234.6h.8M479.7 243.5h.8M381.9 197.0h.8M440.8 228.8h.8M365.0 195.0h.8M488.8 251.4h.8M353.5 186.3h.8M497.7 255.3h.8M436.8 227.6h.8M464.8 245.6h.8M452.4 224.1h.8M427.9 227.4h.8M417.8 209.4h.8M383.2 197.6h.8M395.0 202.0h.8M366.2 192.3h.8M392.3 203.1h.8M450.2 230.5h.8M434.8 222.1h.8M437.2 222.1h.8M431.4 216.2h.8M493.9 256.4h.8M479.6 243.1h.8M391.6 197.6h.8M435.6 218.7h.8M497.4 258.2h.8M392.2 203.9h.8M457.2 233.8h.8M449.2 230.2h.8M452.5 243.3h.8M435.5 221.1h.8M463.2 245.2h.8M408.4 202.6h.8M492.6 248.2h.8M437.1 226.3h.8M402.8 207.2h.8M447.9 230.1h.8M454.9 236.4h.8M489.9 250.4h.8M447.4 228.9h.8M430.4 226.5h.8M405.0 207.8h.8M415.9 210.9h.8M395.0 201.6h.8M445.1 224.0h.8M481.2 239.9h.8M441.0 224.3h.8M382.5 194.7h.8M357.5 189.1h.8M483.8 220.9h.8M396.3 200.5h.8M455.4 225.1h.8M493.9 253.4h.8M493.0 258.1h.8M435.3 214.9h.8M489.0 244.1h.8M412.5 206.0h.8M493.1 247.2h.8M453.9 232.3h.8M364.1 195.3h.8M473.9 247.0h.8M376.1 191.1h.8M501.6 250.6h.8M359.5 205.8h.8M465.6 244.0h.8M374.9 199.7h.8M433.1 226.8h.8M407.9 213.8h.8M483.3 260.3h.8M393.1 204.6h.8M460.1 249.0h.8M493.1 253.9h.8M361.7 181.7h.8M459.2 234.5h.8M364.6 197.2h.8M468.9 238.2h.8M480.6 249.4h.8M372.9 198.4h.8M484.7 246.3h.8M417.8 217.1h.8M398.3 207.5h.8M496.9 260.5h.8M409.7 209.8h.8M383.5 206.3h.8M401.5 205.5h.8M487.8 251.2h.8M499.7 259.9h.8M420.3 218.5h.8M426.1 225.7h.8M441.8 230.3h.8M478.0 245.1h.8M353.4 183.8h.8M471.4 237.7h.8M497.9 251.3h.8M412.9 216.0h.8M417.7 224.0h.8M495.7 253.6h.8M413.1 216.2h.8M408.6 213.3h.8M480.9 248.3h.8M423.0 221.7h.8M449.1 227.4h.8M395.0 212.7h.8M454.1 233.4h.8M407.2 206.1h.8M469.6 244.2h.8M425.9 225.2h.8M490.0 250.9h.8M434.2 226.0h.8M480.7 244.4h.8M418.1 210.7h.8M452.4 233.3h.8M392.1 202.5h.8M440.0 229.8h.8M451.5 234.6h.8M380.7 198.5h.8M433.6 227.3h.8M490.3 244.4h.8M382.3 202.6h.8M425.3 221.1h.8M477.7 249.2h.8M416.0 207.0h.8M356.5 193.6h.8M430.9 225.2h.8M421.4 226.9h.8M491.2 250.5h.8M451.6 224.2h.8M468.5 248.9h.8M407.3 203.9h.8M486.5 248.9h.8M476.3 239.5h.8M365.7 197.8h.8M451.2 222.6h.8M487.7 254.0h.8M449.6 231.8h.8M497.7 237.0h.8M391.2 210.8h.8M440.2 238.2h.8M432.1 223.8h.8M396.3 210.7h.8M469.2 245.0h.8M416.7 220.8h.8M449.5 238.3h.8M469.4 233.9h.8M461.1 231.0h.8M367.1 200.2h.8M360.3 191.1h.8M475.1 245.3h.8M449.6 226.2h.8M374.3 201.0h.8M371.6 188.1h.8M426.7 221.0h.8M378.7 202.8h.8M491.6 251.1h.8M385.6 205.0h.8M493.6 240.9h.8M459.4 235.3h.8M435.4 227.3h.8M452.7 232.5h.8M455.9 227.3h.8M394.8 211.0h.8M425.3 228.4h.8M362.0 185.2h.8M359.2 187.2h.8M493.6 253.7h.8M479.6 245.6h.8M465.1 233.3h.8M367.6 207.0h.8M445.6 223.6h.8M459.3 236.8h.8M416.6 213.2h.8M408.7 213.1h.8M461.0 221.9h.8M353.6 190.5h.8M422.6 213.9h.8M390.5 216.9h.8M418.6 217.1h.8M434.9 221.0h.8M415.1 223.1h.8M483.6 256.8h.8M484.3 246.9h.8M466.0 234.2h.8M471.2 235.7h.8M427.1 224.5h.8M392.7 203.8h.8M474.4 249.6h.8M369.5 186.5h.8M441.2 230.4h.8M447.1 224.2h.8M368.4 195.7h.8M382.7 202.5h.8M452.9 225.2h.8M480.7 249.9h.8M410.7 207.5h.8M431.7 225.1h.8M458.3 239.7h.8M439.3 230.8h.8M421.5 213.2h.8M447.8 231.1h.8M458.5 237.3h.8M472.2 249.1h.8M436.2 219.8h.8M451.2 227.2h.8M381.3 198.8h.8M376.3 194.3h.8M473.5 245.6h.8M385.6 204.8h.8M417.6 216.1h.8M484.8 247.1h.8M374.1 199.7h.8M453.9 232.3h.8M389.3 207.5h.8M445.9 233.0h.8M474.5 248.9h.8M475.1 242.5h.8M468.7 243.7h.8M429.7 224.9h.8M433.6 217.5h.8M377.8 198.9h.8M369.6 195.1h.8M464.2 245.6h.8M359.9 193.0h.8M492.0 246.2h.8M379.9 197.0h.8M460.1 236.1h.8M419.2 218.5h.8M444.0 228.6h.8M465.5 236.9h.8M396.5 208.8h.8M475.8 255.5h.8M465.3 229.3h.8M439.1 221.3h.8M438.2 227.1h.8M409.7 206.5h.8M497.4 259.7h.8M410.2 207.3h.8M388.2 202.5h.8M435.8 220.9h.8M490.2 251.8h.8M490.9 255.9h.8M438.8 223.8h.8M410.9 208.8h.8M464.1 235.7h.8M435.9 223.1h.8M475.5 246.2h.8M477.0 235.8h.8M457.4 234.1h.8M498.0 254.8h.8M449.4 233.0h.8M498.3 259.6h.8M449.8 235.2h.8M384.8 209.2h.8M446.2 229.0h.8M467.2 240.0h.8M415.5 214.9h.8M377.2 204.5h.8M404.8 213.1h.8M469.3 243.6h.8M383.2 196.4h.8M353.8 194.9h.8M483.9 254.6h.8M497.8 247.4h.8M482.4 244.8h.8M472.2 249.4h.8M461.5 230.5h.8M434.8 217.6h.8M449.8 226.2h.8M464.0 248.1h.8M401.3 208.9h.8M382.8 205.2h.8M456.1 235.8h.8M442.6 235.9h.8M500.6 246.5h.8M414.2 218.7h.8M414.2 214.0h.8M370.4 184.6h.8M354.3 182.2h.8M372.9 194.5h.8M440.9 229.4h.8M496.6 252.0h.8M369.0 195.8h.8M376.1 208.9h.8M454.3 228.9h.8M397.4 210.7h.8M358.9 192.6h.8M485.2 249.8h.8M374.4 203.8h.8M417.5 222.7h.8M465.2 247.4h.8M469.1 238.2h.8M495.4 246.8h.8M440.9 227.2h.8M374.3 202.6h.8M364.1 186.2h.8M448.5 232.6h.8M432.4 231.3h.8M389.4 213.1h.8M376.8 197.4h.8M404.6 204.0h.8M395.2 208.5h.8M405.2 214.3h.8M404.8 212.4h.8M464.9 242.7h.8M421.3 221.2h.8M479.2 243.9h.8M427.4 224.9h.8M395.6 202.4h.8M490.7 255.1h.8M449.8 228.2h.8M478.5 243.1h.8M387.0 204.8h.8M498.0 255.2h.8M447.3 232.1h.8M408.3 204.6h.8M389.7 208.1h.8M366.9 188.0h.8M357.0 184.3h.8M381.5 202.0h.8M398.5 200.4h.8M431.6 208.4h.8M411.7 213.1h.8M358.9 189.4h.8M373.7 196.8h.8M354.8 184.2h.8M358.1 191.7h.8M396.7 208.3h.8M447.8 225.2h.8M375.0 198.0h.8M484.6 252.6h.8M500.1 251.9h.8M444.3 229.5h.8M359.3 193.0h.8M379.3 196.8h.8M428.7 225.7h.8M492.3 255.8h.8M499.3 255.6h.8M462.6 238.4h.8M485.6 247.8h.8M366.6 195.2h.8M428.1 213.5h.8M423.8 216.5h.8M384.5 201.1h.8M436.7 224.5h.8M436.5 237.6h.8M497.8 249.2h.8M362.1 196.5h.8M396.9 205.1h.8M377.7 204.4h.8M385.5 197.5h.8M399.8 211.4h.8M407.4 213.3h.8M495.7 245.3h.8M401.3 204.7h.8M424.6 226.8h.8M376.9 201.7h.8M385.1 201.2h.8M384.6 203.0h.8M437.4 222.1h.8M397.2 210.9h.8M393.7 215.1h.8M430.6 227.3h.8M354.5 189.0h.8M481.6 243.6h.8M359.8 186.9h.8M413.8 209.2h.8M500.3 253.6h.8M377.2 199.5h.8M358.8 186.5h.8M424.9 220.8h.8M446.6 232.5h.8M409.4 208.4h.8M385.1 197.6h.8M455.7 227.2h.8M440.5 221.1h.8M404.1 218.5h.8M444.4 223.9h.8M478.1 250.0h.8M429.3 223.9h.8M410.2 210.7h.8M444.4 235.6h.8M427.8 227.5h.8M366.9 197.3h.8M487.5 240.8h.8M370.7 190.3h.8M463.4 242.2h.8M417.0 216.0h.8M469.6 240.1h.8M430.5 221.3h.8M475.1 246.7h.8M422.5 212.3h.8M389.1 205.7h.8M467.6 235.9h.8M476.2 251.8h.8M427.4 219.5h.8M491.4 250.0h.8M458.2 229.0h.8M491.9 263.4h.8M381.4 197.7h.8M493.6 247.8h.8M467.2 240.9h.8M493.5 245.3h.8M404.5 200.8h.8M435.4 220.9h.8M486.2 244.4h.8M452.9 226.6h.8M395.4 204.7h.8M395.4 200.9h.8M494.0 249.0h.8M452.8 236.3h.8M360.0 195.6h.8M390.9 199.0h.8M435.6 222.3h.8M380.5 203.2h.8M421.9 218.8h.8M452.2 225.7h.8M364.7 201.0h.8M390.1 208.7h.8M484.2 244.0h.8M358.2 185.8h.8M368.8 200.2h.8M475.0 248.0h.8M453.5 232.6h.8M422.8 212.5h.8M480.9 245.8h.8M383.3 212.4h.8M352.9 182.4h.8M473.9 242.8h.8M447.7 232.9h.8M402.6 215.6h.8M439.0 220.9h.8M364.3 191.2h.8M399.0 206.5h.8M437.3 224.3h.8M478.7 242.8h.8M399.5 214.6h.8M361.2 182.9h.8M365.3 198.1h.8M398.0 208.3h.8M446.0 232.1h.8M457.8 227.2h.8M456.3 236.0h.8M483.3 254.7h.8M454.3 233.8h.8M452.6 236.5h.8M441.2 231.3h.8M452.0 234.8h.8M461.6 243.4h.8M498.5 263.2h.8M379.0 189.9h.8M448.5 231.7h.8M370.7 200.0h.8M383.0 198.1h.8M491.1 244.1h.8M412.8 223.1h.8M437.1 228.0h.8M383.8 200.1h.8M428.6 226.0h.8M355.7 186.4h.8M439.2 232.8h.8M495.2 255.6h.8M455.1 234.7h.8M451.9 230.5h.8M435.3 224.8h.8M400.1 212.2h.8M468.1 241.8h.8M410.3 223.8h.8M402.5 199.8h.8M434.2 226.5h.8M498.3 255.3h.8M462.2 236.0h.8M453.2 230.5h.8M371.3 194.1h.8M473.3 245.7h.8M415.5 224.0h.8M446.3 230.9h.8M436.2 229.3h.8M469.9 243.5h.8M356.9 189.2h.8M366.7 192.5h.8M394.2 200.0h.8M382.4 201.6h.8M454.3 242.0h.8M369.6 192.1h.8M365.9 188.8h.8M431.5 231.2h.8M362.0 188.6h.8M471.2 240.5h.8M401.5 212.2h.8M397.4 206.9h.8M441.6 226.1h.8M498.5 264.6h.8M394.5 200.8h.8M385.9 202.5h.8M407.3 212.3h.8M468.9 228.8h.8M492.1 256.2h.8M375.2 198.9h.8M356.5 190.7h.8M397.9 204.2h.8M400.2 203.6h.8M464.2 244.6h.8M454.1 227.7h.8M464.1 244.0h.8M411.0 201.3h.8M416.3 219.6h.8M493.3 246.3h.8M359.3 191.6h.8M355.2 185.0h.8M354.6 191.7h.8M474.6 242.4h.8M429.7 222.4h.8M456.3 244.4h.8M450.1 228.0h.8M474.0 244.9h.8M431.5 224.9h.8M401.3 215.8h.8M368.9 195.3h.8M413.7 217.5h.8M381.3 196.1h.8M491.0 247.3h.8M466.5 242.8h.8M394.7 204.3h.8M428.8 215.7h.8M422.5 220.2h.8M442.7 234.1h.8M494.1 240.1h.8M393.4 203.2h.8M444.2 225.7h.8M427.7 209.5h.8M495.2 256.3h.8M384.8 200.4h.8M449.2 240.5h.8M365.7 190.8h.8M433.6 222.3h.8M496.0 256.6h.8M460.0 240.4h.8M356.8 190.0h.8M499.6 255.6h.8M433.0 216.4h.8M439.0 227.9h.8M493.9 261.1h.8M439.8 227.9h.8M385.2 209.8h.8M416.4 218.8h.8M464.4 244.9h.8M411.5 213.5h.8M377.3 209.1h.8M410.4 219.1h.8M367.5 192.8h.8M367.0 203.9h.8M370.3 202.8h.8M428.5 217.1h.8M400.3 215.4h.8M379.0 199.3h.8M462.9 236.2h.8M443.8 234.0h.8M475.0 251.4h.8M376.2 190.6h.8M445.1 232.2h.8M391.5 202.5h.8M426.3 224.6h.8M419.0 215.8h.8M439.5 233.3h.8M437.6 232.7h.8M489.8 255.0h.8M445.7 232.8h.8M404.8 214.1h.8M471.2 243.1h.8M376.3 195.9h.8M468.3 242.7h.8M438.6 222.0h.8M391.1 208.0h.8M464.9 235.4h.8M369.2 188.5h.8M357.4 181.0h.8M392.8 215.2h.8M427.8 213.3h.8M446.7 238.8h.8M399.2 201.7h.8M438.9 226.7h.8M499.1 252.5h.8M501.8 260.0h.8M460.2 231.9h.8M397.4 204.4h.8M423.6 222.3h.8M473.2 245.4h.8M485.1 243.7h.8M494.8 247.3h.8M410.2 209.8h.8M402.8 212.0h.8M402.4 210.0h.8M469.8 236.3h.8M495.6 248.6h.8M436.5 220.2h.8M418.5 216.7h.8M452.0 236.1h.8M415.3 214.5h.8M437.6 223.9h.8M380.3 202.4h.8M366.9 191.6h.8M412.9 218.8h.8M392.3 204.1h.8M374.9 200.3h.8M496.8 243.0h.8M456.5 229.0h.8M410.3 212.3h.8M500.8 261.3h.8M368.1 200.2h.8M404.4 207.5h.8M484.6 248.3h.8M497.3 251.9h.8M471.0 248.9h.8M380.0 207.0h.8M437.0 225.3h.8M362.7 192.8h.8M361.6 197.7h.8M481.5 250.0h.8M352.4 183.3h.8M366.6 195.7h.8M367.9 191.4h.8M458.8 227.8h.8M446.3 228.4h.8M384.4 201.1h.8M413.6 218.0h.8M494.8 246.4h.8M383.6 208.4h.8M362.2 196.9h.8M449.1 231.4h.8M368.2 201.5h.8M435.5 220.4h.8M390.3 207.5h.8M356.9 186.6h.8M450.8 233.6h.8M464.8 239.7h.8M399.2 208.4h.8M375.8 207.3h.8M498.5 259.2h.8M388.8 206.0h.8M389.0 193.2h.8M406.9 196.2h.8M388.0 199.9h.8M388.9 194.8h.8M490.7 246.1h.8M364.4 186.6h.8M477.2 240.6h.8M432.3 211.0h.8M357.3 195.9h.8M374.7 202.5h.8M450.4 233.2h.8M436.1 230.1h.8M388.4 203.3h.8M395.7 204.4h.8M491.1 250.6h.8M462.6 237.0h.8M451.3 230.4h.8M490.7 246.6h.8M386.8 206.0h.8M401.5 212.8h.8M477.8 238.7h.8M418.1 218.8h.8M419.0 221.6h.8M473.4 241.1h.8M502.0 257.2h.8M485.2 247.3h.8M467.7 240.2h.8M419.0 214.6h.8M458.0 231.0h.8M385.9 206.4h.8M390.1 210.2h.8M382.7 193.3h.8M454.3 237.0h.8M494.2 259.5h.8M465.4 247.9h.8M392.0 205.4h.8M451.1 235.4h.8M404.6 219.8h.8M475.7 248.1h.8M424.9 225.4h.8M389.5 199.3h.8M395.6 205.8h.8M364.9 192.9h.8M406.2 217.9h.8M403.0 211.1h.8M420.8 215.2h.8M450.7 231.3h.8M491.3 245.6h.8M474.7 242.7h.8M438.1 223.0h.8M406.3 209.6h.8M377.6 201.4h.8M440.7 221.1h.8M361.6 189.6h.8M360.1 186.7h.8M448.4 236.2h.8M376.7 203.5h.8M479.3 246.1h.8M452.5 236.8h.8M430.7 221.7h.8M492.5 249.3h.8M371.8 190.1h.8M398.5 205.4h.8M428.2 227.3h.8M496.9 254.1h.8M363.9 193.7h.8M442.3 231.8h.8M490.0 249.8h.8M373.8 197.0h.8M457.7 230.3h.8M455.7 220.8h.8M406.1 209.7h.8M432.4 216.7h.8M492.3 252.2h.8M422.2 206.8h.8M420.5 218.2h.8M436.7 227.7h.8M356.8 182.7h.8M473.5 240.4h.8M359.7 188.4h.8M498.9 258.0h.8M497.6 245.4h.8M474.8 244.0h.8M486.4 251.6h.8M444.4 229.3h.8M397.9 204.7h.8M442.6 224.8h.8M453.9 249.9h.8M373.3 201.8h.8M468.3 242.2h.8M397.6 200.3h.8M428.9 211.2h.8M392.0 208.3h.8M394.4 206.8h.8M483.5 254.6h.8M467.6 243.8h.8M361.4 195.5h.8M467.7 240.4h.8M490.8 256.2h.8M457.6 230.8h.8M455.9 234.8h.8M391.7 206.3h.8M456.9 230.5h.8M408.9 214.3h.8M490.5 256.3h.8M457.7 235.2h.8M400.5 198.7h.8M484.6 247.1h.8M468.2 237.6h.8M382.2 201.7h.8M384.3 202.8h.8M354.0 185.4h.8M467.5 252.5h.8M364.9 198.8h.8M393.4 208.7h.8M462.5 238.8h.8M397.9 201.0h.8M394.9 207.8h.8M362.0 188.5h.8M359.6 188.5h.8M437.8 222.9h.8M372.8 189.2h.8M496.6 257.8h.8M355.9 191.1h.8M399.4 207.9h.8M379.6 198.2h.8M486.9 266.4h.8M464.7 236.4h.8M368.8 202.3h.8M360.4 187.1h.8M364.5 188.6h.8M463.0 248.6h.8M464.1 235.8h.8M447.0 229.5h.8M425.4 223.5h.8M421.5 214.2h.8M441.4 218.2h.8M368.3 192.0h.8M471.2 246.1h.8M468.7 247.3h.8M454.2 239.3h.8M387.4 208.0h.8M384.3 196.3h.8M499.1 262.2h.8M494.3 252.2h.8M464.3 234.1h.8M469.8 240.8h.8M420.8 218.3h.8M483.6 251.2h.8M455.6 237.4h.8M417.7 216.9h.8M454.3 239.4h.8M364.0 184.5h.8M411.2 213.5h.8M478.6 247.5h.8M424.0 215.2h.8M435.5 230.2h.8M436.2 220.4h.8M493.5 251.3h.8M382.2 191.7h.8M454.3 236.4h.8M419.4 219.7h.8M387.4 207.2h.8M359.3 196.3h.8M443.6 227.7h.8M379.6 204.7h.8M439.4 225.4h.8M416.5 219.6h.8M412.9 209.8h.8M485.2 265.2h.8M365.5 191.2h.8M436.2 225.3h.8M414.2 215.4h.8M374.8 200.4h.8M411.3 205.7h.8M482.1 248.4h.8M381.8 198.6h.8M454.0 234.9h.8M392.3 207.2h.8M429.9 222.2h.8M434.7 221.6h.8M362.8 197.3h.8M473.3 244.7h.8M408.8 219.7h.8M383.5 199.5h.8M383.2 205.4h.8M499.8 258.2h.8M493.5 268.5h.8M422.4 219.3h.8M392.7 203.6h.8M458.3 236.3h.8M360.0 188.7h.8M480.9 245.5h.8M352.9 192.8h.8M359.5 189.4h.8M402.2 211.6h.8M420.5 219.5h.8M352.8 186.0h.8M394.9 209.3h.8M499.6 259.6h.8M468.1 234.4h.8M360.8 182.2h.8M483.6 248.8h.8M421.9 213.5h.8M500.4 255.0h.8M400.2 212.1h.8M398.5 212.3h.8M453.9 235.0h.8M425.3 222.6h.8M393.5 207.6h.8M430.7 223.6h.8M447.6 236.2h.8M398.9 204.3h.8M475.7 249.0h.8M464.4 243.5h.8M465.0 234.3h.8M451.1 228.7h.8M386.6 195.8h.8M457.9 234.8h.8M378.3 202.1h.8M373.3 191.3h.8M427.6 216.6h.8M377.9 199.4h.8M371.2 199.8h.8M440.9 225.7h.8M498.4 265.3h.8M360.4 188.3h.8M418.7 227.1h.8M365.6 189.0h.8M432.9 231.5h.8M438.2 223.2h.8M425.6 208.8h.8M357.9 191.0h.8M457.2 240.7h.8M428.2 212.5h.8M438.0 228.5h.8M452.3 228.3h.8M488.0 243.1h.8M417.2 230.5h.8M489.0 256.8h.8M378.4 205.4h.8M420.1 221.5h.8M378.6 208.9h.8M407.9 208.6h.8M487.6 244.1h.8M498.3 254.2h.8M422.9 221.4h.8M393.5 213.5h.8M400.5 217.8h.8M487.3 252.3h.8M417.8 214.1h.8M381.8 195.7h.8M477.3 244.1h.8M428.5 232.2h.8M416.1 225.4h.8M487.5 242.4h.8M464.0 236.9h.8M354.2 181.2h.8M497.0 264.1h.8M420.2 216.9h.8M379.0 200.2h.8M488.6 257.3h.8M415.0 218.9h.8M454.7 229.3h.8M464.7 235.9h.8M381.2 202.9h.8M499.6 252.9h.8M436.5 219.9h.8M360.6 181.6h.8M432.6 222.4h.8M354.8 183.2h.8M498.9 257.5h.8M452.0 226.4h.8M409.0 213.5h.8M471.9 236.5h.8M471.2 237.0h.8M457.1 233.8h.8M387.3 204.5h.8M366.0 196.6h.8M480.5 244.9h.8M485.3 246.9h.8M403.9 203.9h.8M410.0 213.9h.8M412.5 213.0h.8M393.6 197.9h.8M492.8 249.8h.8M431.8 221.3h.8M458.5 227.9h.8M442.8 228.1h.8M365.5 191.2h.8M362.9 188.3h.8M374.2 197.7h.8M426.6 226.4h.8M446.2 237.1h.8M501.4 256.3h.8M487.2 243.4h.8M462.9 232.9h.8M409.6 205.5h.8M403.7 206.3h.8M456.6 237.9h.8M403.9 217.7h.8M466.9 242.0h.8M461.3 227.6h.8M370.0 198.8h.8M472.6 237.7h.8M366.1 197.2h.8M399.7 206.0h.8M498.3 250.1h.8M449.7 240.1h.8M480.5 247.8h.8M491.1 244.5h.8M391.7 201.1h.8M471.4 241.0h.8M407.9 217.9h.8M361.8 194.8h.8M368.1 193.9h.8M371.0 189.6h.8M446.8 227.9h.8M448.3 230.4h.8M479.2 244.0h.8M396.3 203.5h.8M466.4 247.8h.8M392.1 210.1h.8M399.1 208.4h.8M450.4 226.2h.8M410.9 208.7h.8M501.8 264.9h.8M399.5 208.6h.8M387.7 206.9h.8M483.9 249.2h.8M483.0 246.2h.8M376.5 199.9h.8M402.7 212.9h.8M428.6 227.6h.8M362.0 199.2h.8M407.7 213.4h.8M467.6 238.9h.8M467.3 236.8h.8M374.4 201.2h.8M397.6 211.3h.8M392.3 199.4h.8M454.7 232.0h.8M371.8 191.8h.8M499.9 257.4h.8M369.5 198.4h.8M431.4 228.8h.8M457.6 230.5h.8M494.3 257.5h.8M444.2 237.5h.8M480.4 249.3h.8M431.7 217.4h.8M385.2 202.0h.8M415.2 214.8h.8M443.1 228.1h.8M431.7 223.7h.8M469.4 234.3h.8M433.0 230.8h.8M409.6 210.3h.8M429.3 223.1h.8M430.0 228.1h.8M353.5 195.2h.8M401.3 206.9h.8M438.0 232.0h.8M458.9 242.1h.8M416.2 215.1h.8M464.0 233.3h.8M427.6 215.0h.8M407.5 206.0h.8M388.4 205.0h.8M471.7 238.0h.8M490.4 253.2h.8M461.5 239.7h.8M385.1 201.0h.8M457.9 236.0h.8M427.8 217.6h.8M490.8 259.3h.8M353.0 182.0h.8M468.0 250.5h.8M422.0 211.9h.8M480.4 240.2h.8M442.9 234.1h.8M353.2 187.8h.8M455.8 231.2h.8M432.0 227.4h.8M387.9 208.6h.8M370.3 196.8h.8M411.8 210.8h.8M436.2 221.1h.8M423.8 208.7h.8M354.6 184.2h.8M374.2 190.1h.8M454.2 229.3h.8M433.9 228.0h.8M463.5 242.0h.8M414.2 214.1h.8M390.6 200.7h.8M471.8 239.7h.8M384.8 203.8h.8M361.1 195.6h.8M407.3 206.2h.8M419.7 218.7h.8M383.4 192.4h.8M495.4 258.0h.8M386.8 190.2h.8M370.3 198.4h.8M451.3 223.5h.8M373.5 190.9h.8M394.0 208.6h.8M414.1 224.6h.8M393.1 200.2h.8M450.1 231.2h.8M373.1 202.0h.8M448.7 238.4h.8M369.4 193.0h.8M439.1 227.8h.8M498.9 253.4h.8M470.1 239.1h.8M494.0 253.7h.8M434.0 225.7h.8M375.8 194.7h.8M407.6 212.9h.8M468.5 241.6h.8M371.8 193.0h.8M451.7 242.0h.8M400.4 203.1h.8M489.7 247.8h.8M404.6 214.7h.8M400.4 209.9h.8M392.9 199.8h.8M433.0 221.3h.8M494.9 260.8h.8M433.1 228.9h.8M463.3 236.9h.8M430.1 214.1h.8M364.5 189.0h.8M440.0 228.1h.8M441.2 224.9h.8M441.5 227.8h.8M396.8 208.9h.8M392.1 203.4h.8M401.4 219.7h.8M356.7 184.2h.8M376.2 195.4h.8M395.1 208.7h.8M428.9 226.2h.8M488.8 255.2h.8M457.2 233.7h.8M429.5 221.6h.8M459.6 235.3h.8M418.7 209.2h.8M359.1 200.7h.8M455.0 237.5h.8M457.9 239.0h.8M450.3 227.4h.8M479.9 246.6h.8M469.3 245.1h.8M476.4 242.8h.8M359.0 193.4h.8M502.0 247.8h.8M440.3 226.1h.8M441.0 229.7h.8M444.0 231.4h.8M392.6 209.3h.8M397.5 205.4h.8M483.6 245.3h.8M442.1 229.2h.8M496.1 253.5h.8M383.3 194.6h.8M439.9 226.6h.8M442.1 225.7h.8M357.6 194.6h.8M446.0 232.8h.8M409.7 223.5h.8M416.5 222.9h.8M379.9 197.9h.8M441.2 221.8h.8M453.1 234.4h.8M485.9 253.8h.8M478.3 244.2h.8M499.1 248.7h.8M498.4 254.6h.8M457.1 230.6h.8M394.2 206.5h.8M433.1 229.9h.8M364.6 177.4h.8M437.0 227.0h.8M397.9 197.0h.8M432.5 220.9h.8M464.6 239.5h.8M361.1 204.6h.8M483.5 246.0h.8M357.7 191.6h.8M425.5 221.0h.8M384.8 203.1h.8M357.9 186.0h.8M424.0 212.4h.8M391.3 198.5h.8M364.1 193.9h.8M475.7 240.8h.8M388.9 207.2h.8M492.8 256.5h.8M443.3 228.3h.8M405.3 208.4h.8M361.1 191.4h.8M480.4 241.7h.8M368.4 190.4h.8M468.5 245.2h.8M431.3 223.9h.8M420.4 224.7h.8M364.1 183.8h.8M415.1 218.0h.8M354.5 184.5h.8M466.5 236.9h.8M458.1 237.1h.8M372.4 187.5h.8M428.5 218.7h.8M378.8 199.2h.8M458.9 237.8h.8M380.4 204.5h.8M378.0 204.8h.8M394.7 203.7h.8M497.8 255.7h.8M474.8 245.2h.8M412.5 212.2h.8M471.2 243.1h.8M406.3 208.6h.8M380.2 202.1h.8M486.6 250.9h.8M357.5 185.0h.8M471.0 244.6h.8M496.0 249.8h.8M364.7 190.3h.8M480.9 245.8h.8M469.1 248.3h.8M358.4 196.1h.8M418.7 222.6h.8M391.1 210.9h.8M409.7 209.2h.8M409.3 217.3h.8M411.2 219.9h.8M353.5 190.0h.8M392.7 206.0h.8M395.6 214.8h.8M449.5 228.6h.8M456.4 231.2h.8M464.6 241.2h.8M447.6 226.8h.8M486.2 255.7h.8M435.5 227.7h.8M399.1 209.2h.8M358.1 189.3h.8M461.1 231.3h.8M436.4 227.1h.8M376.6 202.9h.8M428.8 221.0h.8M493.7 251.0h.8M442.9 226.3h.8M398.4 209.7h.8M473.1 241.5h.8M411.3 216.7h.8M354.3 185.3h.8M364.0 195.5h.8M496.3 255.8h.8M366.1 187.8h.8M469.6 244.3h.8M356.7 185.8h.8M415.6 213.3h.8M394.4 207.8h.8M403.7 206.2h.8M365.7 195.9h.8M412.3 209.7h.8M465.9 246.4h.8M430.8 229.3h.8M371.9 195.7h.8M472.9 235.4h.8M482.7 239.1h.8M420.5 222.3h.8M405.9 211.7h.8M354.7 190.5h.8M362.6 201.9h.8M408.3 209.2h.8M369.0 196.5h.8M497.5 247.0h.8M448.7 229.8h.8M399.0 210.9h.8M439.8 230.3h.8M377.3 199.4h.8M489.6 247.7h.8M427.2 223.6h.8M457.0 221.6h.8M379.4 198.4h.8M423.1 224.8h.8M459.1 235.5h.8M410.2 208.1h.8M361.8 189.4h.8M422.4 220.7h.8M475.7 246.6h.8M421.4 222.4h.8M499.0 259.8h.8M436.0 227.8h.8M484.5 246.3h.8M356.9 191.8h.8M446.8 222.5h.8M428.6 220.2h.8M405.7 213.6h.8M487.4 249.0h.8M365.8 186.3h.8M425.0 228.3h.8M398.0 206.8h.8M496.1 240.1h.8M469.3 235.8h.8M382.2 217.0h.8M371.2 195.1h.8M355.6 189.7h.8M379.0 186.1h.8M491.4 253.9h.8M483.0 248.1h.8M472.0 243.4h.8M412.1 221.1h.8M424.3 235.6h.8M438.3 227.5h.8M473.6 240.1h.8M352.7 189.3h.8M379.2 197.0h.8M439.3 223.3h.8M373.3 193.3h.8M492.8 259.3h.8M358.7 182.8h.8M498.1 249.7h.8M384.2 197.8h.8M381.1 200.2h.8M415.7 216.1h.8M447.7 233.3h.8M499.0 252.1h.8M423.5 215.2h.8M486.8 251.3h.8M485.6 244.2h.8M499.7 256.7h.8M406.0 208.8h.8M423.2 220.2h.8M355.3 184.4h.8M409.6 204.1h.8M405.1 210.1h.8M370.7 197.8h.8M476.9 246.1h.8M393.9 203.1h.8M371.7 198.2h.8M369.4 190.2h.8M355.7 187.2h.8M465.3 234.4h.8M431.8 226.0h.8M430.6 227.4h.8M414.1 218.8h.8M496.6 251.2h.8M408.8 216.6h.8M423.3 216.2h.8M455.6 244.0h.8M491.4 253.8h.8M480.8 246.6h.8M484.3 262.0h.8M379.5 202.4h.8M493.7 258.8h.8M475.6 243.8h.8M401.5 210.7h.8M472.9 238.7h.8M495.0 256.3h.8M463.5 245.6h.8M462.9 240.2h.8M477.8 243.8h.8M483.9 246.8h.8M469.2 239.7h.8M363.7 186.5h.8M383.3 202.9h.8M370.2 196.2h.8M421.9 222.9h.8M361.9 194.2h.8M434.6 219.7h.8M490.7 248.6h.8M499.3 266.7h.8M357.7 183.8h.8M454.4 243.2h.8M373.5 198.7h.8M481.4 241.4h.8M356.7 188.4h.8M367.5 191.3h.8M400.6 205.0h.8M352.8 185.8h.8M451.4 238.3h.8M382.9 199.3h.8M460.0 239.6h.8M494.5 263.5h.8M422.6 220.6h.8M422.6 216.5h.8M501.5 254.7h.8M399.1 208.4h.8M484.9 239.4h.8M459.0 234.5h.8M353.4 183.2h.8M396.7 205.8h.8M460.2 228.5h.8M358.8 191.7h.8M480.7 240.1h.8M488.9 240.8h.8M466.0 240.8h.8M473.7 237.6h.8M441.7 234.3h.8M473.3 240.8h.8M422.2 215.5h.8M413.3 218.8h.8M457.5 243.6h.8M421.8 218.6h.8M398.6 209.7h.8M391.8 204.1h.8M417.6 208.4h.8M409.4 209.1h.8M465.2 231.2h.8M469.7 238.6h.8M471.8 248.9h.8M478.8 241.6h.8M406.4 209.8h.8M407.5 211.5h.8M477.8 236.8h.8M379.1 197.9h.8M457.3 236.7h.8M430.8 220.6h.8M452.0 240.1h.8M456.6 230.1h.8M452.4 232.4h.8M387.3 194.9h.8M355.6 185.2h.8M494.9 250.4h.8M486.7 247.5h.8M427.8 222.6h.8M451.2 232.5h.8M365.7 191.6h.8M420.8 213.6h.8M440.2 225.1h.8M457.0 231.5h.8M384.9 198.6h.8M365.9 195.6h.8M496.2 251.3h.8M479.3 246.0h.8M378.8 205.0h.8M475.4 250.4h.8M473.9 238.6h.8M379.3 192.4h.8M472.7 235.2h.8M409.4 217.0h.8M402.2 202.6h.8M376.1 190.4h.8M440.8 230.9h.8M444.0 226.5h.8M428.8 213.7h.8M367.0 193.2h.8M471.4 235.7h.8M399.6 213.7h.8M391.7 206.5h.8M448.2 226.6h.8M379.8 191.5h.8M488.6 248.6h.8M449.3 230.8h.8M470.4 245.7h.8M403.1 210.2h.8M416.3 216.8h.8M389.8 205.5h.8M389.7 206.1h.8M414.3 214.9h.8M470.1 245.2h.8M427.5 217.1h.8M477.0 245.5h.8M368.8 190.6h.8M395.4 210.7h.8M357.5 194.1h.8M489.0 253.8h.8M361.5 190.0h.8M433.4 230.2h.8M453.1 229.0h.8M382.7 202.3h.8M499.1 249.7h.8M499.2 255.8h.8M387.8 199.2h.8M373.0 201.2h.8M449.5 236.5h.8M429.2 219.3h.8M442.7 230.8h.8M444.8 224.1h.8M495.5 255.7h.8M467.3 237.1h.8M398.9 212.1h.8M464.2 246.3h.8M419.4 210.8h.8M498.4 254.7h.8M423.7 214.9h.8M353.7 197.0h.8M489.6 257.8h.8M393.6 203.9h.8M475.3 238.0h.8M443.8 222.6h.8M463.7 230.1h.8M462.9 235.6h.8M487.9 249.4h.8M477.0 243.6h.8M448.8 236.6h.8M401.0 205.7h.8M426.1 217.2h.8M393.9 204.3h.8M402.6 213.6h.8M421.1 215.3h.8M415.5 218.4h.8M395.5 200.7h.8M397.7 210.6h.8M398.8 210.7h.8M380.8 201.5h.8M439.5 231.7h.8M365.9 197.4h.8M389.3 205.2h.8M377.6 210.2h.8M458.1 225.8h.8M394.0 204.3h.8M367.0 192.3h.8M475.2 247.4h.8M417.7 215.9h.8M472.7 242.0h.8M400.2 208.4h.8M404.0 217.6h.8M435.9 225.7h.8M362.5 200.6h.8M498.6 254.8h.8M372.1 200.2h.8M489.0 252.4h.8M451.0 233.6h.8M466.7 235.3h.8M383.5 195.4h.8M485.9 247.9h.8M432.4 228.7h.8M414.1 208.1h.8M381.0 206.8h.8M377.8 201.2h.8M481.5 247.1h.8M497.5 244.8h.8M414.8 209.2h.8M460.6 234.6h.8M456.8 229.7h.8M426.1 222.2h.8M424.1 215.7h.8M435.0 225.5h.8M404.0 211.4h.8M463.9 236.6h.8M414.7 218.5h.8M427.7 218.8h.8M379.3 200.4h.8M498.4 261.0h.8M363.7 193.7h.8M459.6 248.9h.8M451.2 233.6h.8M403.7 214.4h.8M498.5 251.3h.8M357.5 202.3h.8M393.0 196.1h.8M402.7 211.7h.8M448.4 238.6h.8M440.6 225.4h.8M458.8 233.4h.8M481.1 243.9h.8M355.0 175.7h.8M436.1 229.3h.8M412.2 213.0h.8M455.4 233.5h.8M431.1 226.3h.8M404.3 209.4h.8M353.1 181.4h.8M398.7 212.3h.8M419.0 215.4h.8M402.6 205.2h.8M408.9 209.8h.8M449.7 239.2h.8M402.4 208.6h.8M479.7 247.1h.8M406.3 205.9h.8M417.2 217.3h.8M417.1 207.3h.8M487.5 254.8h.8M442.8 226.0h.8M496.7 257.3h.8M352.7 178.8h.8M495.4 245.0h.8M381.3 204.7h.8M486.7 244.9h.8M358.6 190.1h.8M480.5 253.4h.8M446.9 235.3h.8M454.9 248.1h.8M410.7 211.3h.8M410.3 215.3h.8M375.6 196.3h.8M373.1 195.1h.8M445.7 228.4h.8M403.4 216.0h.8M356.4 188.2h.8M377.5 191.9h.8M377.6 205.7h.8M381.0 192.8h.8M420.2 211.1h.8M488.6 248.6h.8M439.3 216.9h.8M463.1 241.5h.8M367.9 198.7h.8M455.9 237.4h.8M481.8 249.7h.8M501.3 246.3h.8M458.9 235.5h.8M443.1 228.8h.8M496.4 251.2h.8M371.4 188.2h.8M471.0 233.0h.8M460.0 238.1h.8M461.0 235.4h.8M405.3 205.2h.8M364.0 193.3h.8M373.3 189.9h.8M453.6 231.9h.8M398.9 209.2h.8M494.4 249.7h.8M370.3 185.8h.8M474.2 243.9h.8M423.6 213.1h.8M396.2 204.4h.8M390.3 203.6h.8M405.1 210.9h.8M407.2 208.2h.8M386.0 199.5h.8M384.9 200.1h.8M497.7 232.4h.8M415.3 219.9h.8M445.5 232.8h.8M457.4 239.9h.8M401.8 211.3h.8M492.3 252.0h.8M396.1 208.8h.8M380.8 197.5h.8M358.7 194.5h.8M391.5 206.1h.8M361.3 187.0h.8M446.2 221.9h.8M438.4 226.1h.8M355.4 182.7h.8M494.5 245.6h.8M461.3 241.7h.8M434.6 223.5h.8M493.8 256.7h.8M431.5 225.1h.8M378.5 197.0h.8M469.0 246.4h.8M495.3 249.9h.8M361.0 191.7h.8M427.6 222.6h.8M386.0 199.9h.8M487.6 252.8h.8M366.4 201.5h.8M473.1 242.1h.8M383.0 204.5h.8M448.2 231.8h.8M455.8 239.6h.8M466.1 243.5h.8M360.0 195.4h.8M424.5 226.1h.8M370.9 199.4h.8M371.0 199.3h.8M376.3 197.9h.8M374.2 182.1h.8M492.3 254.0h.8M436.1 243.6h.8M390.1 201.6h.8M424.9 226.1h.8M360.3 194.9h.8M384.5 203.4h.8M446.1 229.8h.8M456.2 234.3h.8M444.4 228.0h.8M499.7 255.1h.8M499.0 248.9h.8M477.1 240.2h.8M421.9 211.3h.8M465.6 239.9h.8M389.4 210.5h.8M481.8 243.2h.8M388.6 204.7h.8M500.7 245.9h.8M354.1 191.1h.8M471.5 234.4h.8M427.1 225.7h.8M474.5 250.9h.8M430.2 226.8h.8M477.1 222.8h.8M458.3 230.8h.8M447.9 235.0h.8M494.8 247.7h.8M369.7 197.5h.8M491.0 253.0h.8M430.3 224.2h.8M458.2 227.7h.8M452.3 232.0h.8M410.8 212.4h.8M431.1 230.3h.8M498.0 253.0h.8M425.3 219.2h.8M489.5 242.2h.8M353.3 191.7h.8M438.2 229.7h.8M455.4 238.6h.8M411.3 217.2h.8M364.2 189.4h.8M470.9 245.1h.8M465.0 232.7h.8M409.2 213.0h.8M366.7 198.0h.8M478.0 247.7h.8M468.5 246.7h.8M477.2 251.1h.8M474.9 237.8h.8M391.5 200.9h.8M445.7 234.5h.8M421.9 221.1h.8M410.6 206.3h.8M413.6 218.6h.8M453.0 232.2h.8M501.8 251.9h.8M422.9 220.4h.8M407.0 213.1h.8M446.2 231.7h.8M446.4 229.7h.8M413.1 222.4h.8M448.9 231.2h.8M450.6 231.7h.8M464.0 244.5h.8M377.1 196.4h.8M449.9 236.2h.8M414.7 228.1h.8M484.0 256.5h.8M444.8 229.0h.8M473.7 240.1h.8M473.6 244.7h.8M384.0 208.5h.8M363.7 193.2h.8M466.0 234.9h.8M360.4 191.1h.8M494.3 259.1h.8M455.6 232.3h.8M415.6 217.1h.8M452.6 233.9h.8M371.8 195.9h.8M447.8 228.2h.8M490.1 250.7h.8M352.1 191.7h.8M492.8 252.0h.8M398.7 207.8h.8M411.6 208.8h.8M493.0 257.3h.8M471.5 242.4h.8M409.8 217.7h.8M499.0 253.1h.8M356.9 191.9h.8M451.1 246.9h.8M428.5 217.6h.8M485.2 251.1h.8M354.9 193.6h.8M400.3 216.3h.8M423.8 225.0h.8M363.0 198.3h.8M448.9 232.1h.8M479.2 244.6h.8M488.0 249.7h.8M373.7 195.3h.8M428.0 225.8h.8M499.8 251.9h.8M362.8 195.4h.8M457.8 233.4h.8M395.0 203.9h.8M488.3 251.2h.8M443.3 223.0h.8M486.5 244.9h.8M359.6 192.5h.8M442.9 220.4h.8M415.1 208.1h.8M368.2 201.7h.8M413.4 225.8h.8M463.3 240.9h.8M439.4 224.9h.8M441.1 223.4h.8M394.0 203.2h.8M428.4 222.1h.8M419.0 213.2h.8M488.6 246.2h.8M483.7 249.4h.8M417.7 216.2h.8M427.5 216.6h.8M395.9 210.2h.8M437.1 228.9h.8M371.6 200.0h.8M496.9 246.5h.8M414.2 212.4h.8M353.4 204.3h.8M396.6 209.2h.8M494.4 252.3h.8M398.6 202.6h.8M410.0 214.9h.8M498.3 248.4h.8M469.8 241.0h.8M406.1 211.9h.8M376.8 195.8h.8M410.7 209.8h.8M408.0 204.4h.8M486.2 250.1h.8M433.0 216.1h.8M490.8 237.7h.8M500.0 258.7h.8M482.5 257.2h.8M413.0 211.0h.8M410.6 206.9h.8M434.2 237.0h.8M453.9 235.2h.8M479.4 246.5h.8M474.7 250.4h.8M399.0 208.2h.8M462.4 236.1h.8M408.5 215.2h.8M468.5 245.1h.8M354.0 187.3h.8M479.4 242.5h.8M456.8 241.6h.8M374.0 197.6h.8M389.6 201.6h.8M398.7 221.5h.8M429.1 220.7h.8M487.9 241.1h.8M497.6 259.6h.8M442.5 222.2h.8M368.4 195.9h.8M498.8 251.3h.8M496.1 253.7h.8M365.3 198.4h.8M451.9 240.7h.8M452.0 221.5h.8M451.2 238.6h.8M460.8 238.0h.8M352.8 180.7h.8M398.4 206.8h.8M402.7 209.3h.8M449.4 241.0h.8M366.3 196.4h.8M393.5 212.2h.8M378.3 207.5h.8M359.2 188.5h.8M423.1 215.6h.8M382.7 204.6h.8M424.4 223.1h.8M383.0 199.1h.8M470.8 237.2h.8M368.8 199.6h.8M467.7 234.4h.8M450.7 227.7h.8M375.8 197.8h.8M408.8 218.2h.8M409.4 231.3h.8M420.3 214.9h.8M453.3 225.0h.8M354.3 190.8h.8M376.9 190.9h.8M456.8 236.6h.8M366.0 190.9h.8M478.7 245.4h.8M407.6 212.0h.8M357.5 182.6h.8M467.3 242.9h.8M388.8 199.9h.8M501.8 256.8h.8M490.4 250.5h.8M484.9 251.1h.8M484.6 246.7h.8M363.1 201.4h.8M356.1 190.0h.8M412.2 209.7h.8M415.1 211.9h.8M413.4 222.7h.8M441.6 233.2h.8M469.6 242.7h.8M470.3 232.2h.8M491.6 252.8h.8M453.5 233.4h.8M483.6 248.3h.8M365.7 191.8h.8M355.9 193.1h.8M419.8 216.7h.8M484.5 245.3h.8M409.9 208.5h.8M368.7 198.7h.8M371.0 191.4h.8M386.4 193.6h.8M481.6 242.5h.8M402.5 206.8h.8M480.9 257.5h.8M493.4 245.3h.8M468.2 231.0h.8M490.6 244.5h.8M390.3 202.1h.8M381.2 196.4h.8M388.3 189.3h.8M354.7 191.6h.8M491.7 252.7h.8M383.0 195.9h.8M446.6 229.0h.8M394.7 216.7h.8M433.0 222.9h.8M417.4 209.4h.8M460.2 240.8h.8M382.2 198.9h.8M395.4 205.6h.8M372.8 205.0h.8M400.8 206.8h.8M477.1 233.9h.8M496.6 244.7h.8M354.3 193.4h.8M478.8 251.2h.8M462.2 237.0h.8M363.9 191.0h.8M376.1 204.3h.8M481.9 249.9h.8M381.2 193.8h.8M488.3 248.1h.8M433.0 219.0h.8M499.7 254.6h.8M427.8 216.7h.8M371.7 198.5h.8M443.0 231.0h.8M418.9 222.0h.8M362.7 201.0h.8M474.8 233.3h.8M486.9 255.1h.8M496.6 255.3h.8M448.7 230.5h.8M439.5 226.1h.8M381.3 198.5h.8M496.7 255.0h.8M462.3 237.7h.8M452.3 227.3h.8M456.2 235.4h.8M478.3 244.6h.8M403.5 222.2h.8M368.8 199.9h.8M500.7 249.7h.8M356.8 180.9h.8M392.8 210.8h.8M425.8 216.1h.8M358.1 195.6h.8M398.6 203.5h.8M482.6 247.2h.8M445.9 232.9h.8M439.6 236.9h.8M354.8 181.9h.8M416.1 225.0h.8M370.3 201.3h.8M410.1 209.8h.8M410.3 219.6h.8M415.7 213.7h.8M399.4 208.9h.8M469.2 241.9h.8M421.5 223.9h.8M488.3 252.5h.8M403.7 202.6h.8M373.6 201.6h.8M405.3 208.4h.8M482.8 245.7h.8M405.9 209.1h.8M475.1 242.2h.8M456.0 244.0h.8M390.8 202.9h.8M380.7 196.2h.8M369.0 192.9h.8M419.5 216.3h.8M456.2 239.1h.8M396.1 215.5h.8M495.2 252.3h.8M354.2 183.4h.8M469.9 245.4h.8M377.6 206.3h.8M501.7 258.1h.8M366.8 192.0h.8M490.2 246.1h.8M412.3 216.1h.8M395.0 212.3h.8M358.2 190.1h.8M384.9 202.9h.8M409.5 217.0h.8M492.4 246.4h.8M497.2 255.8h.8M364.0 188.3h.8M436.3 217.7h.8M356.9 194.0h.8M367.6 198.3h.8M444.4 226.2h.8M431.1 208.2h.8M487.1 246.4h.8M487.6 249.2h.8M376.0 191.7h.8M447.1 231.1h.8M473.0 250.1h.8M467.9 244.6h.8M437.1 219.5h.8M428.9 230.8h.8M437.7 233.0h.8M414.0 211.4h.8M436.8 222.4h.8M485.8 242.4h.8M404.2 216.0h.8M418.2 220.8h.8M417.8 218.7h.8M482.0 252.4h.8M388.8 204.9h.8M418.0 218.0h.8M464.7 234.4h.8M410.9 214.4h.8M480.4 247.6h.8M432.7 221.6h.8M366.9 188.5h.8M407.1 207.2h.8M374.0 195.7h.8M418.0 219.0h.8M406.7 214.3h.8M403.0 216.6h.8M476.5 243.6h.8M486.6 248.7h.8M465.4 231.0h.8M467.0 238.5h.8M486.0 244.7h.8M489.7 243.7h.8M378.2 208.0h.8M486.7 259.0h.8M376.2 199.2h.8M392.8 205.1h.8M470.7 246.7h.8M373.5 192.7h.8M496.7 248.9h.8M491.8 248.5h.8M352.1 183.8h.8M447.5 236.0h.8M490.9 245.1h.8M433.1 227.0h.8M432.6 232.9h.8M440.1 226.7h.8M435.0 222.9h.8M439.3 230.2h.8M454.1 241.7h.8M495.5 258.1h.8M364.4 193.4h.8M387.2 215.3h.8M352.9 182.5h.8M362.1 186.8h.8M382.3 201.7h.8M487.4 243.8h.8M399.3 209.4h.8M442.2 233.7h.8M399.0 205.5h.8M500.2 252.1h.8M380.9 204.7h.8M411.3 220.9h.8M407.5 217.1h.8M384.1 196.1h.8M363.1 193.6h.8M410.7 200.4h.8M382.3 204.0h.8M355.6 185.7h.8M484.9 249.7h.8M403.5 211.6h.8M353.8 183.8h.8M444.5 233.4h.8M423.8 220.1h.8M455.5 240.0h.8M406.1 222.2h.8M373.1 196.3h.8M448.0 236.4h.8M411.8 220.6h.8M483.5 244.4h.8M401.0 210.2h.8M385.4 200.4h.8M379.9 191.5h.8M390.5 190.7h.8M387.8 201.2h.8M430.3 228.6h.8M407.9 208.5h.8M497.5 254.7h.8M382.6 206.1h.8M493.1 248.4h.8M402.4 208.5h.8M424.5 221.2h.8M496.0 252.4h.8M469.1 228.9h.8M494.1 255.1h.8M432.9 225.6h.8M399.7 208.3h.8M453.3 234.2h.8M454.8 242.8h.8M358.3 186.8h.8M368.1 189.9h.8M494.0 243.6h.8M460.2 238.3h.8M475.5 249.5h.8M380.2 196.8h.8M498.2 258.8h.8M397.2 207.7h.8M373.1 198.6h.8M405.9 210.7h.8M404.8 213.3h.8M360.8 187.6h.8M479.0 249.5h.8M482.6 235.2h.8M381.7 196.8h.8M434.7 227.8h.8M482.6 251.4h.8M408.8 213.8h.8M428.4 224.2h.8M388.7 207.7h.8M422.2 212.4h.8M398.9 203.8h.8M475.7 248.8h.8M375.9 195.2h.8M357.0 189.2h.8M487.2 245.1h.8M377.9 191.4h.8M434.4 214.4h.8M458.4 235.3h.8M401.1 199.8h.8M491.4 253.0h.8M402.7 203.7h.8M381.6 201.0h.8M361.9 183.4h.8M487.0 249.6h.8M384.5 206.9h.8M486.7 253.7h.8M420.5 230.6h.8M492.0 248.1h.8M365.1 191.1h.8M480.3 245.1h.8M499.0 249.1h.8M458.7 227.9h.8M372.1 201.0h.8M501.7 250.6h.8M472.2 230.8h.8M383.6 204.4h.8M497.6 256.3h.8M365.0 190.9h.8M371.5 192.9h.8M354.3 190.6h.8M440.9 227.9h.8M412.6 206.9h.8M364.9 188.4h.8M426.0 224.7h.8M484.2 255.6h.8M365.9 198.6h.8M447.9 229.9h.8M377.3 202.3h.8M428.7 226.0h.8M403.5 207.0h.8M393.4 194.8h.8M353.9 189.6h.8M438.8 225.6h.8M418.6 210.4h.8M455.8 232.9h.8M379.8 196.3h.8M499.6 254.0h.8M355.0 180.8h.8M381.4 206.3h.8M448.3 236.4h.8M372.1 198.6h.8M391.1 195.1h.8M427.3 213.9h.8M465.5 244.1h.8M481.7 248.5h.8M399.6 206.0h.8M450.7 231.7h.8M355.5 184.3h.8M485.6 250.4h.8M452.8 241.0h.8M487.4 245.9h.8M383.6 195.3h.8M426.5 228.4h.8M463.6 247.0h.8M355.8 190.8h.8M478.2 253.6h.8M458.2 233.4h.8M470.3 246.6h.8M376.4 194.5h.8M468.6 241.9h.8M437.1 225.2h.8M374.5 194.0h.8M371.9 197.0h.8M480.7 250.7h.8M411.8 209.9h.8M392.9 212.7h.8M407.3 205.4h.8M454.7 236.8h.8M372.5 198.8h.8M376.3 196.1h.8M449.5 229.5h.8M486.2 245.8h.8M452.8 240.1h.8M493.8 256.0h.8M394.5 204.7h.8M405.2 205.8h.8M408.0 220.2h.8M405.9 205.3h.8M392.4 206.2h.8M471.0 236.8h.8M394.5 201.1h.8M414.5 213.8h.8M422.9 220.3h.8M501.5 251.7h.8M401.5 207.4h.8M455.7 231.3h.8M401.2 213.6h.8M472.1 239.6h.8M410.2 205.8h.8M355.3 189.7h.8M430.5 222.1h.8M402.7 211.2h.8M391.8 200.8h.8M395.9 216.9h.8M352.3 179.4h.8M461.7 234.6h.8M434.2 225.6h.8M447.5 229.2h.8M437.5 220.5h.8M409.2 211.2h.8M420.9 215.1h.8M423.5 213.8h.8M489.7 249.0h.8M404.3 207.2h.8M374.9 190.3h.8M364.6 189.9h.8M402.6 213.0h.8M437.9 222.4h.8M439.4 217.1h.8M461.2 238.3h.8M451.0 229.9h.8M364.6 190.5h.8M410.5 209.4h.8M407.6 214.2h.8M369.0 194.7h.8M440.3 217.9h.8M468.2 236.7h.8M358.5 192.8h.8M431.5 215.3h.8M370.0 194.7h.8M468.5 232.8h.8M435.8 232.9h.8M361.9 190.9h.8M429.4 217.5h.8M388.2 209.4h.8M383.1 204.6h.8M452.1 230.3h.8M412.7 214.4h.8M491.3 252.0h.8M489.5 248.3h.8M480.0 252.0h.8M413.6 219.0h.8M487.8 240.6h.8M362.9 194.9h.8M468.4 238.0h.8M405.9 211.7h.8M481.9 242.1h.8M356.5 187.3h.8M438.3 224.4h.8M362.5 186.0h.8M396.2 205.5h.8M436.8 233.7h.8M372.9 199.5h.8M456.2 227.7h.8M429.0 216.9h.8M385.6 203.3h.8M432.7 231.3h.8M418.9 220.8h.8M357.1 179.2h.8M458.5 229.8h.8M459.2 240.4h.8M488.6 257.0h.8M493.3 257.9h.8M407.6 215.1h.8M448.5 237.4h.8M443.2 228.0h.8M359.9 195.6h.8M460.6 234.2h.8M392.9 206.6h.8M415.8 218.7h.8M445.1 226.3h.8M427.7 219.3h.8M394.0 205.4h.8M483.0 248.5h.8M366.1 193.5h.8M442.5 237.4h.8M379.8 208.9h.8M490.8 253.5h.8M492.5 243.8h.8M459.1 227.4h.8M484.7 245.6h.8M467.0 244.1h.8M450.2 234.0h.8M464.2 244.2h.8M488.7 249.5h.8M384.6 202.2h.8M461.4 237.1h.8M379.0 197.9h.8M421.2 213.5h.8M403.0 206.9h.8M447.1 235.8h.8M447.9 226.7h.8M487.4 253.6h.8M478.0 242.7h.8M361.8 190.9h.8M378.0 190.8h.8M358.8 190.4h.8M458.6 236.0h.8M404.0 211.9h.8M498.3 249.7h.8M384.2 200.1h.8M495.5 253.7h.8M465.5 234.8h.8M466.4 229.1h.8M443.2 220.8h.8M484.8 240.4h.8M387.2 205.4h.8M482.4 246.9h.8M484.2 246.5h.8M443.0 236.5h.8M451.3 224.0h.8M386.4 209.3h.8M425.7 218.6h.8M440.1 232.9h.8M399.5 207.9h.8M358.4 185.8h.8M494.5 249.5h.8M472.9 246.2h.8M406.8 214.9h.8M431.9 218.9h.8M440.7 227.7h.8M495.7 252.0h.8M435.8 220.7h.8M460.6 248.4h.8M472.5 240.7h.8M367.1 187.7h.8M439.3 218.3h.8M491.5 247.4h.8M475.6 246.8h.8M490.3 245.5h.8M376.4 189.1h.8M468.7 243.2h.8M393.9 209.4h.8M483.4 247.6h.8M469.7 242.6h.8M408.3 222.2h.8M438.9 237.7h.8M422.5 225.2h.8M493.3 254.4h.8M435.1 222.7h.8M363.7 194.6h.8M432.4 222.7h.8M354.9 181.6h.8M372.5 182.0h.8M425.7 216.3h.8M421.3 223.1h.8M362.4 186.8h.8M403.1 210.2h.8M395.1 204.9h.8M395.1 201.9h.8M418.5 213.5h.8M357.2 195.4h.8M356.9 194.4h.8M387.3 201.7h.8M459.5 232.6h.8M492.6 241.1h.8M465.3 235.8h.8M363.6 193.8h.8M475.8 245.7h.8M475.0 246.4h.8M478.7 250.9h.8M461.1 242.9h.8M391.2 207.3h.8M426.3 220.3h.8M418.1 220.7h.8M357.3 189.2h.8M433.1 225.2h.8M391.8 206.1h.8M494.9 254.2h.8M452.0 231.2h.8M473.5 242.3h.8M356.9 201.6h.8M458.9 234.4h.8M472.5 241.4h.8M421.3 221.4h.8M389.9 214.3h.8M425.1 223.5h.8M434.6 224.0h.8M417.1 220.7h.8M399.8 205.5h.8M452.4 231.1h.8M485.8 254.9h.8M392.3 208.6h.8M484.4 244.1h.8M360.3 188.7h.8M455.2 233.4h.8M403.7 221.7h.8M430.8 226.1h.8M405.2 210.4h.8M364.1 191.0h.8M377.0 198.3h.8M500.1 258.5h.8M414.5 216.5h.8M494.6 254.4h.8M430.0 228.0h.8M486.9 253.7h.8M418.8 221.2h.8M500.7 262.0h.8M423.7 217.4h.8M390.8 201.0h.8M378.4 194.8h.8M362.8 195.5h.8M368.5 198.0h.8M454.4 232.5h.8M406.5 214.0h.8M483.1 248.3h.8M381.7 201.9h.8M492.1 258.5h.8M380.6 194.0h.8M392.6 212.2h.8M403.0 217.6h.8M391.5 201.1h.8M414.3 220.5h.8M472.5 236.9h.8M362.7 190.2h.8M388.7 202.0h.8M360.0 192.3h.8M468.3 246.7h.8M370.0 200.7h.8M428.5 221.4h.8M482.3 247.0h.8M399.4 214.3h.8M369.4 200.2h.8M392.0 209.3h.8M493.0 251.7h.8M366.3 191.4h.8M481.6 242.0h.8M370.1 196.9h.8M376.6 191.4h.8M467.9 236.5h.8M448.0 223.9h.8M400.2 213.0h.8M457.4 232.4h.8M374.2 192.0h.8M484.2 255.7h.8M438.4 222.1h.8M494.0 249.9h.8M441.4 223.5h.8M437.8 225.3h.8M480.7 240.4h.8M439.5 212.2h.8M365.1 195.3h.8M443.8 225.5h.8M396.1 203.7h.8M447.7 237.0h.8M501.8 249.8h.8M443.6 223.3h.8M477.1 239.3h.8M405.2 214.6h.8M353.8 181.8h.8M359.1 187.7h.8M354.8 183.8h.8M384.7 202.1h.8M392.7 207.5h.8M400.3 212.3h.8M450.2 234.7h.8M464.4 234.1h.8M467.4 243.3h.8M464.8 240.8h.8M480.3 244.0h.8M460.2 237.6h.8M420.9 228.0h.8M414.0 218.3h.8M364.3 194.2h.8M354.1 180.3h.8M480.6 242.6h.8M374.4 201.8h.8M481.7 251.4h.8M412.0 216.4h.8M361.0 190.0h.8M476.4 247.4h.8M459.2 233.9h.8M501.7 261.9h.8M433.3 222.6h.8M491.6 245.2h.8M428.0 234.1h.8M391.3 205.0h.8M412.2 213.3h.8M451.0 234.4h.8M485.5 247.5h.8M474.5 243.2h.8M491.6 249.4h.8M432.6 223.3h.8M421.2 218.1h.8M430.9 215.6h.8M492.0 246.2h.8M407.0 207.7h.8M361.1 194.0h.8M410.8 216.1h.8M449.5 226.6h.8M477.0 248.9h.8M493.5 246.9h.8M455.2 240.4h.8M474.0 232.8h.8M473.9 236.9h.8M473.4 245.0h.8M442.0 230.2h.8M493.8 261.3h.8M485.8 248.3h.8M353.2 181.9h.8M370.3 192.4h.8M500.9 256.2h.8M452.0 223.1h.8M373.1 194.0h.8M488.7 247.5h.8M365.4 194.4h.8M432.7 221.1h.8M410.2 201.3h.8M395.3 204.6h.8M387.9 211.1h.8M365.1 191.9h.8M408.6 203.9h.8M367.1 188.3h.8M445.7 232.1h.8M400.3 207.4h.8M467.1 246.4h.8M492.7 248.3h.8M485.1 251.9h.8M463.0 240.1h.8M469.1 243.1h.8M365.9 206.2h.8M497.9 245.7h.8M438.5 219.6h.8M433.5 225.5h.8M453.2 232.7h.8M380.2 191.9h.8M422.5 220.5h.8M370.3 197.4h.8M489.9 253.9h.8M427.0 214.0h.8M371.9 201.4h.8M497.5 253.4h.8M439.2 228.7h.8M465.3 243.0h.8M472.5 237.6h.8M456.4 220.8h.8M418.6 219.8h.8M394.1 214.0h.8M359.8 195.6h.8M445.6 232.1h.8M368.6 196.8h.8M407.4 219.3h.8M485.5 250.8h.8M487.7 249.6h.8M475.4 255.6h.8M381.0 197.5h.8M493.3 252.8h.8M373.1 202.8h.8M489.8 251.2h.8M464.4 236.3h.8M497.7 253.6h.8M499.7 254.3h.8M430.8 222.9h.8M398.9 205.4h.8M489.8 256.3h.8M399.1 211.2h.8M402.0 208.0h.8M437.4 225.9h.8M373.3 201.7h.8M420.5 219.6h.8M372.7 199.7h.8M420.0 218.0h.8M488.1 257.0h.8M490.1 257.7h.8M495.8 259.5h.8M460.8 237.4h.8M464.0 226.7h.8M416.1 211.7h.8M486.2 242.7h.8M372.2 196.2h.8M377.0 191.0h.8M369.8 193.5h.8M413.3 214.7h.8M361.0 186.1h.8M457.6 241.0h.8M379.5 209.7h.8M455.4 239.9h.8M436.6 221.1h.8M455.8 230.3h.8M457.4 234.3h.8M470.0 242.1h.8M423.9 220.7h.8M437.6 224.3h.8M389.7 204.8h.8M427.2 217.8h.8M365.5 197.7h.8M495.2 246.2h.8M491.4 252.3h.8M363.1 196.4h.8M353.7 189.1h.8M411.3 218.5h.8M431.1 223.8h.8M423.9 228.3h.8M402.7 212.5h.8M445.4 229.4h.8M412.1 212.7h.8M412.9 216.7h.8M356.9 183.6h.8M441.0 235.6h.8M364.5 193.8h.8M480.8 248.2h.8M423.7 219.8h.8M405.2 212.6h.8M451.2 225.9h.8M484.9 266.4h.8M377.4 202.9h.8M412.2 202.9h.8M498.1 253.7h.8M481.6 247.1h.8M410.7 209.7h.8M406.4 214.7h.8M474.4 244.1h.8M364.7 188.8h.8M369.9 200.7h.8M437.7 218.6h.8M437.3 221.6h.8M437.5 217.7h.8M466.8 239.9h.8M484.2 248.0h.8M412.0 209.4h.8M400.9 216.3h.8M479.5 248.6h.8M388.8 207.6h.8M483.3 256.7h.8M458.1 231.7h.8M479.0 247.0h.8M447.6 226.5h.8M368.0 191.2h.8M459.3 230.2h.8M426.5 233.9h.8M379.6 200.3h.8M367.4 187.8h.8M391.5 209.2h.8M370.9 201.8h.8M372.4 194.7h.8M478.6 244.9h.8M494.6 249.3h.8M501.3 255.3h.8M436.0 219.6h.8M437.0 222.6h.8M361.0 189.9h.8M369.8 196.9h.8M467.6 236.6h.8M437.7 229.3h.8M437.1 221.4h.8M465.0 233.3h.8M474.0 238.4h.8M458.6 241.8h.8M353.7 185.7h.8M433.6 222.6h.8M477.4 240.3h.8M475.0 250.6h.8M494.4 254.9h.8M430.0 223.0h.8M430.4 216.3h.8M355.8 191.5h.8M429.0 218.0h.8M436.6 225.0h.8M489.7 240.9h.8M484.8 246.2h.8M361.4 198.9h.8M373.3 198.1h.8M409.4 212.0h.8M469.0 234.6h.8M377.0 195.3h.8M468.2 241.4h.8M441.0 233.6h.8M483.7 247.1h.8M403.4 211.1h.8M412.4 208.3h.8M361.1 186.8h.8M429.8 229.1h.8M468.2 251.1h.8M429.0 224.2h.8M430.3 221.5h.8M489.3 254.4h.8M467.1 242.0h.8M399.2 203.0h.8M493.8 248.3h.8M460.8 244.9h.8M397.2 206.0h.8M383.8 200.7h.8M453.4 234.3h.8M428.1 219.1h.8M441.9 225.3h.8M371.4 184.1h.8M466.9 238.4h.8M481.2 249.5h.8M415.0 218.1h.8M397.7 204.5h.8M498.3 244.8h.8M498.3 251.0h.8M370.8 193.0h.8M433.1 222.8h.8M417.6 219.1h.8M394.1 195.3h.8M429.9 228.3h.8M452.3 229.3h.8M407.0 209.9h.8M398.2 207.2h.8M481.5 250.3h.8M450.7 233.3h.8M397.9 210.6h.8M375.5 196.2h.8M409.8 214.7h.8M492.9 249.7h.8M476.7 239.6h.8M383.6 195.4h.8M443.0 233.4h.8M352.8 188.9h.8M488.1 254.4h.8M493.4 245.7h.8M384.5 205.8h.8M403.4 204.1h.8M397.2 210.0h.8M380.0 194.9h.8M454.6 236.4h.8M408.6 213.9h.8M352.8 186.7h.8M385.0 201.6h.8M451.2 233.0h.8M457.3 231.9h.8M354.5 182.4h.8M434.5 220.6h.8M447.9 233.0h.8M447.6 239.4h.8M449.8 231.1h.8M469.1 253.9h.8M402.3 206.8h.8M479.7 242.4h.8M418.3 223.0h.8M361.1 188.3h.8M449.8 234.7h.8M403.5 204.5h.8M447.3 234.1h.8M408.0 216.5h.8M426.7 224.2h.8M435.4 223.9h.8M458.3 240.4h.8M396.5 196.6h.8M452.5 234.6h.8M387.0 194.7h.8M470.7 242.6h.8M386.7 204.3h.8M362.8 195.2h.8M357.8 193.1h.8M441.8 225.9h.8M400.5 203.4h.8M438.2 225.8h.8M398.7 212.5h.8M418.0 216.1h.8M482.6 251.3h.8M490.6 262.9h.8M358.5 189.3h.8M494.3 260.2h.8M427.8 224.6h.8M463.0 237.4h.8M491.5 252.6h.8M380.3 201.1h.8M409.4 205.9h.8M485.1 243.3h.8M430.0 215.4h.8M486.7 247.5h.8M477.7 243.4h.8M501.8 247.1h.8M451.2 235.2h.8M362.1 190.0h.8M487.4 248.2h.8M379.8 198.2h.8M375.6 194.9h.8M407.4 211.7h.8M383.1 197.3h.8M373.0 200.5h.8M447.8 228.4h.8M488.6 254.3h.8M391.6 200.0h.8M408.2 208.0h.8M448.2 231.9h.8M397.0 209.9h.8M426.0 220.9h.8M489.0 247.0h.8M369.6 202.1h.8M432.3 228.4h.8M384.0 197.2h.8M468.0 241.0h.8M383.3 207.3h.8M473.7 253.0h.8M412.5 216.7h.8M491.7 259.1h.8M406.5 211.3h.8M426.0 216.0h.8M368.1 185.7h.8M393.6 211.9h.8M414.4 212.5h.8M486.0 253.9h.8M440.0 232.1h.8M473.5 243.6h.8M480.1 249.6h.8M365.6 184.7h.8M399.3 208.9h.8M476.9 247.7h.8M465.4 228.1h.8M436.7 229.5h.8M412.6 220.9h.8M426.9 222.3h.8M354.3 191.7h.8M371.3 193.1h.8M405.4 205.9h.8M373.1 202.7h.8M386.6 205.2h.8M473.0 244.2h.8M467.3 246.4h.8M461.7 243.4h.8M437.0 227.7h.8M490.3 254.6h.8M386.5 201.4h.8M445.1 225.9h.8M415.2 215.1h.8M493.3 250.4h.8M403.6 215.0h.8M387.8 218.0h.8M467.3 238.0h.8M473.6 240.1h.8M459.9 236.9h.8M469.6 238.4h.8M380.8 201.5h.8M442.8 234.1h.8M432.6 222.6h.8M488.5 251.5h.8M411.7 222.4h.8M388.9 200.1h.8M398.2 206.5h.8M428.9 218.9h.8M499.5 256.8h.8M456.7 228.2h.8M460.1 234.3h.8M422.1 214.7h.8M411.5 217.4h.8M491.8 252.5h.8M419.6 212.1h.8M370.9 195.9h.8M469.1 240.6h.8M382.3 194.1h.8M410.6 208.6h.8M443.9 228.1h.8M476.8 235.4h.8M353.1 194.5h.8M449.9 232.2h.8M372.5 199.1h.8M446.7 223.6h.8M442.8 221.3h.8M429.5 224.8h.8M416.0 215.7h.8M433.2 219.9h.8M495.6 250.4h.8M404.9 210.1h.8M422.8 214.9h.8M374.2 188.2h.8M410.3 232.8h.8M359.8 195.8h.8M488.5 250.0h.8M403.8 204.1h.8M492.7 253.2h.8M372.3 193.1h.8M451.3 229.1h.8M442.4 224.3h.8M451.2 230.3h.8M471.3 240.4h.8M363.2 196.9h.8M462.9 239.4h.8M356.0 192.9h.8M397.3 206.3h.8M479.2 245.8h.8M437.6 226.4h.8M491.7 248.5h.8M481.4 247.6h.8M415.5 211.2h.8M394.3 201.6h.8M382.6 205.4h.8M358.4 193.8h.8M459.5 237.8h.8M473.0 245.7h.8M359.2 191.8h.8M425.8 226.7h.8M476.7 242.5h.8M448.0 232.3h.8M414.5 222.6h.8M494.5 250.3h.8M415.5 213.4h.8M398.9 224.8h.8M426.6 205.3h.8M404.1 208.9h.8M410.9 216.1h.8M426.6 217.1h.8M363.7 190.9h.8M442.6 224.8h.8M439.4 225.6h.8M458.8 237.1h.8M388.5 204.0h.8M358.2 187.1h.8M458.2 230.9h.8M407.4 221.2h.8M441.7 234.0h.8M392.7 213.2h.8M404.3 213.4h.8M391.5 208.2h.8M425.9 220.0h.8M449.2 232.9h.8M387.4 197.2h.8M399.5 211.6h.8M421.4 222.1h.8M456.5 238.7h.8M407.4 213.8h.8M361.4 190.6h.8M429.9 224.9h.8M420.2 222.5h.8M501.6 261.8h.8M439.1 226.1h.8M359.0 192.8h.8M448.6 235.8h.8M364.5 194.0h.8M407.9 211.2h.8M357.3 195.6h.8M442.2 220.9h.8M378.0 203.1h.8M493.7 269.9h.8M381.1 209.4h.8M497.3 262.5h.8M489.1 258.3h.8M429.7 218.5h.8M421.7 219.7h.8M410.4 220.6h.8M464.4 241.6h.8M380.2 202.4h.8M405.2 214.5h.8M360.9 184.5h.8M416.1 230.0h.8M380.8 202.4h.8M490.0 249.1h.8M419.6 215.9h.8M385.5 212.4h.8M393.1 205.1h.8M378.8 205.2h.8M365.4 195.9h.8M360.0 198.1h.8M459.5 232.8h.8M367.8 180.1h.8M478.3 240.3h.8M497.2 254.9h.8M489.2 257.9h.8M378.5 195.3h.8M471.0 236.1h.8M441.7 233.2h.8M493.9 247.7h.8M396.0 215.5h.8M442.8 234.5h.8M444.5 228.8h.8M380.5 206.6h.8M442.1 224.9h.8M460.8 230.3h.8M473.1 242.2h.8M480.4 243.6h.8M356.0 181.6h.8M465.8 236.8h.8M400.7 203.4h.8M466.9 233.0h.8M374.7 202.3h.8M408.5 202.8h.8M413.0 209.5h.8M456.4 234.1h.8M444.4 225.5h.8M474.1 241.4h.8M353.0 186.4h.8M394.7 211.1h.8M462.4 239.3h.8M388.0 205.0h.8M478.6 239.9h.8M398.6 206.1h.8M452.1 230.9h.8M360.3 191.3h.8M489.5 244.1h.8M368.9 205.9h.8M413.7 219.4h.8M410.4 209.3h.8M397.6 209.7h.8M432.5 220.8h.8M430.7 215.7h.8M471.2 237.8h.8M497.9 260.4h.8M472.2 242.9h.8M460.6 241.9h.8M381.7 198.4h.8M383.9 196.8h.8M353.9 188.9h.8M366.0 191.0h.8M469.5 241.6h.8M360.6 182.1h.8M392.5 204.8h.8M409.6 212.2h.8M375.6 195.1h.8M403.0 205.4h.8M389.9 201.1h.8M413.4 215.1h.8M378.8 198.9h.8M355.9 186.4h.8M488.4 246.6h.8M463.5 239.6h.8M467.6 242.4h.8M390.3 205.5h.8M493.0 249.3h.8M477.0 246.1h.8M413.3 219.9h.8M395.5 208.3h.8M471.0 243.6h.8M355.2 185.6h.8M437.9 228.6h.8M482.2 248.3h.8M488.9 241.0h.8M490.7 248.3h.8M416.4 220.6h.8M354.4 182.5h.8M404.5 212.6h.8M392.6 209.2h.8M438.8 223.6h.8M460.8 243.1h.8M499.0 254.4h.8M399.9 206.2h.8M406.5 208.4h.8M365.0 195.3h.8M477.0 246.3h.8M426.8 221.5h.8M387.0 197.4h.8M427.5 229.6h.8M424.8 216.4h.8M474.7 241.6h.8M386.5 196.4h.8M428.1 226.8h.8M418.8 212.2h.8M367.1 197.7h.8M372.8 195.0h.8M388.2 205.2h.8M417.3 227.9h.8M435.4 225.3h.8M463.8 236.2h.8M488.6 245.4h.8M365.8 196.1h.8M498.1 259.0h.8M413.9 212.0h.8M469.1 242.1h.8M401.9 204.9h.8M461.6 230.5h.8M454.9 235.0h.8M354.9 189.0h.8M482.8 250.0h.8M358.6 199.2h.8M425.9 220.7h.8M384.6 198.5h.8M440.8 222.6h.8M379.4 199.5h.8M443.4 220.2h.8M467.5 242.1h.8M441.1 227.7h.8M477.7 246.8h.8M409.3 215.1h.8M452.3 234.0h.8M419.2 220.7h.8M489.4 251.6h.8M366.3 192.1h.8M482.5 246.0h.8M354.1 194.5h.8M480.4 243.2h.8M364.8 196.5h.8M456.6 232.6h.8M367.3 193.5h.8M469.1 249.2h.8M385.4 206.9h.8M362.6 187.3h.8M482.6 249.5h.8M438.5 229.4h.8M479.2 247.0h.8M470.8 240.7h.8M366.2 190.7h.8M366.5 194.8h.8M459.3 228.2h.8M478.9 236.3h.8M379.1 195.7h.8M485.1 248.5h.8M356.0 187.9h.8M467.3 232.9h.8M446.2 219.1h.8M409.8 209.3h.8M409.4 213.8h.8M398.2 205.0h.8M423.4 220.0h.8M427.1 217.2h.8M376.8 203.0h.8M354.1 183.9h.8M431.1 233.0h.8M380.6 197.5h.8M366.8 190.5h.8M389.9 192.7h.8M373.7 200.9h.8M481.8 243.0h.8M395.6 214.4h.8M449.2 235.6h.8M353.5 186.3h.8M451.2 236.1h.8M495.2 257.7h.8M465.3 245.6h.8M466.6 240.3h.8M414.7 220.4h.8M423.7 229.2h.8M487.3 247.4h.8M387.6 211.0h.8M427.9 218.4h.8M461.4 235.8h.8M402.7 213.8h.8M422.8 226.6h.8M357.4 193.5h.8M454.4 239.9h.8M377.1 200.1h.8M390.9 206.4h.8M385.8 190.9h.8M459.8 245.9h.8M412.0 217.0h.8M501.1 252.5h.8M472.0 237.0h.8M490.6 244.1h.8M455.1 238.6h.8M386.5 199.0h.8M400.6 222.5h.8M406.6 212.9h.8M382.4 196.8h.8M422.1 215.6h.8M470.7 247.7h.8M430.3 226.6h.8M377.0 208.4h.8M462.0 240.7h.8M496.8 259.6h.8M423.2 218.2h.8M373.3 200.2h.8M461.6 234.3h.8M432.9 216.5h.8M473.3 243.4h.8M442.9 220.3h.8M482.8 241.3h.8M354.2 194.1h.8M449.6 225.1h.8M442.3 224.7h.8M468.9 234.2h.8M384.9 199.8h.8M439.9 235.5h.8M392.1 207.0h.8M465.3 250.1h.8M364.0 199.0h.8M375.7 201.0h.8M493.8 245.8h.8M462.7 237.4h.8M389.9 203.2h.8M398.9 204.9h.8M417.2 221.0h.8M387.1 197.8h.8M373.1 195.5h.8M497.5 258.0h.8M383.8 204.2h.8M464.2 239.4h.8M459.8 233.4h.8M462.4 230.7h.8M397.5 209.2h.8M385.4 203.3h.8M444.5 220.8h.8M501.4 240.3h.8M410.4 205.2h.8M384.8 201.0h.8M428.3 223.5h.8M380.5 196.8h.8M404.1 209.3h.8M462.3 241.1h.8M388.4 197.2h.8M419.3 205.8h.8M448.6 235.1h.8M375.9 201.6h.8M373.7 199.2h.8M496.8 259.1h.8M482.2 242.7h.8M484.8 254.4h.8M437.9 223.1h.8M427.7 219.7h.8M368.4 184.9h.8M388.1 210.4h.8M368.9 194.0h.8M431.9 222.2h.8M417.4 212.7h.8M377.9 197.0h.8M366.9 196.5h.8M438.2 221.0h.8M373.2 190.1h.8M354.0 181.5h.8M385.9 205.9h.8M472.5 239.5h.8M450.7 236.4h.8M429.6 223.2h.8M385.9 198.8h.8M422.2 225.8h.8M353.5 174.5h.8M400.8 203.5h.8M424.0 223.5h.8M365.8 195.9h.8M439.1 227.1h.8M418.4 218.0h.8M360.2 196.4h.8M374.1 197.7h.8M425.3 227.8h.8M486.6 257.0h.8M360.6 182.4h.8M436.4 225.8h.8M394.7 208.3h.8M410.3 206.1h.8M490.4 248.7h.8M446.5 227.2h.8M394.7 209.2h.8M419.8 212.7h.8M499.2 255.8h.8M482.2 242.3h.8M415.9 213.1h.8M431.5 215.1h.8M420.8 213.7h.8M374.6 197.4h.8M497.2 258.4h.8M386.4 209.6h.8M384.9 205.3h.8M368.6 187.2h.8M493.3 253.7h.8M489.3 260.6h.8M447.6 228.8h.8M431.3 232.4h.8M439.2 231.2h.8M407.6 208.9h.8M485.5 254.3h.8M435.7 224.0h.8M480.4 246.4h.8M456.2 233.1h.8M453.9 231.5h.8M452.7 236.2h.8M468.4 236.3h.8M474.1 245.1h.8M454.5 233.2h.8M400.2 202.2h.8M391.5 212.0h.8M381.4 200.0h.8M480.4 238.0h.8M424.9 214.3h.8M352.1 190.2h.8M441.9 231.0h.8M481.6 243.6h.8M489.8 253.1h.8M492.8 251.0h.8M482.3 253.1h.8M378.6 196.0h.8M429.4 230.0h.8M458.3 234.9h.8M448.5 227.7h.8M405.8 214.7h.8M357.6 197.0h.8M486.0 257.2h.8M468.8 249.5h.8M482.0 237.8h.8M409.9 222.6h.8M389.3 210.1h.8M478.7 243.3h.8M450.2 231.6h.8M452.1 227.8h.8M357.2 185.1h.8M368.1 192.2h.8M467.5 240.0h.8M484.6 250.3h.8M405.1 212.1h.8M482.9 242.3h.8M378.9 196.3h.8M439.0 223.7h.8M404.4 219.0h.8M432.1 227.3h.8M381.6 203.7h.8M409.5 215.8h.8M421.3 223.7h.8M439.0 223.4h.8M382.8 195.9h.8M442.9 219.8h.8M383.8 204.0h.8M498.5 254.4h.8M388.3 203.1h.8M368.5 194.5h.8M392.7 209.6h.8M437.3 231.0h.8M419.0 227.3h.8M451.0 234.5h.8M368.5 203.6h.8M413.9 212.2h.8M435.5 231.8h.8M498.2 259.4h.8M485.0 247.8h.8M437.8 242.1h.8M397.1 206.4h.8M369.3 196.7h.8M446.9 220.9h.8M436.5 231.5h.8M423.2 223.4h.8M460.1 233.6h.8M421.9 218.3h.8M468.9 238.3h.8M395.3 208.1h.8M401.2 204.8h.8M488.9 247.9h.8M438.9 220.3h.8M495.3 259.0h.8M361.3 196.4h.8M490.8 251.5h.8M360.7 188.9h.8M464.2 242.8h.8M438.9 222.8h.8M370.3 201.7h.8M397.5 203.4h.8M424.0 217.2h.8M435.8 233.9h.8M425.2 218.5h.8M356.1 198.1h.8M501.2 252.4h.8M404.9 218.8h.8M460.4 236.9h.8M491.4 252.0h.8M498.2 261.6h.8M379.6 208.5h.8M485.9 245.7h.8M429.0 224.4h.8M450.3 226.6h.8M388.9 204.0h.8M373.7 183.5h.8M438.9 225.8h.8M487.5 240.4h.8M414.8 213.9h.8M495.0 251.9h.8M457.9 232.7h.8M354.9 191.8h.8M492.1 254.1h.8M368.9 186.6h.8M385.3 203.0h.8M436.5 231.1h.8M493.0 248.9h.8M372.3 200.2h.8M396.7 214.9h.8M358.9 184.5h.8M365.2 186.6h.8M416.7 207.6h.8M438.4 220.7h.8M428.7 218.7h.8M359.2 187.4h.8M416.4 214.8h.8M418.6 217.4h.8M492.3 240.0h.8M401.2 209.6h.8M447.1 222.2h.8M425.2 220.8h.8M468.8 234.3h.8M442.7 242.0h.8M500.9 254.1h.8M447.6 233.5h.8M403.3 202.6h.8M415.1 208.3h.8M480.5 248.5h.8M407.3 212.3h.8M491.1 245.8h.8M418.1 215.5h.8M493.5 250.9h.8M374.6 192.3h.8M469.7 246.8h.8M418.7 209.4h.8M386.1 200.0h.8M440.6 241.0h.8M361.0 195.1h.8M382.0 200.7h.8M479.1 233.7h.8M430.6 222.5h.8M402.8 217.0h.8M373.7 189.9h.8M376.1 195.6h.8M386.5 202.3h.8M421.1 213.0h.8M355.1 189.7h.8M382.8 201.1h.8M416.3 211.0h.8M484.4 244.9h.8M481.9 241.1h.8M492.3 252.4h.8M385.8 193.7h.8M370.7 201.8h.8M479.4 251.3h.8M456.9 231.9h.8M389.0 204.8h.8M417.0 215.1h.8M490.7 249.6h.8M474.6 260.4h.8M492.5 255.7h.8M426.1 220.1h.8M380.9 193.2h.8M432.9 227.4h.8M369.1 185.0h.8M369.6 186.8h.8M365.7 196.7h.8M389.8 199.7h.8M376.6 202.9h.8M390.7 204.6h.8M456.3 239.3h.8M452.9 235.0h.8M355.9 197.0h.8M480.9 246.0h.8M475.0 247.6h.8M493.7 255.4h.8M384.7 210.8h.8M461.6 236.2h.8M435.6 215.4h.8M458.0 236.6h.8M487.6 249.0h.8M364.2 197.4h.8M478.2 246.3h.8M480.9 249.4h.8M448.8 238.1h.8M412.3 218.2h.8M433.2 226.0h.8M373.1 194.5h.8M463.8 239.1h.8M434.7 222.8h.8M438.3 219.6h.8M458.4 230.6h.8M367.2 195.3h.8M359.2 198.1h.8M369.9 195.5h.8M364.1 191.5h.8M472.3 236.6h.8M371.9 194.8h.8M408.6 198.8h.8M450.6 233.0h.8M390.7 200.9h.8M488.8 253.4h.8M489.1 254.0h.8M410.7 214.7h.8M440.0 225.7h.8M469.9 237.0h.8M499.3 269.0h.8M456.0 228.6h.8M419.5 210.1h.8M358.6 182.9h.8M448.3 226.4h.8M450.9 232.3h.8M456.1 231.3h.8M404.3 204.1h.8M481.3 250.3h.8M440.9 223.9h.8M409.1 212.5h.8M388.5 203.8h.8M356.6 179.9h.8M458.8 238.7h.8M399.4 212.9h.8M480.1 245.3h.8M400.3 210.2h.8M397.9 201.0h.8M469.6 248.3h.8M409.1 218.9h.8M499.9 252.7h.8M436.9 221.7h.8M492.7 256.6h.8M370.3 188.6h.8M359.0 199.0h.8M354.1 182.5h.8M483.5 250.9h.8M423.6 221.6h.8M462.1 228.2h.8M430.8 222.9h.8M497.2 256.1h.8M473.5 241.0h.8M424.0 210.4h.8M379.2 198.7h.8M409.7 216.7h.8M410.6 212.4h.8M406.0 217.3h.8M459.2 239.0h.8M477.6 246.8h.8M476.5 240.5h.8M381.6 202.5h.8M377.3 195.9h.8M452.6 227.1h.8M462.0 229.3h.8M469.6 248.5h.8M487.6 248.9h.8M402.5 215.2h.8M362.2 188.2h.8M407.5 210.8h.8M400.7 208.9h.8M368.6 196.8h.8M454.0 237.9h.8M428.7 229.9h.8M445.6 224.8h.8M482.4 247.3h.8M438.4 226.0h.8M485.2 246.0h.8M474.2 238.7h.8M431.2 213.8h.8M444.9 230.0h.8M422.6 215.8h.8M410.2 221.1h.8M461.7 238.7h.8M442.2 231.3h.8M407.5 198.9h.8M450.0 225.9h.8M432.4 222.9h.8M368.7 194.0h.8M463.8 237.4h.8M426.5 221.8h.8M491.3 251.4h.8M486.9 251.5h.8M369.1 210.5h.8M392.0 207.0h.8M456.5 235.3h.8M382.1 209.4h.8M475.7 242.9h.8M453.1 233.1h.8M494.6 249.9h.8M404.7 216.1h.8M455.3 238.4h.8M442.4 224.2h.8M454.3 236.9h.8M494.3 249.4h.8M404.9 214.1h.8M386.8 208.3h.8M472.8 248.9h.8M374.7 200.0h.8M434.7 219.4h.8M491.0 248.7h.8M479.1 238.0h.8M455.8 234.0h.8M354.2 191.9h.8M499.0 246.8h.8M419.9 213.8h.8M395.7 210.3h.8M362.1 196.2h.8M373.7 197.5h.8M358.9 186.3h.8M436.0 231.8h.8M409.2 207.3h.8M396.2 208.7h.8M474.8 238.8h.8M364.1 192.8h.8M415.3 213.3h.8M472.5 238.7h.8M476.5 237.4h.8M458.4 238.7h.8M430.7 213.6h.8M375.9 203.6h.8M411.3 212.3h.8M461.4 233.4h.8M469.2 240.1h.8M443.6 224.3h.8M486.9 256.0h.8M436.7 225.6h.8M479.2 240.0h.8M487.8 248.7h.8M377.3 203.4h.8M373.9 195.9h.8M500.2 253.5h.8M396.5 211.7h.8M419.3 211.1h.8M415.6 218.2h.8M479.3 249.7h.8M353.9 187.0h.8M425.7 223.4h.8M421.3 219.2h.8M366.8 192.3h.8M419.0 219.2h.8M483.2 243.8h.8M359.8 188.7h.8M389.6 198.0h.8M443.2 233.1h.8M433.5 223.6h.8M466.0 237.5h.8M403.4 208.7h.8M370.5 205.0h.8M407.6 217.1h.8M476.6 242.0h.8M417.4 227.3h.8M411.5 213.7h.8M469.3 239.4h.8M439.9 221.0h.8M372.6 197.7h.8M409.1 216.3h.8M488.4 241.9h.8M356.4 185.7h.8M466.4 227.5h.8M398.3 211.1h.8M464.3 230.3h.8M376.7 199.2h.8M450.5 235.5h.8M481.0 239.6h.8M362.0 198.1h.8M495.6 253.0h.8M368.0 190.9h.8M354.1 188.9h.8M475.4 245.5h.8M429.0 219.7h.8M357.3 194.8h.8M450.3 232.6h.8M428.3 218.1h.8M501.3 260.0h.8M498.5 247.0h.8M483.9 247.9h.8M430.5 222.8h.8M474.8 245.0h.8M462.5 234.4h.8M392.9 207.5h.8M464.2 236.8h.8M396.4 200.9h.8M415.1 209.5h.8M364.0 199.3h.8M372.6 189.6h.8M427.2 223.3h.8M477.7 242.6h.8M471.2 240.6h.8M375.6 196.0h.8M433.4 226.7h.8M398.0 204.9h.8M382.8 195.8h.8M406.9 214.4h.8M454.0 233.3h.8M490.8 246.2h.8M366.7 188.2h.8M396.0 205.1h.8M464.3 236.6h.8M426.7 218.5h.8M410.2 214.8h.8M472.3 240.0h.8M354.8 189.1h.8M494.0 253.2h.8M392.9 216.4h.8M479.1 253.2h.8M477.3 242.1h.8M477.7 240.6h.8M444.9 227.0h.8M449.4 230.6h.8M359.3 191.3h.8M416.1 213.2h.8M445.9 231.4h.8M393.0 205.4h.8M454.2 226.3h.8M434.9 231.1h.8M452.2 235.3h.8M480.5 246.5h.8M402.2 218.7h.8M445.7 235.1h.8M359.4 185.0h.8M471.7 238.9h.8M474.3 243.2h.8M455.3 227.7h.8M455.7 238.8h.8M436.1 216.1h.8M400.8 209.3h.8M471.6 244.2h.8M371.8 190.6h.8M439.3 224.1h.8M368.2 193.1h.8M463.9 250.5h.8M427.3 229.7h.8M447.1 240.0h.8M377.6 198.4h.8M414.5 210.7h.8M451.1 235.8h.8M418.2 216.5h.8M460.6 243.8h.8M364.8 199.6h.8M405.8 211.6h.8M368.2 190.8h.8M462.9 233.9h.8M411.3 208.1h.8M464.3 241.8h.8M465.5 239.4h.8M357.7 185.6h.8M445.2 234.2h.8M472.7 243.4h.8M489.4 249.6h.8M365.3 192.9h.8M365.9 188.9h.8M418.6 215.2h.8M464.6 240.3h.8M368.8 205.4h.8M501.6 254.5h.8M458.9 230.9h.8M354.2 185.3h.8M463.6 236.1h.8M416.5 214.2h.8M378.4 193.1h.8M451.5 234.7h.8M459.3 236.1h.8M445.2 234.1h.8M390.0 205.2h.8M379.3 203.2h.8M361.0 194.8h.8M377.2 193.5h.8M406.1 212.0h.8M402.7 205.2h.8M362.5 205.8h.8M478.7 249.1h.8M380.1 199.8h.8M364.1 195.6h.8M383.4 199.7h.8M418.3 218.3h.8M445.7 230.0h.8M364.3 185.7h.8M374.7 196.4h.8M356.0 186.9h.8M411.8 215.4h.8M501.9 256.2h.8M469.2 244.8h.8M480.0 245.9h.8M489.1 253.3h.8M385.2 196.6h.8M449.1 232.4h.8M414.6 223.0h.8M406.5 205.7h.8M465.8 234.1h.8M436.4 228.7h.8M445.4 221.7h.8M392.6 214.4h.8M493.0 244.6h.8M450.4 243.8h.8M446.5 234.4h.8M466.0 239.4h.8M489.1 252.9h.8M378.4 209.0h.8M391.7 212.1h.8M497.9 245.7h.8M453.1 241.3h.8M485.3 237.4h.8M401.8 204.2h.8M500.0 248.2h.8M416.8 215.3h.8M472.7 242.3h.8M488.7 251.3h.8M429.6 209.3h.8M414.6 209.8h.8M426.7 218.1h.8M371.4 194.2h.8M362.8 186.6h.8M493.8 260.8h.8M449.9 227.6h.8M364.7 195.4h.8M440.5 238.3h.8M389.4 198.7h.8M478.0 248.2h.8M405.9 209.5h.8M354.7 191.6h.8M451.9 234.5h.8M501.2 247.5h.8M462.6 235.9h.8M496.3 251.0h.8M367.4 199.7h.8M395.8 202.6h.8M468.4 243.2h.8M421.4 216.4h.8M378.8 204.0h.8M403.5 208.7h.8M394.9 203.9h.8M457.6 242.1h.8M468.0 238.4h.8M462.4 241.6h.8M452.2 226.8h.8M464.2 236.5h.8M490.5 250.0h.8M391.6 190.5h.8M393.8 202.0h.8M499.3 256.1h.8M484.1 243.1h.8M451.7 220.6h.8M471.1 234.9h.8M448.5 235.7h.8M398.3 198.7h.8M436.8 228.1h.8M388.7 205.4h.8M366.8 197.1h.8M402.9 211.6h.8M473.3 233.3h.8M372.9 195.5h.8M358.9 195.1h.8M387.4 203.7h.8M469.7 239.5h.8M484.4 242.9h.8M393.1 207.2h.8M496.1 251.8h.8M423.7 205.7h.8M455.1 234.6h.8M452.2 232.1h.8M418.7 223.0h.8M478.2 240.0h.8M486.6 250.6h.8M422.8 210.4h.8M397.2 201.7h.8M492.6 247.3h.8M457.0 237.3h.8M406.6 213.4h.8M376.6 199.9h.8M411.2 213.5h.8M418.6 219.0h.8M474.1 245.2h.8M457.3 234.5h.8M428.6 222.0h.8M488.2 250.9h.8M439.8 222.6h.8M481.6 241.1h.8M361.7 193.9h.8M364.0 182.1h.8M481.0 244.0h.8M462.3 231.5h.8M390.9 195.7h.8M370.1 201.9h.8M362.8 189.4h.8M400.0 204.4h.8M484.9 241.9h.8M380.8 196.2h.8M389.4 199.1h.8M476.8 251.1h.8M379.8 204.1h.8M387.9 200.5h.8M464.0 247.8h.8M480.5 248.2h.8M493.4 252.4h.8M358.8 188.1h.8M401.5 205.2h.8M443.7 227.6h.8M401.8 213.6h.8M463.2 242.3h.8M385.9 200.3h.8M442.7 225.5h.8M376.4 196.2h.8M374.6 196.5h.8M471.7 241.0h.8M446.2 236.5h.8M437.2 225.9h.8M408.4 209.0h.8M453.1 238.4h.8M494.9 250.1h.8M408.3 209.2h.8M359.2 179.0h.8M390.7 204.8h.8M469.2 241.6h.8M396.7 213.0h.8M465.2 243.8h.8M382.6 208.5h.8M441.5 236.3h.8M406.9 208.6h.8M432.0 223.4h.8M408.2 211.1h.8M441.1 235.1h.8M462.9 247.2h.8M457.2 243.4h.8M416.6 208.6h.8M357.6 184.0h.8M476.1 250.0h.8M368.1 193.7h.8M408.9 212.0h.8M470.4 245.6h.8M499.0 257.1h.8M461.0 232.1h.8M369.2 191.2h.8M496.8 248.7h.8M359.2 188.5h.8M357.6 188.8h.8M462.4 234.9h.8M489.9 250.6h.8M448.1 222.7h.8M483.4 245.8h.8M449.2 228.7h.8M364.7 193.0h.8M444.9 232.4h.8M467.0 239.6h.8M426.1 222.2h.8M458.6 239.3h.8M422.3 215.0h.8M367.5 184.3h.8M481.4 244.5h.8M383.0 201.4h.8M382.8 204.2h.8M371.5 202.6h.8M404.0 207.6h.8M412.4 211.6h.8M381.8 204.1h.8M376.5 197.5h.8M419.7 221.7h.8M353.9 180.8h.8M425.8 219.9h.8M368.1 192.0h.8M372.1 187.8h.8M370.0 205.5h.8M479.0 242.8h.8M474.4 241.4h.8M499.8 255.6h.8M472.9 241.9h.8M427.9 215.5h.8M411.1 216.8h.8M439.8 229.9h.8M446.5 221.7h.8M500.3 249.6h.8M402.3 207.3h.8M487.6 244.8h.8M494.7 251.5h.8M495.2 253.5h.8M445.9 230.3h.8M444.3 227.3h.8M501.5 257.2h.8M414.1 222.6h.8M468.4 240.6h.8M364.1 190.8h.8M387.8 203.6h.8M427.6 218.0h.8M462.5 235.7h.8M378.9 194.3h.8M474.9 242.2h.8M438.3 226.8h.8M372.4 193.2h.8M357.9 185.0h.8M411.8 211.8h.8M475.3 247.0h.8M498.6 247.2h.8M466.0 241.2h.8M385.8 200.2h.8M486.6 250.4h.8M375.5 196.2h.8M411.6 207.2h.8M452.3 224.5h.8M402.8 216.0h.8M401.4 216.0h.8M417.0 232.2h.8M487.7 245.8h.8M422.3 211.3h.8M365.2 191.3h.8M405.4 212.4h.8M440.0 222.9h.8M433.2 228.1h.8M495.4 249.1h.8M428.3 215.1h.8M470.6 235.0h.8M464.6 234.7h.8M422.0 221.0h.8M414.9 216.9h.8M421.1 222.5h.8M370.0 186.0h.8M365.0 186.6h.8M369.2 194.7h.8M371.6 195.9h.8M364.4 191.1h.8M411.5 216.9h.8M374.3 194.3h.8M498.7 251.3h.8M413.0 212.4h.8M352.7 186.7h.8M451.1 243.8h.8M459.3 248.2h.8M494.3 258.3h.8M388.7 211.3h.8M399.7 197.8h.8M464.3 231.3h.8M445.9 230.5h.8M445.8 230.9h.8M492.2 254.8h.8M501.5 247.4h.8M353.3 196.0h.8M410.2 211.0h.8M493.6 254.2h.8M354.7 181.9h.8M402.9 205.9h.8M466.7 238.7h.8M363.3 198.9h.8M440.2 223.3h.8M490.1 245.2h.8M432.2 220.2h.8M352.7 188.4h.8M369.1 191.5h.8M413.4 218.4h.8M353.9 186.4h.8M451.2 230.3h.8M392.4 206.3h.8M403.4 214.9h.8M469.6 242.4h.8M462.2 242.2h.8M472.1 247.3h.8M380.5 194.8h.8M403.6 211.0h.8M447.5 232.8h.8M427.3 223.6h.8M473.0 240.0h.8M414.0 216.6h.8M488.6 252.6h.8M385.1 200.6h.8M450.2 230.9h.8M472.0 245.9h.8M500.4 259.7h.8M408.8 206.5h.8M484.7 248.7h.8M442.4 222.4h.8M448.2 227.9h.8M390.6 204.7h.8M483.9 248.2h.8M362.1 183.6h.8M500.7 257.8h.8M437.1 227.5h.8M439.3 223.7h.8M378.3 199.5h.8M453.4 237.6h.8M375.4 196.9h.8M477.3 250.0h.8M464.2 235.6h.8M377.4 196.7h.8M470.3 239.9h.8M447.0 233.1h.8M396.5 201.0h.8M451.5 229.5h.8M456.4 235.1h.8M427.0 224.7h.8M456.1 231.3h.8M470.7 242.1h.8M485.8 247.3h.8M476.6 240.7h.8M368.2 200.6h.8M481.2 242.4h.8M494.5 256.9h.8M424.5 225.8h.8M487.9 250.8h.8M385.7 195.2h.8M358.1 192.5h.8M419.0 215.2h.8M370.0 199.4h.8M371.7 192.8h.8M418.6 215.7h.8M498.1 248.1h.8M430.1 221.6h.8M500.2 254.5h.8M428.4 230.6h.8M421.5 217.1h.8M355.2 184.5h.8M364.6 191.6h.8M483.2 245.9h.8M455.2 231.3h.8M436.6 221.4h.8M485.7 252.2h.8M449.6 231.8h.8M394.4 204.1h.8M481.9 245.0h.8M461.4 245.1h.8M364.1 201.7h.8M476.8 242.3h.8M406.8 208.4h.8M478.8 236.9h.8M475.9 241.5h.8M488.2 253.2h.8M369.1 192.5h.8M462.4 237.8h.8M399.0 214.4h.8M480.7 252.5h.8M369.3 203.3h.8M483.5 250.2h.8M498.0 255.5h.8M429.6 222.0h.8M434.4 224.4h.8M443.7 227.7h.8M486.7 239.3h.8M365.3 193.2h.8M479.9 238.8h.8M404.4 214.5h.8M413.0 218.1h.8M483.0 249.2h.8M370.3 203.7h.8M373.6 188.8h.8M454.2 232.3h.8M461.5 233.5h.8M385.9 194.1h.8M456.1 232.3h.8M405.6 203.6h.8M356.2 199.9h.8M391.4 198.8h.8M376.2 196.5h.8M419.8 220.4h.8M420.0 212.8h.8M409.8 213.1h.8M488.5 252.6h.8M409.8 222.5h.8M380.7 191.5h.8M494.2 264.3h.8M448.1 230.4h.8M494.8 244.5h.8M419.8 214.7h.8M442.8 231.3h.8M401.3 210.7h.8M496.5 255.8h.8M393.5 204.6h.8M491.7 251.1h.8M403.3 216.4h.8M467.2 246.5h.8M449.1 225.8h.8M468.7 246.3h.8M382.7 206.3h.8M501.9 244.3h.8M426.6 225.0h.8M363.3 198.3h.8M454.4 238.4h.8M363.7 188.6h.8M449.3 234.9h.8M459.6 236.8h.8M382.6 211.9h.8M369.4 197.8h.8M372.3 196.0h.8M450.6 231.8h.8M464.1 231.2h.8M490.0 247.6h.8M400.8 223.1h.8M366.7 201.5h.8M446.5 234.4h.8M477.5 245.8h.8M460.9 236.5h.8M425.6 217.6h.8M392.4 213.5h.8M461.4 247.7h.8M480.5 242.0h.8M384.9 206.9h.8M458.6 247.1h.8M467.7 244.5h.8M501.6 257.6h.8M408.4 218.6h.8M411.0 219.6h.8M358.7 185.2h.8M376.0 203.3h.8M463.7 236.7h.8M392.9 204.7h.8M488.8 251.3h.8M399.9 197.6h.8M471.5 248.2h.8M406.1 199.4h.8M465.5 243.6h.8M417.8 218.4h.8M383.7 200.1h.8M382.9 195.8h.8M395.0 200.9h.8M369.9 196.9h.8M482.1 248.2h.8M490.3 243.5h.8M471.5 234.3h.8M352.8 189.9h.8M484.4 241.7h.8M471.2 238.8h.8M478.4 243.6h.8M446.7 235.6h.8M383.2 207.3h.8M396.7 205.4h.8M410.4 227.1h.8M379.8 202.1h.8M356.2 186.9h.8M495.1 260.4h.8M410.5 205.9h.8M443.3 220.7h.8M368.2 199.5h.8M480.6 246.4h.8M464.8 239.2h.8M358.1 192.4h.8M382.2 203.1h.8M463.7 235.7h.8M360.6 182.9h.8M355.6 188.2h.8M369.8 194.6h.8M373.4 196.1h.8M468.1 243.4h.8M469.4 237.6h.8M437.8 228.6h.8M397.8 212.6h.8M469.6 237.6h.8M447.2 239.4h.8M361.2 193.6h.8M380.4 201.8h.8M456.4 235.3h.8M437.0 233.2h.8M411.2 218.6h.8M431.6 224.0h.8M388.5 200.7h.8M440.0 227.7h.8M372.8 197.4h.8M500.1 258.7h.8M475.6 243.4h.8M426.6 234.5h.8M498.7 250.9h.8M453.7 228.8h.8M438.8 226.7h.8M449.1 236.0h.8M457.3 228.7h.8M500.6 258.1h.8M469.7 234.3h.8M387.7 204.5h.8M360.9 194.6h.8M490.1 251.1h.8M462.7 221.0h.8M439.5 227.7h.8M425.5 218.1h.8M494.5 253.3h.8M358.4 192.0h.8M375.3 197.7h.8M399.6 206.8h.8M501.7 255.4h.8M456.3 232.0h.8M442.2 225.4h.8M403.5 209.1h.8M375.7 194.3h.8M354.5 188.0h.8M373.3 191.2h.8M378.1 196.9h.8M428.7 218.0h.8M407.0 213.0h.8M498.8 260.8h.8M490.2 252.3h.8M435.3 224.8h.8M377.0 196.6h.8M399.7 208.9h.8M356.1 181.7h.8M451.3 238.5h.8M409.8 221.8h.8M491.0 251.4h.8M399.5 209.5h.8M479.8 245.2h.8M411.2 210.8h.8M450.1 218.9h.8M405.3 217.5h.8M473.4 247.5h.8M385.7 202.6h.8M376.1 204.9h.8M359.8 194.1h.8M409.2 207.0h.8M462.1 237.6h.8M421.4 218.8h.8M478.5 239.5h.8M440.0 235.3h.8M432.1 222.5h.8M426.9 221.4h.8M358.1 188.4h.8M440.6 232.2h.8M380.7 202.1h.8M364.4 193.1h.8M367.4 190.4h.8M376.8 201.7h.8M445.1 226.6h.8M395.0 216.6h.8M396.3 205.1h.8M414.0 211.6h.8M495.5 256.8h.8M390.7 206.0h.8M397.2 207.6h.8M389.7 202.8h.8M399.3 202.8h.8M396.7 206.5h.8M476.7 245.0h.8M498.9 255.0h.8M411.1 212.6h.8M482.2 242.8h.8M368.0 193.0h.8M424.4 222.6h.8M475.4 244.9h.8M365.6 196.8h.8M501.8 259.5h.8M411.9 216.6h.8M426.9 223.9h.8M493.9 248.2h.8M490.0 255.6h.8M383.4 200.9h.8M420.4 223.7h.8M462.3 233.6h.8M421.1 217.1h.8M493.0 259.5h.8M382.1 181.8h.8M498.4 258.6h.8M445.3 229.4h.8M444.1 232.0h.8M454.6 236.2h.8M391.8 209.9h.8M418.6 218.8h.8M384.9 201.5h.8M472.9 241.2h.8M401.7 198.0h.8M373.5 197.5h.8M485.5 247.5h.8M403.7 210.9h.8M494.6 253.3h.8M418.9 218.9h.8M449.7 231.3h.8M469.9 241.8h.8M429.4 218.9h.8M493.7 249.7h.8M473.5 246.6h.8M485.8 248.1h.8M431.8 222.0h.8M371.5 197.1h.8M378.0 199.8h.8M374.0 197.4h.8M432.2 220.7h.8M494.7 251.3h.8M435.0 227.4h.8M416.5 216.6h.8M368.9 188.9h.8M408.3 217.1h.8M379.7 196.5h.8M420.5 219.4h.8M420.9 201.2h.8M492.2 248.1h.8M411.4 213.8h.8M484.6 248.0h.8M358.3 196.8h.8M404.0 213.0h.8M460.3 227.2h.8M419.1 215.9h.8M363.9 193.7h.8M405.6 211.4h.8M435.1 224.7h.8M495.4 256.9h.8M387.6 202.7h.8M365.5 190.7h.8M465.7 245.7h.8M444.4 227.1h.8M404.5 223.5h.8M410.7 221.5h.8M401.2 205.6h.8M451.5 226.7h.8M481.9 237.7h.8M397.0 213.4h.8M488.5 249.7h.8M414.8 217.2h.8M425.8 215.7h.8M390.5 203.0h.8M365.1 192.5h.8M382.2 197.9h.8M389.7 206.2h.8M417.7 212.4h.8M426.1 222.3h.8M478.8 240.7h.8M406.0 210.7h.8M466.9 238.4h.8M390.1 209.5h.8M423.8 226.8h.8M363.5 199.4h.8M485.9 245.8h.8M404.9 220.9h.8M448.1 224.6h.8M436.3 226.9h.8M425.3 226.6h.8M387.9 191.1h.8M475.7 249.1h.8M422.9 219.1h.8M371.8 197.2h.8M367.0 188.2h.8M427.6 217.3h.8M436.8 221.4h.8M393.5 208.0h.8M387.3 197.3h.8M476.6 244.2h.8M454.6 233.3h.8M373.6 194.7h.8M473.2 241.1h.8M360.7 197.0h.8M478.5 241.8h.8M477.5 251.6h.8M370.6 193.2h.8M500.7 255.2h.8M487.1 248.3h.8M378.9 204.2h.8M450.1 227.2h.8M421.8 219.5h.8M373.7 192.9h.8M383.0 204.4h.8M383.0 204.3h.8M452.8 232.7h.8M437.9 221.4h.8M497.7 259.5h.8M398.0 210.6h.8M424.2 222.2h.8M407.8 213.7h.8M409.4 215.2h.8M439.6 222.0h.8M469.9 237.6h.8M454.6 233.7h.8M369.3 191.0h.8M393.4 201.1h.8M446.0 232.7h.8M466.3 242.5h.8M482.2 243.3h.8M406.2 202.0h.8M420.9 229.2h.8M359.3 193.1h.8M429.9 215.7h.8M397.7 211.5h.8M431.0 219.0h.8M442.1 227.1h.8M377.7 204.4h.8M363.4 194.2h.8M459.0 234.1h.8M460.4 240.5h.8M500.2 252.0h.8M427.6 220.0h.8M362.2 192.9h.8M363.6 190.4h.8M497.6 255.1h.8M462.3 236.3h.8M376.9 202.8h.8M415.5 209.5h.8M381.4 201.5h.8M468.5 234.9h.8M461.8 227.3h.8M491.1 243.3h.8M450.7 232.1h.8M412.8 214.0h.8M488.8 249.6h.8M409.6 211.8h.8M462.4 241.2h.8M385.0 210.3h.8M393.6 204.4h.8M442.8 228.2h.8M396.1 200.0h.8M481.1 237.6h.8M429.5 228.6h.8M491.3 254.9h.8M442.3 224.6h.8M438.5 221.0h.8M428.1 221.1h.8M381.2 199.9h.8M404.6 219.4h.8M486.5 237.9h.8M453.7 236.6h.8M467.6 237.1h.8M414.4 213.8h.8M382.4 204.9h.8M471.3 237.5h.8M414.7 208.8h.8M468.8 240.5h.8M362.2 190.9h.8M404.9 218.8h.8M449.6 227.0h.8M491.7 246.8h.8M382.2 204.8h.8M499.3 258.6h.8M453.3 236.6h.8M382.0 213.0h.8M354.3 194.0h.8M491.3 251.5h.8M453.4 236.3h.8M460.4 240.3h.8M414.1 211.2h.8M365.2 191.4h.8M423.8 215.9h.8M448.6 231.8h.8M393.7 207.8h.8M496.0 256.7h.8M468.1 238.9h.8M354.8 177.3h.8M396.2 211.1h.8M487.1 246.0h.8M464.1 234.3h.8M472.4 242.2h.8M380.3 205.1h.8M484.2 244.7h.8M450.8 235.5h.8M412.7 215.2h.8M454.5 238.2h.8M388.7 195.3h.8M486.7 241.6h.8M363.9 196.2h.8M392.2 210.6h.8M459.8 236.4h.8M414.8 212.7h.8M484.5 241.7h.8" stroke="#000" stroke-width="0.9" fill="none"/>
<line x1="352.05" y1="186.92" x2="502.05" y2="255.53" stroke="#8c0000" stroke-width="1.3"/>
<rect x="333.3" y="147.6" width="187.50" height="130.40" fill="none" stroke="#444" stroke-width="1.4"/>
<text x="352.05" y="288" font-family="'Liberation Sans', sans-serif" font-size="9.3" text-anchor="middle" fill="#222">15</text>
<text x="389.55" y="288" font-family="'Liberation Sans', sans-serif" font-size="9.3" text-anchor="middle" fill="#222">20</text>
<text x="427.05" y="288" font-family="'Liberation Sans', sans-serif" font-size="9.3" text-anchor="middle" fill="#222">25</text>
<text x="464.55" y="288" font-family="'Liberation Sans', sans-serif" font-size="9.3" text-anchor="middle" fill="#222">30</text>
<text x="502.05" y="288" font-family="'Liberation Sans', sans-serif" font-size="9.3" text-anchor="middle" fill="#222">35</text>
<text x="329.3" y="270.17" font-family="'Liberation Sans', sans-serif" font-size="8.6" text-anchor="end" fill="#222">3.5825</text>
<text x="329.3" y="250.11" font-family="'Liberation Sans', sans-serif" font-size="8.6" text-anchor="end" fill="#222">3.5830</text>
<text x="329.3" y="230.05" font-family="'Liberation Sans', sans-serif" font-size="8.6" text-anchor="end" fill="#222">3.5835</text>
<text x="329.3" y="209.98" font-family="'Liberation Sans', sans-serif" font-size="8.6" text-anchor="end" fill="#222">3.5840</text>
<text x="329.3" y="189.92" font-family="'Liberation Sans', sans-serif" font-size="8.6" text-anchor="end" fill="#222">3.5845</text>
<text x="329.3" y="169.86" font-family="'Liberation Sans', sans-serif" font-size="8.6" text-anchor="end" fill="#222">3.5850</text>
<text x="329.3" y="149.80" font-family="'Liberation Sans', sans-serif" font-size="8.6" text-anchor="end" fill="#222">3.5855</text>
<text x="427" y="305.9" font-family="'Liberation Sans', sans-serif" font-size="10.6" text-anchor="middle" fill="#222">Temperature / °C</text>
<text transform="translate(295.3,212.8) rotate(-90)" x="0" y="0" font-family="'Liberation Sans', sans-serif" font-size="9.9" text-anchor="middle" fill="#222">Voltage / V</text>
<text x="342.4" y="265.3" font-family="'Liberation Serif', serif" font-weight="bold" font-size="21.6">(c)</text>
<text x="405.8" y="176.9" font-family="'Liberation Serif', serif" font-size="18.6">At 25% SOC</text>
<line x1="177.92" y1="329.6" x2="177.92" y2="618.3" stroke="#555" stroke-width="1.5" stroke-dasharray="6.7 7.4" stroke-dashoffset="-1.0"/>
<line x1="254.14" y1="329.6" x2="254.14" y2="618.3" stroke="#555" stroke-width="1.5" stroke-dasharray="6.7 7.4" stroke-dashoffset="-1.0"/>
<line x1="330.36" y1="329.6" x2="330.36" y2="618.3" stroke="#555" stroke-width="1.5" stroke-dasharray="6.7 7.4" stroke-dashoffset="-1.0"/>
<line x1="406.58" y1="329.6" x2="406.58" y2="618.3" stroke="#555" stroke-width="1.5" stroke-dasharray="6.7 7.4" stroke-dashoffset="-1.0"/>
<line x1="101.7" y1="401.80" x2="482.8" y2="401.80" stroke="#555" stroke-width="1.5" stroke-dasharray="6.8 7.2" stroke-dashoffset="4.90"/>
<line x1="101.7" y1="473.96" x2="482.8" y2="473.96" stroke="#555" stroke-width="1.5" stroke-dasharray="6.8 7.2" stroke-dashoffset="4.90"/>
<line x1="101.7" y1="546.12" x2="482.8" y2="546.12" stroke="#555" stroke-width="1.5" stroke-dasharray="6.8 7.2" stroke-dashoffset="4.90"/>
<line x1="177.92" y1="618.3" x2="177.92" y2="614.3" stroke="#222" stroke-width="1.3"/>
<line x1="177.92" y1="329.6" x2="177.92" y2="333.6" stroke="#222" stroke-width="1.3"/>
<line x1="254.14" y1="618.3" x2="254.14" y2="614.3" stroke="#222" stroke-width="1.3"/>
<line x1="254.14" y1="329.6" x2="254.14" y2="333.6" stroke="#222" stroke-width="1.3"/>
<line x1="330.36" y1="618.3" x2="330.36" y2="614.3" stroke="#222" stroke-width="1.3"/>
<line x1="330.36" y1="329.6" x2="330.36" y2="333.6" stroke="#222" stroke-width="1.3"/>
<line x1="406.58" y1="618.3" x2="406.58" y2="614.3" stroke="#222" stroke-width="1.3"/>
<line x1="406.58" y1="329.6" x2="406.58" y2="333.6" stroke="#222" stroke-width="1.3"/>
<line x1="101.7" y1="401.80" x2="105.7" y2="401.80" stroke="#222" stroke-width="1.3"/>
<line x1="482.8" y1="401.80" x2="478.8" y2="401.80" stroke="#222" stroke-width="1.3"/>
<line x1="101.7" y1="473.96" x2="105.7" y2="473.96" stroke="#222" stroke-width="1.3"/>
<line x1="482.8" y1="473.96" x2="478.8" y2="473.96" stroke="#222" stroke-width="1.3"/>
<line x1="101.7" y1="546.12" x2="105.7" y2="546.12" stroke="#222" stroke-width="1.3"/>
<line x1="482.8" y1="546.12" x2="478.8" y2="546.12" stroke="#222" stroke-width="1.3"/>
<rect x="101.7" y="329.6" width="381.10" height="288.70" fill="none" stroke="#222" stroke-width="1.4"/>
<polyline points="116.94,590.72 119.92,584.07 122.89,577.54 125.87,571.13 128.84,564.84 131.82,558.67 134.79,552.62 137.77,546.68 140.75,540.86 143.72,535.16 146.70,529.58 149.67,524.11 152.65,518.76 155.62,513.53 158.60,508.41 161.57,503.41 164.55,498.53 167.52,493.76 170.50,489.11 173.47,484.58 176.45,480.15 179.42,475.85 182.40,471.66 185.37,467.59 188.35,463.63 191.32,459.78 194.30,456.05 197.27,452.44 200.25,448.94 203.22,445.55 206.20,442.28 209.17,439.12 212.15,436.07 215.12,433.14 218.10,430.31 221.07,427.60 224.05,425.01 227.02,422.52 230.00,420.14 232.97,417.87 235.95,415.71 238.92,413.66 241.90,411.72 244.88,409.88 247.85,408.15 250.83,406.52 253.80,405.00 256.78,403.58 259.75,402.25 262.73,401.03 265.70,399.91 268.68,398.88 271.65,397.95 274.63,397.11 277.60,396.36 280.58,395.70 283.55,395.13 286.53,394.65 289.50,394.24 292.48,393.92 295.45,393.68 298.43,393.51 301.40,393.42 304.38,393.40 307.35,393.44 310.33,393.55 313.30,393.72 316.28,393.95 319.25,394.24 322.23,394.57 325.20,394.95 328.18,395.38 331.15,395.85 334.13,396.35 337.10,396.88 340.08,397.44 343.05,398.02 346.03,398.62 349.01,399.24 351.98,399.86 354.96,400.48 357.93,401.10 360.91,401.71 363.88,402.30 366.86,402.88 369.83,403.43 372.81,403.94 375.78,404.42 378.76,404.85 381.73,405.23 384.71,405.55 387.68,405.80 390.66,405.97 393.63,406.06 396.61,406.06 399.58,405.97 402.56,405.76 405.53,405.44 408.51,405.00 411.48,404.42 414.46,403.71 417.43,402.83 420.41,401.80 423.38,400.60 426.36,399.21 429.33,397.64 432.31,395.86 435.28,393.86 438.26,391.65 441.23,389.19 444.21,386.49 447.18,383.53 450.16,380.30 453.14,376.78 456.11,372.97 459.09,368.85 462.06,364.41 465.04,359.63 468.01,354.50 470.99,349.00" fill="none" stroke="#0072BD" stroke-width="3.4"/>
<polyline points="101.70,461.67 103.62,473.04 105.53,482.92 107.45,491.43 109.36,498.69 111.28,504.80 113.19,509.87 115.11,514.03 117.02,517.35 118.94,519.92 120.85,521.78 122.77,523.02 124.68,523.68 126.60,523.85 128.51,523.58 130.43,522.92 132.34,521.89 134.26,520.52 136.17,518.85 138.09,516.89 140.00,514.69 141.92,512.26 143.83,509.64 145.75,506.86 147.66,503.94 149.58,500.92 151.49,497.82 153.41,494.67 155.32,491.48 157.24,488.25 159.15,484.97 161.07,481.63 162.98,478.23 164.90,474.74 166.81,471.17 168.73,467.55 170.64,463.90 172.56,460.25 174.47,456.65 176.39,453.13 178.30,449.72 180.22,446.44 182.13,443.32 184.05,440.33 185.96,437.48 187.88,434.76 189.79,432.17 191.71,429.70 193.62,427.35 195.54,425.11 197.45,422.97 199.37,420.94 201.28,419.01 203.20,417.16 205.11,415.41 207.03,413.73 208.94,412.14 210.86,410.61 212.77,409.16 214.69,407.76 216.60,406.42 218.52,405.14 220.43,403.90 222.35,402.71 224.26,401.56 226.18,400.45 228.09,399.37 230.01,398.34 231.93,397.34 233.84,396.37 235.76,395.44 237.67,394.53 239.59,393.66 241.50,392.82 243.42,392.00 245.33,391.21 247.25,390.44 249.16,389.70 251.08,388.98 252.99,388.27 254.91,387.59 256.82,386.93 258.74,386.28 260.65,385.64 262.57,385.02 264.48,384.41 266.40,383.81 268.31,383.22 270.23,382.64 272.14,382.06 274.06,381.49 275.97,380.92 277.89,380.37 279.80,379.82 281.72,379.29 283.63,378.78 285.55,378.29 287.46,377.82 289.38,377.38 291.29,376.98 293.21,376.60 295.12,376.27 297.04,375.97 298.95,375.72 300.87,375.51 302.78,375.36 304.70,375.26 306.61,375.21 308.53,375.23 310.44,375.30 312.36,375.45 314.27,375.66 316.19,375.94 318.10,376.30 320.02,376.74 321.93,377.25 323.85,377.84 325.76,378.49 327.68,379.21 329.59,379.99 331.51,380.82 333.42,381.71 335.34,382.65 337.25,383.63 339.17,384.65 341.08,385.71 343.00,386.80 344.91,387.92 346.83,389.06 348.74,390.22 350.66,391.40 352.57,392.60 354.49,393.80 356.41,395.01 358.32,396.22 360.24,397.43 362.15,398.63 364.07,399.84 365.98,401.03 367.90,402.22 369.81,403.39 371.73,404.55 373.64,405.70 375.56,406.83 377.47,407.93 379.39,409.02 381.30,410.08 383.22,411.11 385.13,412.11 387.05,413.08 388.96,414.02 390.88,414.91 392.79,415.75 394.71,416.52 396.62,417.21 398.54,417.82 400.45,418.32 402.37,418.71 404.28,418.97 406.20,419.10 408.11,419.08 410.03,418.91 411.94,418.59 413.86,418.13 415.77,417.53 417.69,416.79 419.60,415.91 421.52,414.89 423.43,413.74 425.35,412.46 427.26,411.05 429.18,409.51 431.09,407.85 433.01,406.07 434.92,404.16 436.84,402.14 438.75,400.00 440.67,397.74 442.58,395.38 444.50,392.90 446.41,390.33 448.33,387.70 450.24,385.10 452.16,382.57 454.07,380.20 455.99,378.03 457.90,376.14 459.82,374.53 461.73,373.24 463.65,372.27 465.56,371.65 467.48,371.40 469.39,371.52 471.31,372.05 473.22,373.01 475.14,374.40 477.05,376.24 478.97,378.57 480.88,381.38 482.80,384.71" fill="none" stroke="#f00" stroke-width="3.4"/>
<circle cx="101.70" cy="455.20" r="3.4" fill="#f00"/>
<circle cx="120.76" cy="534.57" r="3.4" fill="#f00"/>
<circle cx="139.81" cy="523.39" r="3.4" fill="#f00"/>
<circle cx="158.87" cy="460.97" r="3.4" fill="#f00"/>
<circle cx="177.92" cy="444.01" r="3.4" fill="#f00"/>
<circle cx="196.98" cy="432.47" r="3.4" fill="#f00"/>
<circle cx="216.03" cy="423.45" r="3.4" fill="#f00"/>
<circle cx="235.08" cy="417.68" r="3.4" fill="#f00"/>
<circle cx="254.14" cy="378.71" r="3.4" fill="#f00"/>
<circle cx="273.19" cy="368.43" r="3.4" fill="#f00"/>
<circle cx="292.25" cy="370.59" r="3.4" fill="#f00"/>
<circle cx="311.31" cy="374.56" r="3.4" fill="#f00"/>
<circle cx="330.36" cy="379.07" r="3.4" fill="#f00"/>
<circle cx="349.42" cy="414.25" r="3.4" fill="#f00"/>
<circle cx="368.47" cy="411.00" r="3.4" fill="#f00"/>
<circle cx="387.53" cy="406.13" r="3.4" fill="#f00"/>
<circle cx="406.58" cy="410.28" r="3.4" fill="#f00"/>
<circle cx="425.63" cy="411.90" r="3.4" fill="#f00"/>
<circle cx="444.69" cy="391.34" r="3.4" fill="#f00"/>
<circle cx="463.75" cy="379.61" r="3.4" fill="#f00"/>
<circle cx="482.80" cy="385.02" r="3.4" fill="#f00"/>
<text x="101.70" y="642.3" font-family="'Liberation Serif', serif" font-size="19.5" text-anchor="middle" fill="#222">0</text>
<text x="177.92" y="642.3" font-family="'Liberation Serif', serif" font-size="19.5" text-anchor="middle" fill="#222">0.2</text>
<text x="254.14" y="642.3" font-family="'Liberation Serif', serif" font-size="19.5" text-anchor="middle" fill="#222">0.4</text>
<text x="330.36" y="642.3" font-family="'Liberation Serif', serif" font-size="19.5" text-anchor="middle" fill="#222">0.6</text>
<text x="406.58" y="642.3" font-family="'Liberation Serif', serif" font-size="19.5" text-anchor="middle" fill="#222">0.8</text>
<text x="482.80" y="642.3" font-family="'Liberation Serif', serif" font-size="19.5" text-anchor="middle" fill="#222">1</text>
<text x="95" y="336.54" font-family="'Liberation Serif', serif" font-size="19.5" text-anchor="end" fill="#222">2</text>
<text x="95" y="408.70" font-family="'Liberation Serif', serif" font-size="19.5" text-anchor="end" fill="#222">0</text>
<text x="95" y="480.86" font-family="'Liberation Serif', serif" font-size="19.5" text-anchor="end" fill="#222">-2</text>
<text x="95" y="553.02" font-family="'Liberation Serif', serif" font-size="19.5" text-anchor="end" fill="#222">-4</text>
<text x="95" y="625.18" font-family="'Liberation Serif', serif" font-size="19.5" text-anchor="end" fill="#222">-6</text>
<text x="102.3" y="325.5" font-family="'Liberation Serif', serif" font-size="20.8" fill="#222">×10<tspan font-size="13.5" dy="-9.3">-4</tspan></text>
<text x="110" y="359.5" font-family="'Liberation Serif', serif" font-weight="bold" font-size="22.5">(d)</text>
<text x="292.2" y="665.8" font-family="'Liberation Serif', serif" font-size="20.6" text-anchor="middle" fill="#222">SOC</text>
<text transform="translate(72,475.3) rotate(-90)" x="0" y="0" font-family="'Liberation Serif', serif" font-size="21" text-anchor="middle" fill="#222" letter-spacing="2">dU/dT / V/K</text>
<rect x="293" y="504.7" width="174" height="61.7" fill="#fff" stroke="#222" stroke-width="1.2"/>
<line x1="296.8" y1="516" x2="331.4" y2="516" stroke="#0072BD" stroke-width="3"/>
<circle cx="314.1" cy="535.8" r="3.4" fill="#f00"/>
<line x1="296.8" y1="555" x2="331.4" y2="555" stroke="#f00" stroke-width="3"/>
<text x="334" y="521.5" font-family="'Liberation Serif', serif" font-size="16.8" fill="#111">Empirical equation</text>
<text x="334" y="541" font-family="'Liberation Serif', serif" font-size="16.8" fill="#111">Measured data</text>
<text x="334" y="560.2" font-family="'Liberation Serif', serif" font-size="16.8" fill="#111">Fitted curve</text>
</svg>
</body></html>
